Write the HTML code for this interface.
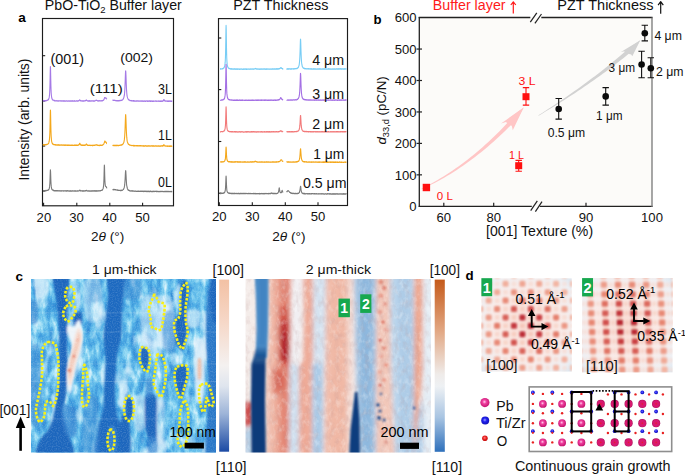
<!DOCTYPE html><html><head><meta charset="utf-8"><style>html,body{margin:0;padding:0;background:#fff;width:685px;height:475px;overflow:hidden}svg{display:block}text{font-family:"Liberation Sans", sans-serif}</style></head><body>
<svg width="685" height="475" viewBox="0 0 685 475">
<defs>
<filter id="b1" x="-20%" y="-20%" width="140%" height="140%"><feGaussianBlur stdDeviation="1.2"/></filter>
<filter id="b2" x="-20%" y="-20%" width="140%" height="140%"><feGaussianBlur stdDeviation="2.2"/></filter>
<filter id="b3" x="-20%" y="-20%" width="140%" height="140%"><feGaussianBlur stdDeviation="3.5"/></filter>
<filter id="bs" x="-50%" y="-50%" width="200%" height="200%"><feGaussianBlur stdDeviation="0.7"/></filter>
</defs>
<text x="18.2" y="22.1" font-size="13.6" text-anchor="start" fill="#000" font-weight="bold" >a</text>
<text x="44.8" y="10.4" font-size="14.2" text-anchor="start" fill="#111" textLength="137.0" lengthAdjust="spacingAndGlyphs" >PbO-TiO<tspan font-size="9.5" dy="3">2</tspan><tspan dy="-3"> Buffer layer</tspan></text>
<rect x="42.5" y="18.5" width="131" height="187.3" fill="none" stroke="#1c1c1c" stroke-width="1.15"/>
<line x1="43.6" y1="206" x2="43.6" y2="202.8" stroke="#1c1c1c" stroke-width="1.1"/>
<line x1="76.8" y1="206" x2="76.8" y2="202.8" stroke="#1c1c1c" stroke-width="1.1"/>
<line x1="109.8" y1="206" x2="109.8" y2="202.8" stroke="#1c1c1c" stroke-width="1.1"/>
<line x1="142.6" y1="206" x2="142.6" y2="202.8" stroke="#1c1c1c" stroke-width="1.1"/>
<line x1="42.6" y1="55.7" x2="45.2" y2="55.7" stroke="#1c1c1c" stroke-width="1.1"/>
<line x1="42.6" y1="101" x2="45.2" y2="101" stroke="#1c1c1c" stroke-width="1.1"/>
<line x1="42.6" y1="146" x2="45.2" y2="146" stroke="#1c1c1c" stroke-width="1.1"/>
<line x1="42.6" y1="191" x2="45.2" y2="191" stroke="#1c1c1c" stroke-width="1.1"/>
<text x="43.9" y="221.7" font-size="13.1" text-anchor="middle" fill="#111" >20</text>
<text x="76.6" y="221.7" font-size="13.1" text-anchor="middle" fill="#111" >30</text>
<text x="109.6" y="221.7" font-size="13.1" text-anchor="middle" fill="#111" >40</text>
<text x="142.6" y="221.7" font-size="13.1" text-anchor="middle" fill="#111" >50</text>
<text x="91.0" y="241.3" font-size="13.6" text-anchor="start" fill="#111" >2<tspan font-style="italic">θ</tspan> (°)</text>
<text x="28.9" y="119.6" font-size="13.9" text-anchor="middle" fill="#111" transform="rotate(-90 28.9 119.6)">Intensity (arb. units)</text>
<path d="M43.01,100.79 L43.14,100.70 L43.27,100.95 L43.40,100.65 L43.53,100.88 L43.66,100.79 L43.80,100.63 L43.93,100.85 L44.06,100.61 L44.19,100.80 L44.32,100.61 L44.46,100.62 L44.59,100.78 L44.72,100.97 L44.85,100.61 L44.98,100.65 L45.12,100.84 L45.25,100.99 L45.38,100.79 L45.51,100.69 L45.64,100.96 L45.78,100.48 L45.91,100.87 L46.04,100.57 L46.17,100.48 L46.30,100.44 L46.44,100.51 L46.57,100.74 L46.70,100.39 L46.83,100.56 L46.96,100.55 L47.09,100.38 L47.23,100.42 L47.36,100.12 L47.49,100.06 L47.62,100.07 L47.75,100.23 L47.89,100.01 L48.02,99.85 L48.15,99.87 L48.28,99.66 L48.41,99.41 L48.55,99.45 L48.68,99.15 L48.81,98.62 L48.94,98.39 L49.07,97.88 L49.21,97.42 L49.34,96.51 L49.47,95.16 L49.60,93.95 L49.73,91.32 L49.87,88.34 L50.00,84.03 L50.13,77.70 L50.26,71.12 L50.39,66.53 L50.53,68.21 L50.66,74.19 L50.79,80.75 L50.92,86.26 L51.05,89.81 L51.18,92.68 L51.32,94.51 L51.45,95.85 L51.58,96.77 L51.71,97.71 L51.84,98.32 L51.98,98.53 L52.11,98.97 L52.24,98.95 L52.37,99.50 L52.50,99.67 L52.64,100.00 L52.77,100.05 L52.90,99.89 L53.03,100.04 L53.16,100.26 L53.30,100.01 L53.43,100.30 L53.56,100.21 L53.69,100.23 L53.82,100.25 L53.96,100.64 L54.09,100.36 L54.22,100.45 L54.35,100.55 L54.48,100.81 L54.62,100.44 L54.75,100.65 L54.88,100.72 L55.01,100.90 L55.14,100.89 L55.27,100.93 L55.41,100.65 L55.54,100.73 L55.67,100.71 L55.80,100.99 L55.93,101.03 L56.07,100.64 L56.20,100.66 L56.33,100.70 L56.46,100.71 L56.59,100.84 L56.73,100.90 L56.86,100.74 L56.99,100.62 L57.12,100.83 L57.25,100.81 L57.39,100.92 L57.52,101.12 L57.65,100.99 L57.78,100.91 L57.91,100.96 L58.05,100.99 L58.18,100.69 L58.31,101.11 L58.44,101.06 L58.57,101.11 L58.70,101.07 L58.84,100.87 L58.97,100.88 L59.10,100.73 L59.23,101.00 L59.36,100.72 L59.50,100.72 L59.63,100.80 L59.76,100.78 L59.89,100.87 L60.02,100.73 L60.16,100.70 L60.29,100.78 L60.42,100.76 L60.55,100.89 L60.68,100.72 L60.82,101.15 L60.95,101.02 L61.08,100.79 L61.21,100.84 L61.34,100.89 L61.48,100.90 L61.61,100.78 L61.74,101.15 L61.87,101.22 L62.00,100.96 L62.14,100.97 L62.27,100.77 L62.40,100.78 L62.53,100.90 L62.66,100.86 L62.79,101.14 L62.93,100.81 L63.06,100.74 L63.19,101.21 L63.32,101.00 L63.45,100.81 L63.59,101.01 L63.72,100.75 L63.85,101.00 L63.98,101.23 L64.11,101.17 L64.25,101.09 L64.38,100.87 L64.51,100.92 L64.64,100.83 L64.77,101.13 L64.91,101.01 L65.04,101.13 L65.17,100.91 L65.30,100.86 L65.43,101.15 L65.57,101.24 L65.70,101.17 L65.83,101.15 L65.96,101.16 L66.09,101.12 L66.23,100.86 L66.36,101.01 L66.49,100.93 L66.62,100.77 L66.75,100.77 L66.88,100.89 L67.02,100.88 L67.15,101.10 L67.28,101.23 L67.41,100.98 L67.54,101.22 L67.68,101.25 L67.81,101.23 L67.94,100.94 L68.07,100.87 L68.20,100.87 L68.34,100.86 L68.47,100.86 L68.60,101.07 L68.73,101.21 L68.86,101.18 L69.00,101.00 L69.13,101.09 L69.26,101.16 L69.39,100.80 L69.52,101.09 L69.66,101.22 L69.79,101.15 L69.92,101.14 L70.05,101.00 L70.18,100.85 L70.31,101.16 L70.45,100.93 L70.58,101.16 L70.71,101.25 L70.84,100.96 L70.97,100.96 L71.11,101.24 L71.24,101.13 L71.37,100.85 L71.50,100.83 L71.63,100.84 L71.77,101.22 L71.90,101.17 L72.03,100.84 L72.16,101.18 L72.29,101.25 L72.43,101.09 L72.56,100.94 L72.69,101.04 L72.82,100.83 L72.95,100.77 L73.09,101.25 L73.22,101.09 L73.35,101.03 L73.48,101.23 L73.61,100.98 L73.75,101.20 L73.88,101.18 L74.01,100.87 L74.14,100.89 L74.27,100.91 L74.40,100.88 L74.54,101.06 L74.67,100.89 L74.80,100.97 L74.93,100.83 L75.06,101.22 L75.20,100.94 L75.33,100.99 L75.46,101.05 L75.59,101.21 L75.72,100.97 L75.86,101.22 L75.99,101.01 L76.12,101.02 L76.25,101.01 L76.38,100.76 L76.52,100.97 L76.65,100.84 L76.78,100.75 L76.91,101.14 L77.04,100.83 L77.18,100.97 L77.31,101.09 L77.44,101.00 L77.57,100.88 L77.70,100.97 L77.84,100.98 L77.97,101.09 L78.10,100.74 L78.23,100.95 L78.36,100.77 L78.49,100.76 L78.63,100.98 L78.76,100.81 L78.89,100.78 L79.02,100.81 L79.15,100.79 L79.29,100.42 L79.42,100.33 L79.55,100.07 L79.68,99.90 L79.81,99.92 L79.95,99.90 L80.08,100.13 L80.21,100.30 L80.34,100.70 L80.47,100.70 L80.61,100.89 L80.74,100.99 L80.87,100.69 L81.00,100.88 L81.13,101.10 L81.27,101.07 L81.40,100.74 L81.53,100.74 L81.66,100.91 L81.79,100.74 L81.92,100.83 L82.06,100.75 L82.19,101.06 L82.32,101.12 L82.45,101.18 L82.58,100.81 L82.72,101.09 L82.85,101.06 L82.98,100.81 L83.11,101.18 L83.24,101.22 L83.38,100.85 L83.51,101.21 L83.64,100.93 L83.77,100.98 L83.90,101.22 L84.04,101.14 L84.17,100.80 L84.30,100.93 L84.43,100.97 L84.56,100.87 L84.70,100.79 L84.83,100.84 L84.96,101.03 L85.09,100.66 L85.22,100.90 L85.36,100.81 L85.49,100.56 L85.62,100.66 L85.75,100.72 L85.88,100.55 L86.01,100.19 L86.15,100.48 L86.28,100.23 L86.41,100.26 L86.54,99.91 L86.67,100.15 L86.81,100.20 L86.94,100.71 L87.07,100.56 L87.20,100.57 L87.33,100.77 L87.47,101.06 L87.60,101.04 L87.73,100.79 L87.86,100.75 L87.99,101.15 L88.13,100.99 L88.26,101.06 L88.39,100.76 L88.52,100.75 L88.65,101.07 L88.79,100.95 L88.92,100.78 L89.05,101.21 L89.18,101.06 L89.31,101.15 L89.44,100.79 L89.58,101.18 L89.71,100.79 L89.84,101.19 L89.97,100.98 L90.10,100.93 L90.24,101.03 L90.37,101.22 L90.50,100.89 L90.63,100.82 L90.76,101.02 L90.90,100.88 L91.03,100.81 L91.16,100.84 L91.29,100.78 L91.42,100.86 L91.56,100.91 L91.69,100.91 L91.82,101.13 L91.95,100.90 L92.08,101.00 L92.22,100.84 L92.35,100.92 L92.48,100.76 L92.61,100.87 L92.74,100.75 L92.88,101.11 L93.01,101.02 L93.14,100.83 L93.27,100.97 L93.40,101.20 L93.53,100.78 L93.67,101.13 L93.80,100.93 L93.93,100.96 L94.06,101.12 L94.19,100.89 L94.33,100.94 L94.46,101.02 L94.59,101.15 L94.72,100.82 L94.85,101.04 L94.99,100.96 L95.12,100.89 L95.25,100.74 L95.38,100.66 L95.51,100.46 L95.65,100.42 L95.78,100.30 L95.91,100.54 L96.04,100.19 L96.17,100.07 L96.31,100.00 L96.44,100.41 L96.57,100.50 L96.70,100.50 L96.83,100.41 L96.97,100.47 L97.10,100.57 L97.23,100.71 L97.36,100.60 L97.49,100.78 L97.62,100.71 L97.76,101.08 L97.89,101.10 L98.02,100.90 L98.15,100.76 L98.28,101.13 L98.42,100.81 L98.55,100.84 L98.68,100.66 L98.81,100.85 L98.94,100.90 L99.08,100.92 L99.21,100.77 L99.34,100.92 L99.47,100.66 L99.60,100.79 L99.74,100.70 L99.87,100.85 L100.00,100.67 L100.13,100.66 L100.26,100.79 L100.40,100.75 L100.53,100.92 L100.66,100.89 L100.79,100.99 L100.92,100.93 L101.05,100.95 L101.19,101.02 L101.32,100.77 L101.45,100.72 L101.58,101.03 L101.71,100.60 L101.85,100.87 L101.98,100.81 L102.11,100.48 L102.24,100.85 L102.37,100.85 L102.51,100.68 L102.64,100.70 L102.77,100.69 L102.90,100.30 L103.03,100.43 L103.17,100.35 L103.30,100.43 L103.43,100.31 L103.56,100.20 L103.69,99.93 L103.83,99.91 L103.96,99.59 L104.09,99.34 L104.22,98.82 L104.35,98.39 L104.49,98.10 L104.62,97.89 L104.75,97.51 L104.88,97.74 L105.01,97.61 L105.14,97.75 L105.28,97.92 L105.41,98.11 L105.54,98.13 L105.67,97.93 L105.80,98.30 L105.94,98.22 L106.07,98.05 L106.20,98.12 L106.33,98.37 L106.46,98.36 L106.60,99.02 L106.73,99.09 L106.86,99.27 M112.64,100.06 L112.77,100.29 L112.90,100.03 L113.03,100.30 L113.16,100.43 L113.29,100.20 L113.43,100.16 L113.56,100.22 L113.69,100.35 L113.82,100.41 L113.95,100.36 L114.08,100.39 L114.22,100.14 L114.35,100.20 L114.48,100.27 L114.61,100.54 L114.74,100.35 L114.88,100.50 L115.01,100.25 L115.14,100.29 L115.27,100.41 L115.40,100.64 L115.53,100.66 L115.67,100.67 L115.80,100.49 L115.93,100.62 L116.06,100.61 L116.19,100.62 L116.32,100.46 L116.46,100.85 L116.59,100.52 L116.72,100.91 L116.85,100.90 L116.98,100.45 L117.12,100.67 L117.25,100.86 L117.38,100.93 L117.51,100.68 L117.64,100.59 L117.77,100.56 L117.91,100.93 L118.04,100.56 L118.17,100.75 L118.30,100.53 L118.43,100.71 L118.57,100.92 L118.70,100.51 L118.83,100.85 L118.96,100.69 L119.09,100.87 L119.22,100.77 L119.36,100.53 L119.49,100.85 L119.62,100.63 L119.75,100.39 L119.88,100.37 L120.01,100.59 L120.15,100.56 L120.28,100.47 L120.41,100.37 L120.54,100.45 L120.67,100.41 L120.81,100.65 L120.94,100.20 L121.07,100.54 L121.20,100.55 L121.33,100.16 L121.46,100.52 L121.60,100.37 L121.73,100.41 L121.86,100.05 L121.99,100.03 L122.12,99.98 L122.26,100.20 L122.39,99.91 L122.52,99.70 L122.65,99.63 L122.78,99.43 L122.91,99.18 L123.05,99.05 L123.18,99.23 L123.31,98.75 L123.44,98.83 L123.57,98.19 L123.70,97.86 L123.84,97.58 L123.97,96.93 L124.10,96.43 L124.23,96.00 L124.36,95.07 L124.50,93.92 L124.63,92.42 L124.76,90.79 L124.89,88.56 L125.02,85.57 L125.15,82.26 L125.29,78.07 L125.42,74.59 L125.55,71.54 L125.68,70.72 L125.81,72.03 L125.94,74.99 L126.08,78.76 L126.21,82.99 L126.34,85.89 L126.47,88.76 L126.60,90.85 L126.74,92.54 L126.87,94.11 L127.00,95.30 L127.13,95.81 L127.26,96.70 L127.39,97.10 L127.53,97.70 L127.66,98.02 L127.79,98.24 L127.92,98.52 L128.05,98.78 L128.19,99.34 L128.32,99.32 L128.45,99.33 L128.58,99.81 L128.71,99.98 L128.84,99.82 L128.98,99.76 L129.11,99.87 L129.24,99.89 L129.37,100.09 L129.50,100.02 L129.63,100.16 L129.77,100.22 L129.90,100.42 L130.03,100.62 L130.16,100.59 L130.29,100.46 L130.43,100.49 L130.56,100.58 L130.69,100.53 L130.82,100.54 L130.95,100.43 L131.08,100.56 L131.22,100.92 L131.35,100.52 L131.48,100.73 L131.61,100.81 L131.74,100.94 L131.88,100.63 L132.01,100.68 L132.14,100.68 L132.27,100.77 L132.40,100.80 L132.53,101.07 L132.67,101.02 L132.80,101.05 L132.93,100.63 L133.06,100.65 L133.19,100.99 L133.32,101.09 L133.46,100.89 L133.59,100.96 L133.72,100.67 L133.85,100.87 L133.98,101.15 L134.12,101.10 L134.25,101.12 L134.38,101.19 L134.51,100.83 L134.64,100.77 L134.77,100.79 L134.91,100.98 L135.04,101.07 L135.17,101.20 L135.30,101.10 L135.43,101.06 L135.56,101.13 L135.70,100.98 L135.83,101.03 L135.96,100.77 L136.09,101.15 L136.22,100.88 L136.36,101.22 L136.49,101.09 L136.62,100.92 L136.75,100.84 L136.88,100.90 L137.01,101.10 L137.15,101.13 L137.28,100.84 L137.41,100.82 L137.54,101.05 L137.67,101.08 L137.81,100.99 L137.94,100.91 L138.07,101.10 L138.20,100.81 L138.33,100.95 L138.46,101.03 L138.60,101.29 L138.73,101.13 L138.86,101.25 L138.99,101.05 L139.12,100.93 L139.25,100.94 L139.39,101.30 L139.52,101.17 L139.65,100.97 L139.78,100.83 L139.91,101.07 L140.05,101.16 L140.18,101.04 L140.31,100.96 L140.44,101.16 L140.57,101.29 L140.70,100.94 L140.84,100.85 L140.97,101.00 L141.10,101.05 L141.23,101.18 L141.36,100.94 L141.50,101.24 L141.63,101.21 L141.76,101.09 L141.89,100.95 L142.02,101.33 L142.15,101.00 L142.29,101.26 L142.42,100.96 L142.55,100.96 L142.68,101.23 L142.81,101.00 L142.94,101.33 L143.08,101.10 L143.21,100.95 L143.34,100.96 L143.47,101.06 L143.60,101.19 L143.74,101.33 L143.87,100.93 L144.00,101.05 L144.13,100.96 L144.26,101.35 L144.39,100.93 L144.53,100.89 L144.66,100.89 L144.79,101.06 L144.92,101.31 L145.05,101.31 L145.18,101.23 L145.32,101.36 L145.45,101.33 L145.58,101.03 L145.71,100.96 L145.84,101.34 L145.98,101.24 L146.11,100.89 L146.24,101.20 L146.37,101.06 L146.50,101.06 L146.63,101.04 L146.77,100.96 L146.90,100.87 L147.03,101.01 L147.16,101.05 L147.29,101.35 L147.43,100.94 L147.56,101.36 L147.69,100.98 L147.82,101.06 L147.95,101.29 L148.08,101.29 L148.22,101.10 L148.35,100.90 L148.48,101.12 L148.61,101.07 L148.74,101.34 L148.87,100.98 L149.01,101.06 L149.14,101.33 L149.27,100.90 L149.40,101.09 L149.53,101.29 L149.67,101.27 L149.80,100.91 L149.93,100.90 L150.06,100.92 L150.19,101.35 L150.32,101.02 L150.46,101.26 L150.59,101.34 L150.72,101.06 L150.85,101.02 L150.98,101.37 L151.12,101.20 L151.25,101.02 L151.38,101.25 L151.51,101.05 L151.64,101.03 L151.77,100.89 L151.91,101.27 L152.04,101.35 L152.17,101.21 L152.30,101.36 L152.43,100.91 L152.56,101.01 L152.70,101.13 L152.83,101.37 L152.96,101.37 L153.09,101.09 L153.22,101.02 L153.36,101.11 L153.49,101.14 L153.62,101.36 L153.75,100.99 L153.88,101.30 L154.01,101.27 L154.15,101.31 L154.28,101.28 L154.41,101.20 L154.54,101.06 L154.67,101.06 L154.80,101.08 L154.94,101.29 L155.07,100.94 L155.20,101.00 L155.33,101.28 L155.46,101.02 L155.60,100.93 L155.73,100.92 L155.86,101.18 L155.99,101.06 L156.12,101.39 L156.25,101.34 L156.39,101.40 L156.52,101.04 L156.65,100.94 L156.78,100.95 L156.91,101.15 L157.05,101.26 L157.18,101.13 L157.31,101.02 L157.44,101.11 L157.57,101.21 L157.70,101.24 L157.84,101.28 L157.97,101.33 L158.10,101.24 L158.23,100.96 L158.36,101.32 L158.49,101.05 L158.63,101.19 L158.76,101.09 L158.89,101.27 L159.02,101.00 L159.15,101.03 L159.29,101.03 L159.42,100.98 L159.55,101.34 L159.68,101.19 L159.81,101.06 L159.94,101.10 L160.08,101.40 L160.21,101.15 L160.34,101.01 L160.47,101.30 L160.60,101.22 L160.74,101.39 L160.87,100.94 L161.00,101.13 L161.13,101.30 L161.26,101.31 L161.39,101.34 L161.53,100.90 L161.66,101.02 L161.79,100.93 L161.92,100.96 L162.05,101.34 L162.18,101.14 L162.32,101.30 L162.45,101.01 L162.58,101.24 L162.71,101.01 L162.84,100.88 L162.98,101.10 L163.11,101.12 L163.24,100.62 L163.37,100.74 L163.50,100.57 L163.63,100.12 L163.77,99.87 L163.90,99.52 L164.03,99.58 L164.16,99.89 L164.29,100.37 L164.42,100.64 L164.56,100.58 L164.69,100.60 L164.82,100.83 L164.95,101.06 L165.08,100.86 L165.22,100.95 L165.35,100.92 L165.48,101.23 L165.61,101.12 L165.74,100.89 L165.87,100.92 L166.01,101.07 L166.14,101.16 L166.27,101.21 L166.40,100.94 L166.53,100.98 L166.67,101.25 L166.80,101.11 L166.93,101.05 L167.06,101.06 L167.19,101.39 L167.32,101.07 L167.46,101.20 L167.59,101.09 L167.72,101.12 L167.85,101.35 L167.98,101.42 L168.11,101.10 L168.25,101.02 L168.38,101.29 L168.51,101.02 L168.64,100.93 L168.77,101.38 L168.91,101.14 L169.04,101.34 L169.17,101.13 L169.30,101.37 L169.43,101.16 L169.56,101.01 L169.70,100.94 L169.83,101.21 L169.96,101.25 L170.09,101.39 L170.22,100.98 L170.36,101.24 L170.49,101.12 L170.62,101.19 L170.75,101.01 L170.88,101.08 L171.01,101.19 L171.15,101.40 L171.28,100.99 L171.41,101.18 L171.54,101.34 L171.67,101.42 L171.80,101.04 L171.94,101.00 L172.07,101.41 L172.20,101.43 " fill="none" stroke="#a57ae6" stroke-width="1.1" stroke-linejoin="round"/>
<path d="M43.01,144.87 L43.14,144.65 L43.27,145.08 L43.40,144.81 L43.53,145.07 L43.66,144.92 L43.80,145.02 L43.93,144.68 L44.06,144.99 L44.19,144.70 L44.32,144.79 L44.46,145.00 L44.59,144.99 L44.72,144.65 L44.85,144.66 L44.98,144.75 L45.12,144.79 L45.25,144.72 L45.38,144.58 L45.51,144.62 L45.64,144.85 L45.78,144.92 L45.91,144.48 L46.04,144.72 L46.17,144.80 L46.30,144.42 L46.44,144.79 L46.57,144.41 L46.70,144.62 L46.83,144.56 L46.96,144.56 L47.09,144.36 L47.23,144.37 L47.36,144.40 L47.49,144.26 L47.62,144.31 L47.75,144.12 L47.89,144.03 L48.02,143.72 L48.15,143.89 L48.28,143.68 L48.41,143.38 L48.55,143.43 L48.68,143.18 L48.81,142.70 L48.94,142.17 L49.07,141.81 L49.21,140.97 L49.34,140.12 L49.47,139.12 L49.60,137.35 L49.73,135.26 L49.87,132.07 L50.00,127.23 L50.13,121.32 L50.26,114.11 L50.39,109.94 L50.53,111.37 L50.66,117.34 L50.79,123.96 L50.92,129.70 L51.05,133.59 L51.18,136.63 L51.32,138.16 L51.45,139.90 L51.58,140.99 L51.71,141.62 L51.84,142.24 L51.98,142.39 L52.11,143.14 L52.24,143.19 L52.37,143.66 L52.50,143.83 L52.64,143.62 L52.77,144.07 L52.90,144.26 L53.03,143.93 L53.16,144.16 L53.30,144.44 L53.43,144.21 L53.56,144.64 L53.69,144.38 L53.82,144.69 L53.96,144.40 L54.09,144.62 L54.22,144.86 L54.35,144.53 L54.48,144.59 L54.62,144.74 L54.75,144.67 L54.88,144.55 L55.01,144.64 L55.14,144.65 L55.27,145.05 L55.41,144.94 L55.54,145.06 L55.67,144.71 L55.80,145.03 L55.93,144.71 L56.07,144.93 L56.20,144.99 L56.33,144.86 L56.46,145.13 L56.59,144.98 L56.73,145.00 L56.86,145.16 L56.99,144.78 L57.12,145.23 L57.25,145.05 L57.39,144.94 L57.52,145.15 L57.65,144.89 L57.78,145.26 L57.91,145.05 L58.05,144.95 L58.18,145.16 L58.31,145.00 L58.44,144.87 L58.57,145.16 L58.70,144.82 L58.84,145.21 L58.97,144.93 L59.10,145.13 L59.23,145.30 L59.36,145.11 L59.50,145.15 L59.63,144.98 L59.76,144.82 L59.89,144.84 L60.02,144.91 L60.16,145.14 L60.29,145.05 L60.42,145.10 L60.55,145.29 L60.68,144.91 L60.82,144.96 L60.95,145.18 L61.08,144.86 L61.21,144.86 L61.34,145.04 L61.48,144.91 L61.61,145.04 L61.74,144.98 L61.87,145.16 L62.00,145.16 L62.14,144.97 L62.27,145.19 L62.40,145.11 L62.53,144.95 L62.66,145.35 L62.79,145.00 L62.93,144.96 L63.06,144.94 L63.19,145.21 L63.32,145.33 L63.45,145.28 L63.59,145.10 L63.72,145.03 L63.85,144.90 L63.98,145.22 L64.11,145.18 L64.25,145.08 L64.38,145.23 L64.51,145.13 L64.64,145.38 L64.77,145.28 L64.91,145.04 L65.04,145.37 L65.17,144.94 L65.30,145.18 L65.43,145.12 L65.57,145.04 L65.70,144.95 L65.83,145.31 L65.96,144.93 L66.09,145.20 L66.23,145.40 L66.36,145.00 L66.49,145.03 L66.62,145.24 L66.75,145.19 L66.88,145.26 L67.02,145.35 L67.15,145.03 L67.28,145.10 L67.41,145.09 L67.54,144.97 L67.68,145.39 L67.81,145.34 L67.94,145.31 L68.07,144.95 L68.20,145.37 L68.34,145.33 L68.47,145.19 L68.60,145.33 L68.73,145.18 L68.86,145.07 L69.00,145.01 L69.13,145.08 L69.26,144.98 L69.39,145.13 L69.52,145.34 L69.66,145.31 L69.79,145.39 L69.92,145.32 L70.05,145.10 L70.18,145.25 L70.31,145.19 L70.45,145.37 L70.58,145.24 L70.71,145.11 L70.84,145.30 L70.97,145.46 L71.11,145.09 L71.24,145.42 L71.37,144.99 L71.50,145.11 L71.63,145.10 L71.77,145.36 L71.90,145.46 L72.03,145.36 L72.16,145.15 L72.29,145.43 L72.43,145.15 L72.56,145.11 L72.69,145.45 L72.82,145.31 L72.95,145.34 L73.09,145.33 L73.22,145.49 L73.35,145.23 L73.48,145.42 L73.61,145.35 L73.75,145.43 L73.88,145.22 L74.01,145.36 L74.14,145.29 L74.27,145.16 L74.40,145.11 L74.54,145.31 L74.67,145.04 L74.80,145.46 L74.93,145.08 L75.06,145.02 L75.20,145.06 L75.33,145.47 L75.46,145.17 L75.59,145.07 L75.72,145.02 L75.86,145.02 L75.99,145.35 L76.12,145.32 L76.25,145.35 L76.38,145.36 L76.52,145.03 L76.65,145.29 L76.78,145.17 L76.91,145.39 L77.04,145.39 L77.18,145.42 L77.31,145.00 L77.44,145.40 L77.57,145.41 L77.70,145.41 L77.84,144.98 L77.97,145.02 L78.10,144.95 L78.23,144.89 L78.36,145.26 L78.49,145.21 L78.63,145.07 L78.76,145.10 L78.89,144.92 L79.02,144.63 L79.15,144.37 L79.29,144.15 L79.42,144.19 L79.55,143.57 L79.68,143.33 L79.81,143.28 L79.95,143.23 L80.08,143.67 L80.21,144.02 L80.34,144.51 L80.47,144.55 L80.61,144.68 L80.74,145.12 L80.87,144.97 L81.00,145.21 L81.13,145.14 L81.27,144.88 L81.40,145.10 L81.53,145.14 L81.66,145.33 L81.79,145.13 L81.92,145.32 L82.06,145.25 L82.19,145.10 L82.32,145.43 L82.45,145.05 L82.58,145.42 L82.72,145.10 L82.85,145.02 L82.98,145.13 L83.11,145.41 L83.24,145.52 L83.38,145.03 L83.51,145.28 L83.64,145.28 L83.77,145.43 L83.90,145.12 L84.04,145.27 L84.17,145.20 L84.30,145.43 L84.43,145.14 L84.56,145.47 L84.70,145.13 L84.83,145.08 L84.96,145.31 L85.09,145.18 L85.22,144.96 L85.36,145.18 L85.49,144.85 L85.62,145.13 L85.75,144.98 L85.88,144.88 L86.01,144.61 L86.15,144.26 L86.28,144.09 L86.41,144.01 L86.54,144.36 L86.67,144.17 L86.81,144.79 L86.94,144.54 L87.07,144.77 L87.20,144.90 L87.33,145.29 L87.47,145.14 L87.60,145.13 L87.73,145.41 L87.86,145.11 L87.99,145.25 L88.13,145.30 L88.26,145.42 L88.39,145.43 L88.52,145.39 L88.65,145.25 L88.79,145.24 L88.92,145.17 L89.05,145.51 L89.18,145.43 L89.31,145.47 L89.44,145.19 L89.58,145.33 L89.71,145.50 L89.84,145.41 L89.97,145.18 L90.10,145.35 L90.24,145.57 L90.37,145.24 L90.50,145.22 L90.63,145.28 L90.76,145.48 L90.90,145.55 L91.03,145.21 L91.16,145.21 L91.29,145.26 L91.42,145.30 L91.56,145.40 L91.69,145.22 L91.82,145.30 L91.95,145.23 L92.08,145.62 L92.22,145.50 L92.35,145.19 L92.48,145.62 L92.61,145.19 L92.74,145.33 L92.88,145.63 L93.01,145.53 L93.14,145.50 L93.27,145.35 L93.40,145.23 L93.53,145.44 L93.67,145.17 L93.80,145.22 L93.93,145.31 L94.06,145.12 L94.19,145.30 L94.33,145.49 L94.46,145.43 L94.59,145.32 L94.72,145.37 L94.85,145.27 L94.99,145.08 L95.12,145.29 L95.25,145.15 L95.38,145.27 L95.51,145.30 L95.65,144.99 L95.78,144.97 L95.91,144.96 L96.04,144.69 L96.17,144.52 L96.31,144.74 L96.44,144.85 L96.57,144.88 L96.70,144.94 L96.83,145.12 L96.97,145.12 L97.10,145.17 L97.23,145.13 L97.36,145.11 L97.49,145.30 L97.62,145.06 L97.76,145.24 L97.89,145.44 L98.02,145.42 L98.15,145.39 L98.28,145.21 L98.42,145.30 L98.55,145.32 L98.68,145.41 L98.81,145.31 L98.94,145.44 L99.08,145.57 L99.21,145.20 L99.34,145.43 L99.47,145.49 L99.60,145.30 L99.74,145.35 L99.87,145.59 L100.00,145.11 L100.13,145.36 L100.26,145.17 L100.40,145.47 L100.53,145.54 L100.66,145.33 L100.79,145.11 L100.92,145.33 L101.05,145.31 L101.19,145.38 L101.32,145.27 L101.45,145.31 L101.58,145.39 L101.71,145.22 L101.85,145.14 L101.98,145.39 L102.11,144.99 L102.24,145.19 L102.37,145.01 L102.51,145.15 L102.64,144.78 L102.77,145.16 L102.90,144.78 L103.03,144.55 L103.17,144.56 L103.30,144.52 L103.43,144.19 L103.56,144.24 L103.69,144.05 L103.83,143.96 L103.96,143.52 L104.09,143.15 L104.22,142.75 L104.35,142.58 L104.49,142.24 L104.62,141.62 L104.75,141.15 L104.88,141.29 L105.01,141.11 L105.14,141.20 L105.28,141.43 L105.41,142.02 L105.54,142.26 L105.67,142.31 L105.80,142.28 L105.94,142.33 L106.07,142.18 L106.20,142.65 L106.33,142.57 L106.46,143.04 L106.60,143.48 L106.73,143.82 L106.86,143.94 M112.64,145.40 L112.77,145.52 L112.90,145.31 L113.03,145.67 L113.16,145.43 L113.29,145.68 L113.43,145.39 L113.56,145.45 L113.69,145.39 L113.82,145.47 L113.95,145.35 L114.08,145.26 L114.22,145.62 L114.35,145.40 L114.48,145.38 L114.61,145.41 L114.74,145.50 L114.88,145.47 L115.01,145.58 L115.14,145.59 L115.27,145.44 L115.40,145.72 L115.53,145.68 L115.67,145.28 L115.80,145.67 L115.93,145.70 L116.06,145.64 L116.19,145.32 L116.32,145.66 L116.46,145.56 L116.59,145.25 L116.72,145.24 L116.85,145.71 L116.98,145.56 L117.12,145.35 L117.25,145.27 L117.38,145.29 L117.51,145.33 L117.64,145.60 L117.77,145.38 L117.91,145.27 L118.04,145.64 L118.17,145.58 L118.30,145.26 L118.43,145.62 L118.57,145.47 L118.70,145.55 L118.83,145.48 L118.96,145.58 L119.09,145.52 L119.22,145.53 L119.36,145.20 L119.49,145.44 L119.62,145.34 L119.75,145.43 L119.88,145.27 L120.01,145.47 L120.15,145.29 L120.28,145.12 L120.41,145.09 L120.54,145.02 L120.67,145.17 L120.81,144.92 L120.94,145.10 L121.07,144.91 L121.20,145.04 L121.33,145.01 L121.46,144.99 L121.60,145.10 L121.73,144.62 L121.86,144.98 L121.99,144.74 L122.12,144.71 L122.26,144.69 L122.39,144.69 L122.52,144.36 L122.65,144.27 L122.78,144.42 L122.91,143.83 L123.05,143.95 L123.18,143.77 L123.31,143.25 L123.44,143.29 L123.57,143.03 L123.70,142.81 L123.84,142.10 L123.97,141.93 L124.10,141.09 L124.23,140.34 L124.36,139.64 L124.50,138.07 L124.63,136.99 L124.76,135.14 L124.89,132.72 L125.02,130.14 L125.15,126.44 L125.29,122.58 L125.42,118.72 L125.55,115.89 L125.68,114.62 L125.81,116.12 L125.94,119.30 L126.08,123.32 L126.21,127.31 L126.34,130.40 L126.47,133.41 L126.60,135.39 L126.74,137.17 L126.87,138.43 L127.00,139.64 L127.13,140.75 L127.26,141.31 L127.39,141.96 L127.53,142.21 L127.66,142.61 L127.79,142.94 L127.92,143.37 L128.05,143.64 L128.19,143.93 L128.32,143.74 L128.45,144.24 L128.58,144.46 L128.71,144.42 L128.84,144.28 L128.98,144.50 L129.11,144.44 L129.24,144.61 L129.37,145.05 L129.50,144.96 L129.63,145.04 L129.77,145.16 L129.90,145.27 L130.03,145.16 L130.16,145.21 L130.29,145.25 L130.43,145.32 L130.56,145.30 L130.69,145.37 L130.82,145.16 L130.95,145.42 L131.08,145.34 L131.22,145.51 L131.35,145.20 L131.48,145.26 L131.61,145.21 L131.74,145.59 L131.88,145.68 L132.01,145.57 L132.14,145.44 L132.27,145.68 L132.40,145.67 L132.53,145.57 L132.67,145.43 L132.80,145.46 L132.93,145.54 L133.06,145.49 L133.19,145.56 L133.32,145.67 L133.46,145.83 L133.59,145.40 L133.72,145.66 L133.85,145.41 L133.98,145.45 L134.12,145.81 L134.25,145.70 L134.38,145.88 L134.51,145.65 L134.64,145.44 L134.77,145.63 L134.91,145.74 L135.04,145.91 L135.17,145.94 L135.30,145.69 L135.43,145.67 L135.56,145.52 L135.70,145.79 L135.83,145.58 L135.96,145.56 L136.09,145.49 L136.22,145.49 L136.36,145.84 L136.49,145.56 L136.62,145.99 L136.75,145.55 L136.88,145.94 L137.01,145.58 L137.15,145.53 L137.28,145.88 L137.41,145.65 L137.54,145.89 L137.67,145.62 L137.81,145.56 L137.94,145.92 L138.07,145.90 L138.20,145.97 L138.33,145.91 L138.46,145.59 L138.60,145.87 L138.73,145.91 L138.86,145.79 L138.99,146.03 L139.12,145.69 L139.25,146.05 L139.39,145.93 L139.52,145.58 L139.65,145.58 L139.78,145.90 L139.91,145.99 L140.05,145.62 L140.18,145.74 L140.31,145.95 L140.44,145.67 L140.57,146.02 L140.70,145.84 L140.84,145.63 L140.97,145.78 L141.10,145.89 L141.23,145.82 L141.36,145.94 L141.50,145.68 L141.63,146.01 L141.76,145.79 L141.89,145.94 L142.02,145.93 L142.15,145.83 L142.29,145.81 L142.42,146.01 L142.55,146.10 L142.68,146.02 L142.81,145.91 L142.94,145.78 L143.08,145.66 L143.21,146.12 L143.34,145.99 L143.47,146.05 L143.60,145.80 L143.74,145.94 L143.87,146.13 L144.00,146.06 L144.13,145.95 L144.26,145.80 L144.39,145.86 L144.53,146.10 L144.66,145.84 L144.79,146.00 L144.92,145.96 L145.05,146.11 L145.18,146.06 L145.32,145.80 L145.45,145.66 L145.58,145.80 L145.71,145.88 L145.84,145.96 L145.98,146.08 L146.11,146.12 L146.24,145.69 L146.37,146.09 L146.50,146.08 L146.63,146.11 L146.77,145.97 L146.90,145.82 L147.03,146.11 L147.16,146.09 L147.29,146.03 L147.43,146.14 L147.56,145.86 L147.69,145.73 L147.82,145.97 L147.95,146.09 L148.08,145.80 L148.22,146.07 L148.35,146.16 L148.48,145.82 L148.61,146.00 L148.74,146.04 L148.87,145.94 L149.01,145.81 L149.14,145.83 L149.27,146.08 L149.40,146.11 L149.53,145.94 L149.67,145.76 L149.80,146.12 L149.93,146.10 L150.06,145.83 L150.19,146.01 L150.32,146.17 L150.46,146.16 L150.59,145.98 L150.72,145.96 L150.85,146.02 L150.98,145.82 L151.12,145.83 L151.25,145.82 L151.38,146.08 L151.51,145.91 L151.64,146.02 L151.77,145.94 L151.91,146.00 L152.04,145.81 L152.17,145.76 L152.30,146.24 L152.43,145.93 L152.56,145.80 L152.70,146.06 L152.83,146.14 L152.96,145.83 L153.09,146.05 L153.22,145.92 L153.36,146.01 L153.49,145.76 L153.62,145.77 L153.75,146.25 L153.88,146.19 L154.01,146.00 L154.15,146.04 L154.28,145.89 L154.41,146.15 L154.54,145.98 L154.67,146.24 L154.80,146.15 L154.94,146.18 L155.07,146.25 L155.20,145.90 L155.33,145.79 L155.46,145.87 L155.60,145.87 L155.73,145.82 L155.86,145.80 L155.99,146.06 L156.12,146.22 L156.25,146.01 L156.39,146.26 L156.52,146.24 L156.65,145.82 L156.78,146.09 L156.91,145.99 L157.05,145.85 L157.18,146.27 L157.31,145.92 L157.44,146.07 L157.57,146.11 L157.70,146.27 L157.84,146.13 L157.97,145.99 L158.10,146.02 L158.23,145.88 L158.36,146.28 L158.49,146.30 L158.63,145.91 L158.76,145.82 L158.89,145.93 L159.02,145.98 L159.15,146.26 L159.29,146.26 L159.42,146.22 L159.55,145.83 L159.68,146.20 L159.81,146.16 L159.94,146.13 L160.08,146.30 L160.21,145.84 L160.34,145.88 L160.47,146.19 L160.60,146.28 L160.74,146.15 L160.87,145.96 L161.00,146.10 L161.13,146.18 L161.26,145.86 L161.39,145.96 L161.53,145.93 L161.66,145.86 L161.79,146.03 L161.92,145.87 L162.05,145.90 L162.18,145.84 L162.32,146.10 L162.45,145.76 L162.58,146.09 L162.71,145.81 L162.84,145.70 L162.98,146.10 L163.11,145.69 L163.24,145.97 L163.37,145.81 L163.50,145.64 L163.63,145.01 L163.77,144.85 L163.90,144.44 L164.03,144.89 L164.16,145.12 L164.29,145.32 L164.42,145.48 L164.56,145.59 L164.69,145.95 L164.82,145.85 L164.95,145.98 L165.08,145.78 L165.22,145.85 L165.35,145.79 L165.48,146.14 L165.61,146.07 L165.74,145.88 L165.87,146.26 L166.01,145.96 L166.14,146.04 L166.27,145.92 L166.40,145.98 L166.53,146.27 L166.67,146.02 L166.80,145.95 L166.93,146.11 L167.06,146.03 L167.19,146.32 L167.32,145.93 L167.46,146.37 L167.59,145.91 L167.72,146.33 L167.85,146.22 L167.98,145.99 L168.11,146.13 L168.25,146.03 L168.38,146.02 L168.51,146.00 L168.64,146.08 L168.77,146.39 L168.91,146.40 L169.04,146.37 L169.17,145.95 L169.30,146.05 L169.43,146.36 L169.56,145.94 L169.70,146.27 L169.83,146.06 L169.96,146.40 L170.09,145.92 L170.22,146.32 L170.36,146.09 L170.49,145.99 L170.62,145.92 L170.75,146.34 L170.88,146.19 L171.01,146.02 L171.15,146.15 L171.28,146.39 L171.41,146.04 L171.54,146.22 L171.67,146.00 L171.80,146.02 L171.94,146.32 L172.07,146.29 L172.20,146.04 " fill="none" stroke="#f4a81c" stroke-width="1.1" stroke-linejoin="round"/>
<path d="M43.01,190.51 L43.14,190.51 L43.27,190.77 L43.40,190.71 L43.53,190.60 L43.66,190.57 L43.80,190.77 L43.93,190.81 L44.06,190.86 L44.19,190.74 L44.32,190.55 L44.46,190.48 L44.59,190.81 L44.72,190.64 L44.85,190.79 L44.98,190.45 L45.12,190.82 L45.25,190.58 L45.38,190.83 L45.51,190.83 L45.64,190.64 L45.78,190.39 L45.91,190.83 L46.04,190.60 L46.17,190.79 L46.30,190.47 L46.44,190.42 L46.57,190.72 L46.70,190.47 L46.83,190.35 L46.96,190.43 L47.09,190.52 L47.23,190.20 L47.36,190.43 L47.49,190.35 L47.62,190.35 L47.75,190.10 L47.89,190.35 L48.02,190.34 L48.15,190.29 L48.28,189.93 L48.41,190.02 L48.55,189.73 L48.68,189.76 L48.81,189.23 L48.94,189.40 L49.07,189.15 L49.21,188.53 L49.34,188.03 L49.47,187.35 L49.60,186.41 L49.73,184.82 L49.87,183.38 L50.00,180.28 L50.13,176.59 L50.26,172.45 L50.39,169.86 L50.53,170.98 L50.66,174.20 L50.79,178.29 L50.92,181.85 L51.05,183.93 L51.18,185.47 L51.32,186.91 L51.45,187.72 L51.58,188.29 L51.71,188.83 L51.84,188.88 L51.98,189.53 L52.11,189.67 L52.24,189.50 L52.37,189.68 L52.50,189.98 L52.64,190.08 L52.77,190.06 L52.90,190.05 L53.03,190.25 L53.16,190.17 L53.30,190.44 L53.43,190.61 L53.56,190.29 L53.69,190.53 L53.82,190.65 L53.96,190.38 L54.09,190.74 L54.22,190.81 L54.35,190.56 L54.48,190.59 L54.62,190.81 L54.75,190.67 L54.88,190.62 L55.01,190.90 L55.14,190.83 L55.27,190.62 L55.41,190.58 L55.54,190.64 L55.67,190.69 L55.80,190.98 L55.93,190.89 L56.07,190.95 L56.20,190.91 L56.33,190.93 L56.46,190.54 L56.59,190.78 L56.73,191.00 L56.86,191.00 L56.99,190.66 L57.12,190.75 L57.25,190.86 L57.39,190.73 L57.52,190.82 L57.65,190.59 L57.78,190.77 L57.91,190.81 L58.05,190.57 L58.18,190.64 L58.31,191.05 L58.44,190.96 L58.57,191.04 L58.70,190.89 L58.84,190.99 L58.97,191.03 L59.10,191.03 L59.23,190.60 L59.36,190.91 L59.50,190.72 L59.63,190.93 L59.76,190.73 L59.89,190.87 L60.02,191.06 L60.16,190.91 L60.29,190.73 L60.42,190.87 L60.55,190.82 L60.68,191.08 L60.82,190.75 L60.95,190.76 L61.08,190.94 L61.21,190.68 L61.34,190.91 L61.48,191.10 L61.61,190.88 L61.74,190.76 L61.87,190.86 L62.00,190.89 L62.14,190.70 L62.27,190.69 L62.40,190.69 L62.53,190.78 L62.66,190.83 L62.79,190.78 L62.93,190.75 L63.06,190.68 L63.19,190.91 L63.32,191.06 L63.45,190.94 L63.59,190.92 L63.72,190.97 L63.85,190.74 L63.98,191.00 L64.11,190.87 L64.25,190.92 L64.38,190.95 L64.51,190.88 L64.64,190.80 L64.77,190.77 L64.91,190.76 L65.04,190.91 L65.17,190.84 L65.30,190.95 L65.43,190.66 L65.57,190.83 L65.70,191.09 L65.83,190.78 L65.96,190.94 L66.09,190.91 L66.23,190.80 L66.36,191.15 L66.49,190.81 L66.62,191.05 L66.75,190.74 L66.88,190.70 L67.02,191.10 L67.15,190.89 L67.28,190.70 L67.41,190.86 L67.54,190.89 L67.68,191.04 L67.81,190.73 L67.94,190.78 L68.07,191.15 L68.20,191.04 L68.34,190.75 L68.47,190.84 L68.60,190.85 L68.73,191.01 L68.86,190.99 L69.00,191.10 L69.13,191.09 L69.26,190.94 L69.39,191.05 L69.52,191.05 L69.66,191.06 L69.79,190.92 L69.92,191.08 L70.05,191.04 L70.18,191.14 L70.31,190.75 L70.45,191.12 L70.58,190.69 L70.71,191.07 L70.84,190.98 L70.97,190.94 L71.11,191.17 L71.24,190.98 L71.37,190.90 L71.50,191.09 L71.63,191.13 L71.77,191.00 L71.90,190.88 L72.03,190.92 L72.16,190.93 L72.29,191.06 L72.43,190.84 L72.56,190.89 L72.69,190.98 L72.82,190.89 L72.95,190.86 L73.09,191.09 L73.22,191.13 L73.35,190.95 L73.48,190.92 L73.61,190.80 L73.75,190.86 L73.88,190.78 L74.01,190.99 L74.14,191.00 L74.27,190.75 L74.40,191.17 L74.54,190.87 L74.67,191.13 L74.80,191.13 L74.93,191.19 L75.06,190.81 L75.20,190.92 L75.33,191.16 L75.46,190.71 L75.59,190.73 L75.72,190.99 L75.86,190.96 L75.99,191.17 L76.12,191.09 L76.25,190.98 L76.38,191.21 L76.52,190.96 L76.65,190.96 L76.78,191.05 L76.91,190.90 L77.04,190.88 L77.18,191.00 L77.31,190.87 L77.44,191.17 L77.57,191.03 L77.70,190.95 L77.84,190.73 L77.97,190.86 L78.10,190.87 L78.23,190.94 L78.36,190.93 L78.49,191.07 L78.63,191.09 L78.76,190.83 L78.89,190.77 L79.02,190.82 L79.15,190.94 L79.29,190.52 L79.42,190.50 L79.55,190.51 L79.68,190.06 L79.81,190.10 L79.95,190.49 L80.08,190.54 L80.21,190.52 L80.34,190.43 L80.47,190.91 L80.61,190.87 L80.74,190.98 L80.87,191.09 L81.00,191.07 L81.13,190.85 L81.27,190.74 L81.40,190.82 L81.53,190.94 L81.66,190.94 L81.79,190.79 L81.92,190.79 L82.06,191.02 L82.19,191.01 L82.32,190.89 L82.45,191.21 L82.58,191.04 L82.72,190.74 L82.85,190.93 L82.98,191.12 L83.11,190.88 L83.24,191.07 L83.38,190.73 L83.51,190.88 L83.64,191.14 L83.77,191.02 L83.90,191.06 L84.04,190.82 L84.17,190.97 L84.30,190.99 L84.43,190.85 L84.56,191.03 L84.70,190.97 L84.83,191.20 L84.96,190.98 L85.09,190.88 L85.22,190.72 L85.36,190.72 L85.49,191.00 L85.62,190.64 L85.75,190.59 L85.88,190.56 L86.01,190.64 L86.15,190.69 L86.28,190.50 L86.41,190.56 L86.54,190.24 L86.67,190.31 L86.81,190.79 L86.94,190.65 L87.07,190.91 L87.20,190.77 L87.33,190.71 L87.47,190.79 L87.60,190.72 L87.73,191.14 L87.86,190.99 L87.99,190.88 L88.13,190.94 L88.26,190.92 L88.39,190.76 L88.52,191.18 L88.65,191.03 L88.79,191.22 L88.92,190.96 L89.05,191.05 L89.18,190.87 L89.31,190.77 L89.44,191.21 L89.58,191.18 L89.71,190.91 L89.84,191.20 L89.97,191.16 L90.10,190.91 L90.24,191.06 L90.37,191.23 L90.50,191.00 L90.63,191.23 L90.76,190.88 L90.90,190.95 L91.03,191.12 L91.16,190.87 L91.29,190.91 L91.42,191.19 L91.56,191.00 L91.69,191.15 L91.82,190.88 L91.95,190.84 L92.08,190.93 L92.22,190.85 L92.35,191.24 L92.48,190.90 L92.61,191.04 L92.74,190.81 L92.88,191.02 L93.01,190.95 L93.14,190.95 L93.27,190.78 L93.40,190.81 L93.53,191.16 L93.67,190.92 L93.80,190.87 L93.93,190.84 L94.06,190.89 L94.19,190.86 L94.33,190.76 L94.46,191.07 L94.59,190.91 L94.72,190.82 L94.85,191.09 L94.99,190.78 L95.12,190.87 L95.25,191.15 L95.38,190.80 L95.51,190.95 L95.65,191.15 L95.78,191.13 L95.91,190.80 L96.04,190.90 L96.17,191.08 L96.31,190.90 L96.44,191.19 L96.57,190.81 L96.70,191.18 L96.83,190.96 L96.97,190.81 L97.10,190.92 L97.23,190.76 L97.36,191.04 L97.49,190.81 L97.62,191.13 L97.76,190.97 L97.89,190.85 L98.02,190.79 L98.15,190.96 L98.28,190.76 L98.42,191.08 L98.55,190.70 L98.68,190.89 L98.81,190.90 L98.94,190.75 L99.08,190.99 L99.21,190.79 L99.34,190.92 L99.47,190.86 L99.60,190.72 L99.74,190.75 L99.87,190.58 L100.00,190.61 L100.13,190.93 L100.26,190.65 L100.40,190.80 L100.53,190.50 L100.66,190.71 L100.79,190.58 L100.92,190.62 L101.05,190.49 L101.19,190.34 L101.32,190.42 L101.45,190.34 L101.58,190.24 L101.71,190.47 L101.85,190.19 L101.98,190.18 L102.11,190.34 L102.24,190.18 L102.37,190.11 L102.51,189.95 L102.64,189.42 L102.77,189.27 L102.90,188.88 L103.03,188.87 L103.17,188.43 L103.30,187.70 L103.43,186.95 L103.56,186.00 L103.69,184.48 L103.83,182.01 L103.96,179.01 L104.09,174.12 L104.22,168.80 L104.35,164.96 L104.49,166.23 L104.62,171.54 L104.75,176.51 L104.88,180.28 L105.01,182.47 L105.14,184.12 L105.28,185.23 L105.41,185.89 L105.54,186.31 L105.67,186.52 L105.80,186.39 L105.94,186.52 L106.07,186.70 L106.20,186.57 L106.33,187.11 L106.46,187.29 L106.60,187.74 L106.73,187.90 L106.86,188.35 M112.64,189.92 L112.77,189.73 L112.90,189.53 L113.03,189.92 L113.16,189.86 L113.29,189.60 L113.43,189.45 L113.56,189.84 L113.69,189.70 L113.82,189.40 L113.95,189.49 L114.08,189.42 L114.22,189.75 L114.35,189.46 L114.48,189.81 L114.61,189.73 L114.74,189.40 L114.88,189.72 L115.01,189.58 L115.14,189.77 L115.27,189.83 L115.40,189.58 L115.53,189.51 L115.67,189.96 L115.80,189.72 L115.93,190.00 L116.06,189.91 L116.19,189.97 L116.32,190.04 L116.46,189.97 L116.59,189.92 L116.72,189.75 L116.85,190.10 L116.98,190.00 L117.12,190.07 L117.25,190.31 L117.38,189.93 L117.51,190.28 L117.64,189.95 L117.77,190.30 L117.91,190.38 L118.04,190.13 L118.17,190.30 L118.30,190.53 L118.43,190.39 L118.57,190.36 L118.70,190.23 L118.83,190.15 L118.96,190.32 L119.09,190.36 L119.22,190.27 L119.36,190.33 L119.49,190.26 L119.62,190.55 L119.75,190.54 L119.88,190.33 L120.01,190.34 L120.15,190.48 L120.28,190.45 L120.41,190.69 L120.54,190.40 L120.67,190.37 L120.81,190.66 L120.94,190.28 L121.07,190.48 L121.20,190.36 L121.33,190.58 L121.46,190.43 L121.60,190.52 L121.73,190.20 L121.86,190.42 L121.99,190.35 L122.12,190.25 L122.26,190.36 L122.39,190.34 L122.52,189.93 L122.65,189.95 L122.78,189.91 L122.91,189.75 L123.05,189.57 L123.18,189.57 L123.31,189.39 L123.44,189.48 L123.57,189.17 L123.70,188.78 L123.84,188.62 L123.97,188.37 L124.10,187.92 L124.23,187.34 L124.36,186.70 L124.50,185.92 L124.63,185.48 L124.76,184.17 L124.89,182.33 L125.02,180.77 L125.15,178.63 L125.29,175.83 L125.42,173.04 L125.55,171.28 L125.68,170.60 L125.81,171.40 L125.94,173.69 L126.08,176.04 L126.21,179.05 L126.34,181.13 L126.47,182.94 L126.60,184.55 L126.74,185.56 L126.87,186.27 L127.00,186.99 L127.13,187.52 L127.26,187.94 L127.39,188.70 L127.53,189.05 L127.66,189.05 L127.79,189.22 L127.92,189.64 L128.05,189.91 L128.19,190.09 L128.32,189.84 L128.45,190.25 L128.58,190.37 L128.71,190.41 L128.84,190.28 L128.98,190.27 L129.11,190.65 L129.24,190.45 L129.37,190.53 L129.50,190.66 L129.63,190.61 L129.77,190.88 L129.90,190.62 L130.03,190.55 L130.16,190.84 L130.29,190.90 L130.43,191.02 L130.56,190.98 L130.69,191.10 L130.82,191.14 L130.95,190.94 L131.08,190.95 L131.22,190.80 L131.35,190.89 L131.48,191.04 L131.61,190.80 L131.74,191.12 L131.88,190.87 L132.01,191.02 L132.14,191.30 L132.27,190.87 L132.40,190.85 L132.53,191.06 L132.67,190.94 L132.80,191.22 L132.93,190.87 L133.06,191.29 L133.19,191.31 L133.32,191.28 L133.46,191.11 L133.59,191.04 L133.72,191.24 L133.85,191.17 L133.98,191.13 L134.12,191.09 L134.25,191.15 L134.38,191.27 L134.51,191.35 L134.64,191.40 L134.77,191.03 L134.91,191.10 L135.04,191.18 L135.17,191.24 L135.30,191.14 L135.43,191.07 L135.56,191.02 L135.70,191.14 L135.83,191.21 L135.96,191.47 L136.09,191.44 L136.22,191.43 L136.36,191.48 L136.49,191.48 L136.62,191.31 L136.75,191.41 L136.88,191.04 L137.01,191.35 L137.15,191.32 L137.28,191.17 L137.41,191.31 L137.54,191.50 L137.67,191.27 L137.81,191.35 L137.94,191.18 L138.07,191.21 L138.20,191.48 L138.33,191.05 L138.46,191.14 L138.60,191.38 L138.73,191.27 L138.86,191.09 L138.99,191.38 L139.12,191.24 L139.25,191.35 L139.39,191.27 L139.52,191.32 L139.65,191.34 L139.78,191.26 L139.91,191.12 L140.05,191.16 L140.18,191.51 L140.31,191.35 L140.44,191.13 L140.57,191.51 L140.70,191.20 L140.84,191.13 L140.97,191.35 L141.10,191.21 L141.23,191.33 L141.36,191.36 L141.50,191.20 L141.63,191.38 L141.76,191.15 L141.89,191.35 L142.02,191.39 L142.15,191.14 L142.29,191.30 L142.42,191.14 L142.55,191.32 L142.68,191.53 L142.81,191.38 L142.94,191.46 L143.08,191.49 L143.21,191.17 L143.34,191.61 L143.47,191.47 L143.60,191.16 L143.74,191.53 L143.87,191.31 L144.00,191.20 L144.13,191.60 L144.26,191.40 L144.39,191.51 L144.53,191.19 L144.66,191.51 L144.79,191.16 L144.92,191.25 L145.05,191.32 L145.18,191.14 L145.32,191.43 L145.45,191.24 L145.58,191.28 L145.71,191.49 L145.84,191.35 L145.98,191.58 L146.11,191.45 L146.24,191.58 L146.37,191.42 L146.50,191.60 L146.63,191.58 L146.77,191.23 L146.90,191.52 L147.03,191.32 L147.16,191.53 L147.29,191.49 L147.43,191.57 L147.56,191.22 L147.69,191.34 L147.82,191.52 L147.95,191.63 L148.08,191.52 L148.22,191.18 L148.35,191.46 L148.48,191.21 L148.61,191.44 L148.74,191.57 L148.87,191.22 L149.01,191.63 L149.14,191.51 L149.27,191.30 L149.40,191.27 L149.53,191.39 L149.67,191.59 L149.80,191.46 L149.93,191.23 L150.06,191.19 L150.19,191.23 L150.32,191.58 L150.46,191.27 L150.59,191.46 L150.72,191.33 L150.85,191.53 L150.98,191.37 L151.12,191.26 L151.25,191.62 L151.38,191.46 L151.51,191.53 L151.64,191.59 L151.77,191.66 L151.91,191.20 L152.04,191.36 L152.17,191.27 L152.30,191.45 L152.43,191.63 L152.56,191.60 L152.70,191.22 L152.83,191.29 L152.96,191.61 L153.09,191.54 L153.22,191.40 L153.36,191.44 L153.49,191.28 L153.62,191.63 L153.75,191.40 L153.88,191.64 L154.01,191.51 L154.15,191.25 L154.28,191.38 L154.41,191.32 L154.54,191.66 L154.67,191.51 L154.80,191.24 L154.94,191.30 L155.07,191.40 L155.20,191.45 L155.33,191.51 L155.46,191.41 L155.60,191.40 L155.73,191.22 L155.86,191.51 L155.99,191.39 L156.12,191.23 L156.25,191.46 L156.39,191.72 L156.52,191.25 L156.65,191.30 L156.78,191.57 L156.91,191.37 L157.05,191.37 L157.18,191.48 L157.31,191.36 L157.44,191.52 L157.57,191.50 L157.70,191.71 L157.84,191.73 L157.97,191.26 L158.10,191.52 L158.23,191.63 L158.36,191.68 L158.49,191.63 L158.63,191.56 L158.76,191.56 L158.89,191.43 L159.02,191.39 L159.15,191.64 L159.29,191.68 L159.42,191.72 L159.55,191.59 L159.68,191.40 L159.81,191.63 L159.94,191.62 L160.08,191.51 L160.21,191.57 L160.34,191.43 L160.47,191.53 L160.60,191.46 L160.74,191.29 L160.87,191.43 L161.00,191.42 L161.13,191.76 L161.26,191.50 L161.39,191.45 L161.53,191.39 L161.66,191.38 L161.79,191.44 L161.92,191.33 L162.05,191.27 L162.18,191.70 L162.32,191.50 L162.45,191.49 L162.58,191.56 L162.71,191.42 L162.84,191.36 L162.98,191.31 L163.11,191.43 L163.24,191.43 L163.37,191.64 L163.50,191.55 L163.63,191.75 L163.77,191.45 L163.90,191.74 L164.03,191.57 L164.16,191.32 L164.29,191.37 L164.42,191.57 L164.56,191.78 L164.69,191.46 L164.82,191.67 L164.95,191.50 L165.08,191.72 L165.22,191.32 L165.35,191.53 L165.48,191.74 L165.61,191.43 L165.74,191.42 L165.87,191.31 L166.01,191.38 L166.14,191.43 L166.27,191.65 L166.40,191.41 L166.53,191.50 L166.67,191.40 L166.80,191.60 L166.93,191.73 L167.06,191.63 L167.19,191.40 L167.32,191.67 L167.46,191.79 L167.59,191.61 L167.72,191.35 L167.85,191.71 L167.98,191.75 L168.11,191.48 L168.25,191.38 L168.38,191.41 L168.51,191.58 L168.64,191.75 L168.77,191.63 L168.91,191.78 L169.04,191.42 L169.17,191.48 L169.30,191.69 L169.43,191.64 L169.56,191.52 L169.70,191.66 L169.83,191.49 L169.96,191.35 L170.09,191.53 L170.22,191.35 L170.36,191.64 L170.49,191.49 L170.62,191.57 L170.75,191.63 L170.88,191.46 L171.01,191.56 L171.15,191.34 L171.28,191.79 L171.41,191.61 L171.54,191.83 L171.67,191.36 L171.80,191.64 L171.94,191.70 L172.07,191.50 L172.20,191.38 " fill="none" stroke="#7a7a7a" stroke-width="1.1" stroke-linejoin="round"/>
<text x="50.6" y="63.8" font-size="13.8" text-anchor="start" fill="#111" textLength="33.4" lengthAdjust="spacingAndGlyphs" >(001)</text>
<text x="120.3" y="61.5" font-size="13.6" text-anchor="start" fill="#111" textLength="32.7" lengthAdjust="spacingAndGlyphs" >(002)</text>
<text x="89.7" y="92.8" font-size="13.6" text-anchor="start" fill="#111" textLength="33.1" lengthAdjust="spacingAndGlyphs" >(111)</text>
<text x="158.0" y="93.9" font-size="14.6" text-anchor="start" fill="#111" textLength="13.8" lengthAdjust="spacingAndGlyphs" >3L</text>
<text x="158.0" y="139.9" font-size="14.6" text-anchor="start" fill="#111" textLength="13.8" lengthAdjust="spacingAndGlyphs" >1L</text>
<text x="158.0" y="187.2" font-size="14.6" text-anchor="start" fill="#111" textLength="13.8" lengthAdjust="spacingAndGlyphs" >0L</text>
<text x="233.3" y="10.3" font-size="14.1" text-anchor="start" fill="#111" textLength="95.0" lengthAdjust="spacingAndGlyphs" >PZT Thickness</text>
<rect x="218.5" y="18.6" width="129" height="186.9" fill="none" stroke="#1c1c1c" stroke-width="1.15"/>
<line x1="219.3" y1="205.4" x2="219.3" y2="202.2" stroke="#1c1c1c" stroke-width="1.1"/>
<line x1="252.3" y1="205.4" x2="252.3" y2="202.2" stroke="#1c1c1c" stroke-width="1.1"/>
<line x1="285.3" y1="205.4" x2="285.3" y2="202.2" stroke="#1c1c1c" stroke-width="1.1"/>
<line x1="318.0" y1="205.4" x2="318.0" y2="202.2" stroke="#1c1c1c" stroke-width="1.1"/>
<line x1="218.7" y1="38" x2="221.3" y2="38" stroke="#1c1c1c" stroke-width="1.1"/>
<line x1="218.7" y1="89.6" x2="221.3" y2="89.6" stroke="#1c1c1c" stroke-width="1.1"/>
<line x1="218.7" y1="141.5" x2="221.3" y2="141.5" stroke="#1c1c1c" stroke-width="1.1"/>
<line x1="218.7" y1="193.2" x2="221.3" y2="193.2" stroke="#1c1c1c" stroke-width="1.1"/>
<text x="219.2" y="221.2" font-size="13.1" text-anchor="middle" fill="#111" >20</text>
<text x="252.3" y="221.2" font-size="13.1" text-anchor="middle" fill="#111" >30</text>
<text x="285.3" y="221.2" font-size="13.1" text-anchor="middle" fill="#111" >40</text>
<text x="318.0" y="221.2" font-size="13.1" text-anchor="middle" fill="#111" >50</text>
<text x="272.3" y="240.7" font-size="13.6" text-anchor="start" fill="#111" >2<tspan font-style="italic">θ</tspan> (°)</text>
<path d="M220.18,68.83 L220.32,68.82 L220.45,69.12 L220.58,68.77 L220.71,69.12 L220.84,68.91 L220.97,68.96 L221.10,68.97 L221.23,68.94 L221.36,68.97 L221.50,68.93 L221.63,68.77 L221.76,68.96 L221.89,68.69 L222.02,68.89 L222.15,68.89 L222.28,68.87 L222.41,68.60 L222.54,68.79 L222.68,68.86 L222.81,68.55 L222.94,68.41 L223.07,68.47 L223.20,68.61 L223.33,68.13 L223.46,67.98 L223.59,68.11 L223.72,68.08 L223.86,68.00 L223.99,67.63 L224.12,67.75 L224.25,67.13 L224.38,67.10 L224.51,66.40 L224.64,65.92 L224.77,65.39 L224.90,64.59 L225.04,63.79 L225.17,62.42 L225.30,60.28 L225.43,57.83 L225.56,53.39 L225.69,47.17 L225.82,38.78 L225.95,29.89 L226.08,25.40 L226.22,29.23 L226.35,38.26 L226.48,47.14 L226.61,53.09 L226.74,57.69 L226.87,60.32 L227.00,62.38 L227.13,63.65 L227.27,64.91 L227.40,65.51 L227.53,66.04 L227.66,66.79 L227.79,66.75 L227.92,67.36 L228.05,67.27 L228.18,67.76 L228.31,67.80 L228.45,68.17 L228.58,67.89 L228.71,68.24 L228.84,68.26 L228.97,68.59 L229.10,68.67 L229.23,68.57 L229.36,68.42 L229.49,68.48 L229.63,68.53 L229.76,68.65 L229.89,68.58 L230.02,68.60 L230.15,68.90 L230.28,68.87 L230.41,68.72 L230.54,69.09 L230.67,68.72 L230.81,68.91 L230.94,68.72 L231.07,69.09 L231.20,69.11 L231.33,68.82 L231.46,69.07 L231.59,69.12 L231.72,68.86 L231.85,68.89 L231.99,68.98 L232.12,69.19 L232.25,68.83 L232.38,69.10 L232.51,69.06 L232.64,69.00 L232.77,69.06 L232.90,69.22 L233.03,68.89 L233.17,69.23 L233.30,68.98 L233.43,69.19 L233.56,69.24 L233.69,68.90 L233.82,69.24 L233.95,69.31 L234.08,68.97 L234.22,68.83 L234.35,68.88 L234.48,69.31 L234.61,68.84 L234.74,69.29 L234.87,68.91 L235.00,69.21 L235.13,68.89 L235.26,68.93 L235.40,69.19 L235.53,68.89 L235.66,69.02 L235.79,69.31 L235.92,69.21 L236.05,69.29 L236.18,69.34 L236.31,68.87 L236.44,68.97 L236.58,69.25 L236.71,69.20 L236.84,68.88 L236.97,69.11 L237.10,68.98 L237.23,69.08 L237.36,68.92 L237.49,68.88 L237.62,69.36 L237.76,69.03 L237.89,69.31 L238.02,68.93 L238.15,69.11 L238.28,68.94 L238.41,69.09 L238.54,68.96 L238.67,69.22 L238.80,68.95 L238.94,69.24 L239.07,69.13 L239.20,68.93 L239.33,69.05 L239.46,69.13 L239.59,69.34 L239.72,69.05 L239.85,68.99 L239.98,69.36 L240.12,69.32 L240.25,69.25 L240.38,69.02 L240.51,68.97 L240.64,69.01 L240.77,68.92 L240.90,68.90 L241.03,69.14 L241.17,69.09 L241.30,69.16 L241.43,69.06 L241.56,68.89 L241.69,69.23 L241.82,69.21 L241.95,69.16 L242.08,69.16 L242.21,69.23 L242.35,69.38 L242.48,69.32 L242.61,69.24 L242.74,69.08 L242.87,69.04 L243.00,69.09 L243.13,69.37 L243.26,69.08 L243.39,69.08 L243.53,69.09 L243.66,68.96 L243.79,69.38 L243.92,68.89 L244.05,69.19 L244.18,69.35 L244.31,69.01 L244.44,69.19 L244.57,69.07 L244.71,69.01 L244.84,68.99 L244.97,68.94 L245.10,69.31 L245.23,69.28 L245.36,69.34 L245.49,68.91 L245.62,69.23 L245.75,69.05 L245.89,69.21 L246.02,69.16 L246.15,69.04 L246.28,69.37 L246.41,68.89 L246.54,69.26 L246.67,69.31 L246.80,69.14 L246.93,69.18 L247.07,69.38 L247.20,69.00 L247.33,69.20 L247.46,69.26 L247.59,69.07 L247.72,69.24 L247.85,69.08 L247.98,69.15 L248.12,69.19 L248.25,69.22 L248.38,69.04 L248.51,69.20 L248.64,69.15 L248.77,68.99 L248.90,69.19 L249.03,69.01 L249.16,69.34 L249.30,69.12 L249.43,69.24 L249.56,69.14 L249.69,69.12 L249.82,68.99 L249.95,68.95 L250.08,69.34 L250.21,69.14 L250.34,69.14 L250.48,69.14 L250.61,69.28 L250.74,68.99 L250.87,68.96 L251.00,69.28 L251.13,69.10 L251.26,69.19 L251.39,69.28 L251.52,69.32 L251.66,69.30 L251.79,68.89 L251.92,69.06 L252.05,69.28 L252.18,69.27 L252.31,68.92 L252.44,68.94 L252.57,68.98 L252.70,68.90 L252.84,69.03 L252.97,69.25 L253.10,69.10 L253.23,69.06 L253.36,68.87 L253.49,69.02 L253.62,69.31 L253.75,69.15 L253.88,69.02 L254.02,69.02 L254.15,69.16 L254.28,69.11 L254.41,68.78 L254.54,69.00 L254.67,68.80 L254.80,68.81 L254.93,68.61 L255.06,68.61 L255.20,68.56 L255.33,68.57 L255.46,68.42 L255.59,68.57 L255.72,68.82 L255.85,68.62 L255.98,68.74 L256.11,69.05 L256.25,68.86 L256.38,68.91 L256.51,68.89 L256.64,69.20 L256.77,68.84 L256.90,69.13 L257.03,69.25 L257.16,68.92 L257.29,69.04 L257.43,69.23 L257.56,69.15 L257.69,69.03 L257.82,68.87 L257.95,69.07 L258.08,69.03 L258.21,69.21 L258.34,69.00 L258.47,69.06 L258.61,69.18 L258.74,69.26 L258.87,69.03 L259.00,69.05 L259.13,69.15 L259.26,69.32 L259.39,68.96 L259.52,69.35 L259.65,69.22 L259.79,69.05 L259.92,69.20 L260.05,69.03 L260.18,68.90 L260.31,69.24 L260.44,69.05 L260.57,69.13 L260.70,69.11 L260.83,69.32 L260.97,69.24 L261.10,68.88 L261.23,69.16 L261.36,69.10 L261.49,69.10 L261.62,69.28 L261.75,69.07 L261.88,69.10 L262.01,69.31 L262.15,69.08 L262.28,69.11 L262.41,69.12 L262.54,69.28 L262.67,69.20 L262.80,69.23 L262.93,69.06 L263.06,68.88 L263.20,69.20 L263.33,69.14 L263.46,69.25 L263.59,69.25 L263.72,68.92 L263.85,68.97 L263.98,68.90 L264.11,69.27 L264.24,68.91 L264.38,68.91 L264.51,69.24 L264.64,69.14 L264.77,68.89 L264.90,69.20 L265.03,69.22 L265.16,69.10 L265.29,68.89 L265.42,69.21 L265.56,69.07 L265.69,69.15 L265.82,69.36 L265.95,69.27 L266.08,69.29 L266.21,68.93 L266.34,69.03 L266.47,69.12 L266.60,68.86 L266.74,69.35 L266.87,68.99 L267.00,68.99 L267.13,69.01 L267.26,68.98 L267.39,69.29 L267.52,69.13 L267.65,69.11 L267.78,69.06 L267.92,68.88 L268.05,69.01 L268.18,69.29 L268.31,69.25 L268.44,69.28 L268.57,68.98 L268.70,68.95 L268.83,68.88 L268.96,69.12 L269.10,69.04 L269.23,69.08 L269.36,69.09 L269.49,69.14 L269.62,69.03 L269.75,69.25 L269.88,68.95 L270.01,69.31 L270.15,69.13 L270.28,68.87 L270.41,69.00 L270.54,69.11 L270.67,69.05 L270.80,69.13 L270.93,69.01 L271.06,68.98 L271.19,69.24 L271.33,68.99 L271.46,69.20 L271.59,69.24 L271.72,69.14 L271.85,69.07 L271.98,69.31 L272.11,69.06 L272.24,69.28 L272.37,68.87 L272.51,69.05 L272.64,69.16 L272.77,68.86 L272.90,69.27 L273.03,68.87 L273.16,69.13 L273.29,68.92 L273.42,69.29 L273.55,69.11 L273.69,69.23 L273.82,69.08 L273.95,69.16 L274.08,69.16 L274.21,68.97 L274.34,68.93 L274.47,69.24 L274.60,68.89 L274.73,69.28 L274.87,68.92 L275.00,68.87 L275.13,68.86 L275.26,69.21 L275.39,69.29 L275.52,69.02 L275.65,69.14 L275.78,68.93 L275.91,69.26 L276.05,69.14 L276.18,68.88 L276.31,68.82 L276.44,69.14 L276.57,68.81 L276.70,69.20 L276.83,68.93 L276.96,68.89 L277.10,69.06 L277.23,68.93 L277.36,69.04 L277.49,68.83 L277.62,69.20 L277.75,68.90 L277.88,69.15 L278.01,68.80 L278.14,69.11 L278.28,69.19 L278.41,68.88 L278.54,68.69 L278.67,68.84 L278.80,68.95 L278.93,68.72 L279.06,68.85 L279.19,68.59 L279.32,68.73 L279.46,68.82 L279.59,68.61 L279.72,68.66 L279.85,68.30 L279.98,68.55 L280.11,68.08 L280.24,68.34 L280.37,68.22 L280.50,68.04 L280.64,67.70 L280.77,67.49 L280.90,67.50 L281.03,67.76 L281.16,67.75 L281.29,68.11 L281.42,67.85 L281.55,68.19 L281.68,68.51 L281.82,68.48 L281.95,68.55 L282.08,68.40 L282.21,68.48 L282.34,68.60 L282.47,68.96 L282.60,68.97 L282.73,68.69 L282.86,69.06 L283.00,68.64 M286.60,69.06 L286.73,69.25 L286.87,68.94 L287.00,69.24 L287.13,69.09 L287.26,68.79 L287.39,68.93 L287.52,68.99 L287.65,68.89 L287.78,69.13 L287.91,68.85 L288.04,69.16 L288.18,68.91 L288.31,68.79 L288.44,69.04 L288.57,68.81 L288.70,69.03 L288.83,69.15 L288.96,69.05 L289.09,68.98 L289.22,68.77 L289.35,69.01 L289.49,68.80 L289.62,69.07 L289.75,68.81 L289.88,69.03 L290.01,68.92 L290.14,68.93 L290.27,69.07 L290.40,68.82 L290.53,68.82 L290.66,69.20 L290.80,68.89 L290.93,69.15 L291.06,69.16 L291.19,68.96 L291.32,68.79 L291.45,68.76 L291.58,69.15 L291.71,68.77 L291.84,68.95 L291.97,68.97 L292.11,68.75 L292.24,68.92 L292.37,68.77 L292.50,68.95 L292.63,68.93 L292.76,68.86 L292.89,68.77 L293.02,68.86 L293.15,68.76 L293.28,68.71 L293.42,68.76 L293.55,69.07 L293.68,68.88 L293.81,69.07 L293.94,68.62 L294.07,69.07 L294.20,68.84 L294.33,68.98 L294.46,68.86 L294.59,68.91 L294.73,68.66 L294.86,68.91 L294.99,68.60 L295.12,68.64 L295.25,68.51 L295.38,68.67 L295.51,68.72 L295.64,68.58 L295.77,68.86 L295.90,68.44 L296.03,68.66 L296.17,68.46 L296.30,68.61 L296.43,68.67 L296.56,68.60 L296.69,68.24 L296.82,68.28 L296.95,68.41 L297.08,68.55 L297.21,68.02 L297.34,68.24 L297.48,68.20 L297.61,68.18 L297.74,67.85 L297.87,67.97 L298.00,67.67 L298.13,67.75 L298.26,67.13 L298.39,67.39 L298.52,66.89 L298.65,66.61 L298.79,66.11 L298.92,65.77 L299.05,65.51 L299.18,64.84 L299.31,63.78 L299.44,62.85 L299.57,61.42 L299.70,59.71 L299.83,57.42 L299.96,54.47 L300.10,50.97 L300.23,46.52 L300.36,42.06 L300.49,39.16 L300.62,39.41 L300.75,42.65 L300.88,47.16 L301.01,51.49 L301.14,55.12 L301.27,57.80 L301.41,60.21 L301.54,61.99 L301.67,63.24 L301.80,63.88 L301.93,64.96 L302.06,65.39 L302.19,65.79 L302.32,66.60 L302.45,66.78 L302.58,67.09 L302.72,67.01 L302.85,67.56 L302.98,67.78 L303.11,67.90 L303.24,67.95 L303.37,68.10 L303.50,68.18 L303.63,68.16 L303.76,68.15 L303.89,68.41 L304.02,68.45 L304.16,68.55 L304.29,68.31 L304.42,68.68 L304.55,68.50 L304.68,68.75 L304.81,68.36 L304.94,68.82 L305.07,68.76 L305.20,68.51 L305.33,68.83 L305.47,68.55 L305.60,68.55 L305.73,68.70 L305.86,68.60 L305.99,68.74 L306.12,68.97 L306.25,68.87 L306.38,68.89 L306.51,68.75 L306.64,68.95 L306.78,68.97 L306.91,68.92 L307.04,69.06 L307.17,69.01 L307.30,68.81 L307.43,68.66 L307.56,68.95 L307.69,69.04 L307.82,68.80 L307.95,68.94 L308.09,69.06 L308.22,69.05 L308.35,68.66 L308.48,68.90 L308.61,68.67 L308.74,68.72 L308.87,69.08 L309.00,68.89 L309.13,68.98 L309.26,68.91 L309.40,68.85 L309.53,68.80 L309.66,68.87 L309.79,69.12 L309.92,69.01 L310.05,68.85 L310.18,68.75 L310.31,68.84 L310.44,69.06 L310.57,68.93 L310.71,69.04 L310.84,69.12 L310.97,68.78 L311.10,69.06 L311.23,68.74 L311.36,69.13 L311.49,68.82 L311.62,68.86 L311.75,69.21 L311.88,68.91 L312.02,68.84 L312.15,69.18 L312.28,69.04 L312.41,69.18 L312.54,68.93 L312.67,68.99 L312.80,69.22 L312.93,68.99 L313.06,69.24 L313.19,68.84 L313.32,69.16 L313.46,68.83 L313.59,69.01 L313.72,68.75 L313.85,68.83 L313.98,69.22 L314.11,68.98 L314.24,69.15 L314.37,68.88 L314.50,68.93 L314.63,68.80 L314.77,69.03 L314.90,69.18 L315.03,69.01 L315.16,68.94 L315.29,69.22 L315.42,69.20 L315.55,69.09 L315.68,68.79 L315.81,69.07 L315.94,68.98 L316.08,69.24 L316.21,68.94 L316.34,69.09 L316.47,69.07 L316.60,68.95 L316.73,69.02 L316.86,69.10 L316.99,69.21 L317.12,69.01 L317.25,68.94 L317.39,69.25 L317.52,68.79 L317.65,69.18 L317.78,69.10 L317.91,69.04 L318.04,68.99 L318.17,69.14 L318.30,69.21 L318.43,69.13 L318.56,69.14 L318.70,68.78 L318.83,68.93 L318.96,68.83 L319.09,69.24 L319.22,69.21 L319.35,68.84 L319.48,69.06 L319.61,69.05 L319.74,68.79 L319.87,68.96 L320.01,69.14 L320.14,69.09 L320.27,68.91 L320.40,69.15 L320.53,68.91 L320.66,69.04 L320.79,68.98 L320.92,69.26 L321.05,69.09 L321.18,69.17 L321.31,69.10 L321.45,68.96 L321.58,69.25 L321.71,69.12 L321.84,69.11 L321.97,68.91 L322.10,68.85 L322.23,69.05 L322.36,69.18 L322.49,69.16 L322.62,68.94 L322.76,68.84 L322.89,69.03 L323.02,69.21 L323.15,68.85 L323.28,69.14 L323.41,68.85 L323.54,68.92 L323.67,68.79 L323.80,68.92 L323.93,68.96 L324.07,69.25 L324.20,69.25 L324.33,68.86 L324.46,68.92 L324.59,69.24 L324.72,68.87 L324.85,68.93 L324.98,68.99 L325.11,68.82 L325.24,68.90 L325.38,68.96 L325.51,68.96 L325.64,69.25 L325.77,68.90 L325.90,68.87 L326.03,69.22 L326.16,68.99 L326.29,69.19 L326.42,69.09 L326.55,69.16 L326.69,68.92 L326.82,68.84 L326.95,69.14 L327.08,69.00 L327.21,69.05 L327.34,69.10 L327.47,69.14 L327.60,68.90 L327.73,68.95 L327.86,69.22 L328.00,69.03 L328.13,68.91 L328.26,69.08 L328.39,68.90 L328.52,69.15 L328.65,68.79 L328.78,69.18 L328.91,69.05 L329.04,68.94 L329.17,69.23 L329.31,68.90 L329.44,68.89 L329.57,68.80 L329.70,69.04 L329.83,69.14 L329.96,69.10 L330.09,68.97 L330.22,69.17 L330.35,68.82 L330.48,68.92 L330.61,69.09 L330.75,69.25 L330.88,69.08 L331.01,69.11 L331.14,69.15 L331.27,68.96 L331.40,69.23 L331.53,69.13 L331.66,68.93 L331.79,68.96 L331.92,69.17 L332.06,68.94 L332.19,68.86 L332.32,69.20 L332.45,69.03 L332.58,69.02 L332.71,69.10 L332.84,69.21 L332.97,68.83 L333.10,68.93 L333.23,68.79 L333.37,68.97 L333.50,69.01 L333.63,69.19 L333.76,69.09 L333.89,69.05 L334.02,68.96 L334.15,69.05 L334.28,68.90 L334.41,69.18 L334.54,69.15 L334.68,69.18 L334.81,68.84 L334.94,69.10 L335.07,69.14 L335.20,69.01 L335.33,69.21 L335.46,69.21 L335.59,69.13 L335.72,69.17 L335.85,69.08 L335.99,69.20 L336.12,68.82 L336.25,69.11 L336.38,69.11 L336.51,69.06 L336.64,68.89 L336.77,68.79 L336.90,69.06 L337.03,69.17 L337.16,68.89 L337.30,68.86 L337.43,68.87 L337.56,68.80 L337.69,69.09 L337.82,69.24 L337.95,69.16 L338.08,68.94 L338.21,69.11 L338.34,68.79 L338.47,69.17 L338.60,68.92 L338.74,68.76 L338.87,69.07 L339.00,68.82 L339.13,68.89 L339.26,68.78 L339.39,68.98 L339.52,69.03 L339.65,69.16 L339.78,68.77 L339.91,69.17 L340.05,68.81 L340.18,68.87 L340.31,69.07 L340.44,68.92 L340.57,68.92 L340.70,69.04 L340.83,68.86 L340.96,69.15 L341.09,68.86 L341.22,69.17 L341.36,69.16 L341.49,69.02 L341.62,68.77 L341.75,69.14 L341.88,68.77 L342.01,69.00 L342.14,68.96 L342.27,68.78 L342.40,69.07 L342.53,69.11 L342.67,69.04 L342.80,68.95 L342.93,69.01 L343.06,69.04 L343.19,68.86 L343.32,69.18 L343.45,69.25 L343.58,69.15 L343.71,69.23 L343.84,68.91 L343.98,69.24 L344.11,68.78 L344.24,68.99 L344.37,68.81 L344.50,68.97 L344.63,69.09 L344.76,69.10 L344.89,68.97 L345.02,68.92 L345.15,68.84 L345.29,68.95 L345.42,68.89 L345.55,68.84 L345.68,69.11 L345.81,69.00 L345.94,68.96 L346.07,68.84 L346.20,69.10 L346.33,68.84 L346.46,68.88 " fill="none" stroke="#78cdf5" stroke-width="1.1" stroke-linejoin="round"/>
<path d="M220.18,100.17 L220.32,100.23 L220.45,100.36 L220.58,100.24 L220.71,100.33 L220.84,100.30 L220.97,100.19 L221.10,100.18 L221.23,99.84 L221.36,99.90 L221.50,99.79 L221.63,100.20 L221.76,100.11 L221.89,100.04 L222.02,99.84 L222.15,99.86 L222.28,99.74 L222.41,99.95 L222.54,100.10 L222.68,99.72 L222.81,99.55 L222.94,99.57 L223.07,99.61 L223.20,99.83 L223.33,99.72 L223.46,99.47 L223.59,99.21 L223.72,99.12 L223.86,99.02 L223.99,99.20 L224.12,98.88 L224.25,98.95 L224.38,98.67 L224.51,98.31 L224.64,97.77 L224.77,97.46 L224.90,96.49 L225.04,95.64 L225.17,94.72 L225.30,93.07 L225.43,90.59 L225.56,87.19 L225.69,82.03 L225.82,75.54 L225.95,67.87 L226.08,64.21 L226.22,67.70 L226.35,74.94 L226.48,82.10 L226.61,87.05 L226.74,90.76 L226.87,93.15 L227.00,94.43 L227.13,95.54 L227.27,96.49 L227.40,97.32 L227.53,97.70 L227.66,97.90 L227.79,98.61 L227.92,98.83 L228.05,98.87 L228.18,98.82 L228.31,99.38 L228.45,99.32 L228.58,99.18 L228.71,99.39 L228.84,99.62 L228.97,99.81 L229.10,99.67 L229.23,99.79 L229.36,99.62 L229.49,99.68 L229.63,100.04 L229.76,99.81 L229.89,99.70 L230.02,99.97 L230.15,99.76 L230.28,99.81 L230.41,99.96 L230.54,100.04 L230.67,100.08 L230.81,100.13 L230.94,100.01 L231.07,99.84 L231.20,100.18 L231.33,99.85 L231.46,100.07 L231.59,100.04 L231.72,100.19 L231.85,100.22 L231.99,99.99 L232.12,100.20 L232.25,100.23 L232.38,100.12 L232.51,99.96 L232.64,100.35 L232.77,100.20 L232.90,99.94 L233.03,100.03 L233.17,100.41 L233.30,100.03 L233.43,100.12 L233.56,100.32 L233.69,100.34 L233.82,100.25 L233.95,100.31 L234.08,99.96 L234.22,99.99 L234.35,100.43 L234.48,100.35 L234.61,99.97 L234.74,99.97 L234.87,100.07 L235.00,100.42 L235.13,100.06 L235.26,100.29 L235.40,100.42 L235.53,100.28 L235.66,100.42 L235.79,100.09 L235.92,100.04 L236.05,99.97 L236.18,100.35 L236.31,100.02 L236.44,100.46 L236.58,100.33 L236.71,100.06 L236.84,100.38 L236.97,100.05 L237.10,100.23 L237.23,100.03 L237.36,100.37 L237.49,100.42 L237.62,100.44 L237.76,99.98 L237.89,100.40 L238.02,100.26 L238.15,100.39 L238.28,100.23 L238.41,100.29 L238.54,100.28 L238.67,100.38 L238.80,100.02 L238.94,100.01 L239.07,100.26 L239.20,100.13 L239.33,100.18 L239.46,99.99 L239.59,100.36 L239.72,100.00 L239.85,100.40 L239.98,100.39 L240.12,100.22 L240.25,100.05 L240.38,100.31 L240.51,100.09 L240.64,100.20 L240.77,100.04 L240.90,100.48 L241.03,100.26 L241.17,100.16 L241.30,100.04 L241.43,100.35 L241.56,100.41 L241.69,100.41 L241.82,100.04 L241.95,100.17 L242.08,100.14 L242.21,100.37 L242.35,100.06 L242.48,100.29 L242.61,100.48 L242.74,100.37 L242.87,99.99 L243.00,100.03 L243.13,100.05 L243.26,100.34 L243.39,100.29 L243.53,100.25 L243.66,100.22 L243.79,100.19 L243.92,100.30 L244.05,100.32 L244.18,100.45 L244.31,100.36 L244.44,100.39 L244.57,100.45 L244.71,100.41 L244.84,100.35 L244.97,100.01 L245.10,100.33 L245.23,100.42 L245.36,100.21 L245.49,100.43 L245.62,100.08 L245.75,100.46 L245.89,100.21 L246.02,100.34 L246.15,100.12 L246.28,100.14 L246.41,100.16 L246.54,100.15 L246.67,100.04 L246.80,100.21 L246.93,100.48 L247.07,100.32 L247.20,100.46 L247.33,100.37 L247.46,100.41 L247.59,100.49 L247.72,100.37 L247.85,100.13 L247.98,100.11 L248.12,100.20 L248.25,100.00 L248.38,100.10 L248.51,100.43 L248.64,100.45 L248.77,100.15 L248.90,100.37 L249.03,100.38 L249.16,100.43 L249.30,100.39 L249.43,100.25 L249.56,100.04 L249.69,100.40 L249.82,100.14 L249.95,100.30 L250.08,100.17 L250.21,100.26 L250.34,100.47 L250.48,100.07 L250.61,100.25 L250.74,100.31 L250.87,100.26 L251.00,100.46 L251.13,100.19 L251.26,100.44 L251.39,100.33 L251.52,100.47 L251.66,100.03 L251.79,100.09 L251.92,100.13 L252.05,100.44 L252.18,99.99 L252.31,100.12 L252.44,100.34 L252.57,100.48 L252.70,100.07 L252.84,100.20 L252.97,100.33 L253.10,100.33 L253.23,100.36 L253.36,100.36 L253.49,100.11 L253.62,100.11 L253.75,100.00 L253.88,100.33 L254.02,100.09 L254.15,100.11 L254.28,100.46 L254.41,100.30 L254.54,100.28 L254.67,100.31 L254.80,100.28 L254.93,100.33 L255.06,100.13 L255.20,100.01 L255.33,100.01 L255.46,99.99 L255.59,100.16 L255.72,100.05 L255.85,100.04 L255.98,100.23 L256.11,100.46 L256.25,100.32 L256.38,100.12 L256.51,100.36 L256.64,100.07 L256.77,100.03 L256.90,100.13 L257.03,100.18 L257.16,100.32 L257.29,100.20 L257.43,100.34 L257.56,100.02 L257.69,100.44 L257.82,100.15 L257.95,100.39 L258.08,99.99 L258.21,100.39 L258.34,100.09 L258.47,100.40 L258.61,100.38 L258.74,100.31 L258.87,100.11 L259.00,99.98 L259.13,100.07 L259.26,100.43 L259.39,100.05 L259.52,100.30 L259.65,100.27 L259.79,100.30 L259.92,100.06 L260.05,100.04 L260.18,100.02 L260.31,100.46 L260.44,100.16 L260.57,100.30 L260.70,100.26 L260.83,100.08 L260.97,100.00 L261.10,99.98 L261.23,100.40 L261.36,100.04 L261.49,100.45 L261.62,100.15 L261.75,100.33 L261.88,100.04 L262.01,100.36 L262.15,100.09 L262.28,100.15 L262.41,100.23 L262.54,100.02 L262.67,100.09 L262.80,100.37 L262.93,100.11 L263.06,100.16 L263.20,100.35 L263.33,100.08 L263.46,100.06 L263.59,100.08 L263.72,100.16 L263.85,100.15 L263.98,100.29 L264.11,100.20 L264.24,100.40 L264.38,99.99 L264.51,100.30 L264.64,100.38 L264.77,100.08 L264.90,99.98 L265.03,100.18 L265.16,100.02 L265.29,100.19 L265.42,100.32 L265.56,100.01 L265.69,100.02 L265.82,100.20 L265.95,100.05 L266.08,100.07 L266.21,100.18 L266.34,100.02 L266.47,99.99 L266.60,100.14 L266.74,100.19 L266.87,100.43 L267.00,100.23 L267.13,99.99 L267.26,100.07 L267.39,100.33 L267.52,100.24 L267.65,100.39 L267.78,100.43 L267.92,100.38 L268.05,100.01 L268.18,100.42 L268.31,100.21 L268.44,100.07 L268.57,100.04 L268.70,100.38 L268.83,100.06 L268.96,99.99 L269.10,100.08 L269.23,100.41 L269.36,100.18 L269.49,100.31 L269.62,99.98 L269.75,100.17 L269.88,100.10 L270.01,100.05 L270.15,100.28 L270.28,100.12 L270.41,100.00 L270.54,100.43 L270.67,100.18 L270.80,100.03 L270.93,99.95 L271.06,100.27 L271.19,100.20 L271.33,99.95 L271.46,100.17 L271.59,100.31 L271.72,100.20 L271.85,100.05 L271.98,100.18 L272.11,100.24 L272.24,100.26 L272.37,100.00 L272.51,100.33 L272.64,100.40 L272.77,100.30 L272.90,100.36 L273.03,100.11 L273.16,100.38 L273.29,100.01 L273.42,100.04 L273.55,100.22 L273.69,100.37 L273.82,99.96 L273.95,100.02 L274.08,99.93 L274.21,100.13 L274.34,99.98 L274.47,100.00 L274.60,100.28 L274.73,100.20 L274.87,100.37 L275.00,100.10 L275.13,100.24 L275.26,99.90 L275.39,100.37 L275.52,100.01 L275.65,100.12 L275.78,100.14 L275.91,100.35 L276.05,100.12 L276.18,100.37 L276.31,100.18 L276.44,99.97 L276.57,100.27 L276.70,99.95 L276.83,100.34 L276.96,100.07 L277.10,99.94 L277.23,100.30 L277.36,99.97 L277.49,100.01 L277.62,99.96 L277.75,100.11 L277.88,99.78 L278.01,99.94 L278.14,99.81 L278.28,100.13 L278.41,99.69 L278.54,99.97 L278.67,99.76 L278.80,99.82 L278.93,99.84 L279.06,99.86 L279.19,99.52 L279.32,99.50 L279.46,99.36 L279.59,99.69 L279.72,99.16 L279.85,99.02 L279.98,99.04 L280.11,98.87 L280.24,98.79 L280.37,98.12 L280.50,97.95 L280.64,97.69 L280.77,97.76 L280.90,97.66 L281.03,97.73 L281.16,98.16 L281.29,98.29 L281.42,98.65 L281.55,98.94 L281.68,98.81 L281.82,99.33 L281.95,99.22 L282.08,99.17 L282.21,99.71 L282.34,99.39 L282.47,99.42 L282.60,99.61 L282.73,99.66 L282.86,100.05 L283.00,100.03 M286.60,100.06 L286.73,100.12 L286.87,100.28 L287.00,100.26 L287.13,100.18 L287.26,100.11 L287.39,99.91 L287.52,99.98 L287.65,100.18 L287.78,100.15 L287.91,100.26 L288.04,100.30 L288.18,100.34 L288.31,99.95 L288.44,99.89 L288.57,100.30 L288.70,100.14 L288.83,99.94 L288.96,100.20 L289.09,99.98 L289.22,99.97 L289.35,100.03 L289.49,100.11 L289.62,100.19 L289.75,99.88 L289.88,100.21 L290.01,100.15 L290.14,100.08 L290.27,100.18 L290.40,100.24 L290.53,99.84 L290.66,100.07 L290.80,100.17 L290.93,100.18 L291.06,100.15 L291.19,99.92 L291.32,100.30 L291.45,100.21 L291.58,99.93 L291.71,100.03 L291.84,100.29 L291.97,99.91 L292.11,100.01 L292.24,100.28 L292.37,100.25 L292.50,99.91 L292.63,100.16 L292.76,99.96 L292.89,100.11 L293.02,100.16 L293.15,99.83 L293.28,99.88 L293.42,99.87 L293.55,99.88 L293.68,99.76 L293.81,99.81 L293.94,99.93 L294.07,99.93 L294.20,99.75 L294.33,100.00 L294.46,100.17 L294.59,99.98 L294.73,99.85 L294.86,100.02 L294.99,99.87 L295.12,99.73 L295.25,99.87 L295.38,99.62 L295.51,99.93 L295.64,99.66 L295.77,99.74 L295.90,100.02 L296.03,99.90 L296.17,99.91 L296.30,99.78 L296.43,99.75 L296.56,99.76 L296.69,99.85 L296.82,99.43 L296.95,99.67 L297.08,99.39 L297.21,99.31 L297.34,99.54 L297.48,99.36 L297.61,99.41 L297.74,99.33 L297.87,99.09 L298.00,98.78 L298.13,98.56 L298.26,98.67 L298.39,98.58 L298.52,98.14 L298.65,97.79 L298.79,97.45 L298.92,97.17 L299.05,96.98 L299.18,96.06 L299.31,95.46 L299.44,94.56 L299.57,93.59 L299.70,92.17 L299.83,89.64 L299.96,87.00 L300.10,83.99 L300.23,80.02 L300.36,75.71 L300.49,73.35 L300.62,73.66 L300.75,76.33 L300.88,80.36 L301.01,84.32 L301.14,87.52 L301.27,90.00 L301.41,91.98 L301.54,93.52 L301.67,94.62 L301.80,95.77 L301.93,96.50 L302.06,96.83 L302.19,97.54 L302.32,97.86 L302.45,97.96 L302.58,98.28 L302.72,98.34 L302.85,98.88 L302.98,98.85 L303.11,98.72 L303.24,98.88 L303.37,99.25 L303.50,99.18 L303.63,99.42 L303.76,99.24 L303.89,99.58 L304.02,99.64 L304.16,99.33 L304.29,99.62 L304.42,99.46 L304.55,99.75 L304.68,99.83 L304.81,99.85 L304.94,99.60 L305.07,99.56 L305.20,99.86 L305.33,99.83 L305.47,99.64 L305.60,99.68 L305.73,99.89 L305.86,99.67 L305.99,99.95 L306.12,99.76 L306.25,99.78 L306.38,99.88 L306.51,99.94 L306.64,100.05 L306.78,99.71 L306.91,100.07 L307.04,99.82 L307.17,99.86 L307.30,100.05 L307.43,100.08 L307.56,100.05 L307.69,100.20 L307.82,99.85 L307.95,99.91 L308.09,100.09 L308.22,99.90 L308.35,99.85 L308.48,99.89 L308.61,100.16 L308.74,100.20 L308.87,100.14 L309.00,100.27 L309.13,100.19 L309.26,99.95 L309.40,99.96 L309.53,100.16 L309.66,99.83 L309.79,100.11 L309.92,99.85 L310.05,99.84 L310.18,100.07 L310.31,99.89 L310.44,100.28 L310.57,100.26 L310.71,100.05 L310.84,99.92 L310.97,99.89 L311.10,100.08 L311.23,100.09 L311.36,100.01 L311.49,100.19 L311.62,100.10 L311.75,100.22 L311.88,99.89 L312.02,99.87 L312.15,100.03 L312.28,100.08 L312.41,99.97 L312.54,100.18 L312.67,99.96 L312.80,100.00 L312.93,100.08 L313.06,100.20 L313.19,100.23 L313.32,100.03 L313.46,100.07 L313.59,100.31 L313.72,100.32 L313.85,100.16 L313.98,99.91 L314.11,100.08 L314.24,100.17 L314.37,99.99 L314.50,99.87 L314.63,100.35 L314.77,100.31 L314.90,99.92 L315.03,100.09 L315.16,100.17 L315.29,100.01 L315.42,99.89 L315.55,100.23 L315.68,100.25 L315.81,100.08 L315.94,99.90 L316.08,100.06 L316.21,99.91 L316.34,100.34 L316.47,99.89 L316.60,100.01 L316.73,100.25 L316.86,99.93 L316.99,99.92 L317.12,99.90 L317.25,99.95 L317.39,100.13 L317.52,100.28 L317.65,99.95 L317.78,99.95 L317.91,100.25 L318.04,100.08 L318.17,100.03 L318.30,99.93 L318.43,99.99 L318.56,100.35 L318.70,99.93 L318.83,100.00 L318.96,100.24 L319.09,100.31 L319.22,100.32 L319.35,100.10 L319.48,100.35 L319.61,100.17 L319.74,100.01 L319.87,100.10 L320.01,100.23 L320.14,100.24 L320.27,99.93 L320.40,99.97 L320.53,100.35 L320.66,99.92 L320.79,100.28 L320.92,100.04 L321.05,99.99 L321.18,100.00 L321.31,100.10 L321.45,100.36 L321.58,99.94 L321.71,100.30 L321.84,100.03 L321.97,99.96 L322.10,100.24 L322.23,100.04 L322.36,99.96 L322.49,100.08 L322.62,100.28 L322.76,100.30 L322.89,100.16 L323.02,99.87 L323.15,100.25 L323.28,100.17 L323.41,100.32 L323.54,100.34 L323.67,100.03 L323.80,100.29 L323.93,100.28 L324.07,100.00 L324.20,100.05 L324.33,100.06 L324.46,100.05 L324.59,100.06 L324.72,99.92 L324.85,99.98 L324.98,100.32 L325.11,100.07 L325.24,100.19 L325.38,100.31 L325.51,100.25 L325.64,99.99 L325.77,100.33 L325.90,100.27 L326.03,100.36 L326.16,100.23 L326.29,100.25 L326.42,100.27 L326.55,99.99 L326.69,100.20 L326.82,100.06 L326.95,100.29 L327.08,99.93 L327.21,100.14 L327.34,100.04 L327.47,100.28 L327.60,100.04 L327.73,100.29 L327.86,100.29 L328.00,100.31 L328.13,99.94 L328.26,100.34 L328.39,100.24 L328.52,100.20 L328.65,100.19 L328.78,99.89 L328.91,100.30 L329.04,100.14 L329.17,100.09 L329.31,100.04 L329.44,100.26 L329.57,100.26 L329.70,100.30 L329.83,99.97 L329.96,100.04 L330.09,99.99 L330.22,99.92 L330.35,100.03 L330.48,99.88 L330.61,100.26 L330.75,99.98 L330.88,99.90 L331.01,99.90 L331.14,100.23 L331.27,99.96 L331.40,100.09 L331.53,100.06 L331.66,100.26 L331.79,100.34 L331.92,100.02 L332.06,100.18 L332.19,100.31 L332.32,100.10 L332.45,100.31 L332.58,100.23 L332.71,100.02 L332.84,100.30 L332.97,100.15 L333.10,99.92 L333.23,100.16 L333.37,100.28 L333.50,100.12 L333.63,100.10 L333.76,100.07 L333.89,100.30 L334.02,100.19 L334.15,99.96 L334.28,100.04 L334.41,100.04 L334.54,100.34 L334.68,100.21 L334.81,99.92 L334.94,100.32 L335.07,99.88 L335.20,100.16 L335.33,100.08 L335.46,100.22 L335.59,100.07 L335.72,99.91 L335.85,100.12 L335.99,100.27 L336.12,100.25 L336.25,100.04 L336.38,99.97 L336.51,100.23 L336.64,100.26 L336.77,99.97 L336.90,100.30 L337.03,100.35 L337.16,100.07 L337.30,100.05 L337.43,100.21 L337.56,100.32 L337.69,99.96 L337.82,100.01 L337.95,100.02 L338.08,100.22 L338.21,99.95 L338.34,100.13 L338.47,100.11 L338.60,100.19 L338.74,99.93 L338.87,100.33 L339.00,100.36 L339.13,100.14 L339.26,100.25 L339.39,99.95 L339.52,100.31 L339.65,100.13 L339.78,100.23 L339.91,100.29 L340.05,100.03 L340.18,100.32 L340.31,99.96 L340.44,99.87 L340.57,100.10 L340.70,100.30 L340.83,100.30 L340.96,100.33 L341.09,100.11 L341.22,100.32 L341.36,100.13 L341.49,99.92 L341.62,100.17 L341.75,100.25 L341.88,100.06 L342.01,100.15 L342.14,99.98 L342.27,99.99 L342.40,100.06 L342.53,100.11 L342.67,100.08 L342.80,99.90 L342.93,99.85 L343.06,100.02 L343.19,100.21 L343.32,100.22 L343.45,99.97 L343.58,99.98 L343.71,100.11 L343.84,99.94 L343.98,100.15 L344.11,100.30 L344.24,99.95 L344.37,100.14 L344.50,100.21 L344.63,100.22 L344.76,100.20 L344.89,100.20 L345.02,99.98 L345.15,100.27 L345.29,100.31 L345.42,99.87 L345.55,100.32 L345.68,100.07 L345.81,99.89 L345.94,99.88 L346.07,100.24 L346.20,100.18 L346.33,99.92 L346.46,100.08 " fill="none" stroke="#a470e4" stroke-width="1.1" stroke-linejoin="round"/>
<path d="M220.18,131.86 L220.32,132.03 L220.45,131.70 L220.58,131.91 L220.71,131.64 L220.84,131.61 L220.97,131.58 L221.10,131.70 L221.23,131.79 L221.36,131.63 L221.50,131.55 L221.63,131.56 L221.76,131.49 L221.89,131.53 L222.02,131.57 L222.15,131.65 L222.28,131.47 L222.41,131.60 L222.54,131.56 L222.68,131.81 L222.81,131.54 L222.94,131.73 L223.07,131.46 L223.20,131.29 L223.33,131.44 L223.46,131.17 L223.59,131.12 L223.72,131.01 L223.86,131.24 L223.99,131.28 L224.12,130.89 L224.25,130.73 L224.38,130.60 L224.51,130.35 L224.64,130.27 L224.77,129.78 L224.90,129.23 L225.04,129.01 L225.17,128.07 L225.30,126.68 L225.43,125.49 L225.56,123.07 L225.69,119.41 L225.82,114.77 L225.95,109.71 L226.08,106.85 L226.22,109.25 L226.35,114.35 L226.48,119.32 L226.61,122.90 L226.74,125.34 L226.87,127.08 L227.00,127.81 L227.13,128.73 L227.27,129.55 L227.40,129.96 L227.53,130.20 L227.66,130.50 L227.79,130.54 L227.92,131.01 L228.05,130.95 L228.18,130.99 L228.31,130.98 L228.45,131.02 L228.58,131.48 L228.71,131.49 L228.84,131.15 L228.97,131.35 L229.10,131.46 L229.23,131.50 L229.36,131.47 L229.49,131.76 L229.63,131.51 L229.76,131.62 L229.89,131.84 L230.02,131.71 L230.15,131.65 L230.28,131.59 L230.41,131.63 L230.54,131.75 L230.67,131.85 L230.81,131.60 L230.94,131.66 L231.07,131.68 L231.20,131.67 L231.33,131.96 L231.46,131.78 L231.59,131.65 L231.72,131.68 L231.85,131.93 L231.99,131.61 L232.12,131.88 L232.25,131.55 L232.38,131.64 L232.51,131.58 L232.64,131.95 L232.77,131.63 L232.90,131.67 L233.03,131.59 L233.17,131.69 L233.30,131.93 L233.43,131.93 L233.56,132.02 L233.69,132.04 L233.82,131.85 L233.95,132.04 L234.08,131.62 L234.22,132.04 L234.35,131.80 L234.48,131.68 L234.61,131.96 L234.74,132.01 L234.87,131.78 L235.00,131.63 L235.13,132.03 L235.26,131.97 L235.40,131.89 L235.53,132.08 L235.66,131.61 L235.79,131.62 L235.92,131.66 L236.05,131.61 L236.18,131.95 L236.31,131.91 L236.44,131.66 L236.58,131.68 L236.71,131.69 L236.84,131.91 L236.97,131.94 L237.10,132.09 L237.23,131.78 L237.36,132.09 L237.49,131.82 L237.62,131.80 L237.76,131.73 L237.89,131.72 L238.02,132.09 L238.15,132.10 L238.28,131.96 L238.41,131.70 L238.54,131.70 L238.67,131.69 L238.80,131.79 L238.94,131.98 L239.07,131.64 L239.20,131.88 L239.33,131.95 L239.46,131.63 L239.59,131.83 L239.72,132.01 L239.85,131.90 L239.98,131.84 L240.12,132.05 L240.25,131.91 L240.38,131.78 L240.51,131.81 L240.64,132.09 L240.77,132.04 L240.90,132.07 L241.03,131.89 L241.17,131.69 L241.30,131.70 L241.43,131.81 L241.56,131.96 L241.69,131.62 L241.82,132.02 L241.95,132.01 L242.08,131.87 L242.21,131.62 L242.35,132.01 L242.48,131.82 L242.61,131.95 L242.74,131.90 L242.87,131.98 L243.00,131.82 L243.13,132.10 L243.26,132.09 L243.39,132.08 L243.53,131.92 L243.66,131.77 L243.79,131.81 L243.92,131.75 L244.05,132.07 L244.18,132.01 L244.31,132.01 L244.44,132.03 L244.57,132.11 L244.71,131.96 L244.84,131.78 L244.97,132.00 L245.10,131.75 L245.23,131.92 L245.36,131.70 L245.49,132.05 L245.62,131.86 L245.75,131.76 L245.89,132.08 L246.02,131.66 L246.15,132.08 L246.28,132.00 L246.41,131.69 L246.54,132.00 L246.67,131.90 L246.80,132.07 L246.93,131.91 L247.07,131.83 L247.20,132.08 L247.33,131.66 L247.46,132.01 L247.59,131.67 L247.72,131.76 L247.85,131.67 L247.98,132.05 L248.12,131.84 L248.25,131.98 L248.38,131.75 L248.51,131.98 L248.64,131.94 L248.77,131.67 L248.90,131.86 L249.03,131.98 L249.16,131.72 L249.30,131.94 L249.43,131.76 L249.56,131.80 L249.69,132.08 L249.82,132.09 L249.95,132.12 L250.08,131.83 L250.21,131.90 L250.34,132.02 L250.48,132.00 L250.61,131.84 L250.74,132.05 L250.87,131.82 L251.00,132.09 L251.13,131.85 L251.26,131.68 L251.39,131.99 L251.52,131.69 L251.66,131.96 L251.79,131.64 L251.92,132.11 L252.05,131.89 L252.18,131.99 L252.31,131.68 L252.44,131.93 L252.57,131.80 L252.70,131.74 L252.84,132.02 L252.97,131.63 L253.10,131.85 L253.23,131.66 L253.36,132.04 L253.49,132.06 L253.62,131.63 L253.75,131.85 L253.88,131.85 L254.02,131.97 L254.15,131.98 L254.28,131.79 L254.41,132.08 L254.54,131.71 L254.67,131.68 L254.80,132.02 L254.93,131.67 L255.06,131.71 L255.20,131.86 L255.33,131.78 L255.46,131.70 L255.59,132.08 L255.72,131.85 L255.85,132.01 L255.98,131.74 L256.11,132.07 L256.25,131.72 L256.38,132.07 L256.51,131.92 L256.64,132.10 L256.77,132.00 L256.90,131.93 L257.03,131.88 L257.16,132.04 L257.29,131.83 L257.43,131.66 L257.56,132.07 L257.69,132.02 L257.82,131.95 L257.95,131.98 L258.08,131.73 L258.21,131.84 L258.34,132.02 L258.47,132.09 L258.61,132.07 L258.74,131.69 L258.87,131.95 L259.00,131.89 L259.13,131.81 L259.26,131.69 L259.39,131.68 L259.52,131.85 L259.65,131.86 L259.79,131.74 L259.92,131.79 L260.05,131.89 L260.18,131.99 L260.31,131.90 L260.44,131.69 L260.57,132.05 L260.70,131.79 L260.83,132.09 L260.97,132.10 L261.10,131.68 L261.23,131.90 L261.36,132.09 L261.49,131.80 L261.62,131.88 L261.75,131.77 L261.88,131.62 L262.01,131.71 L262.15,131.67 L262.28,131.75 L262.41,131.92 L262.54,131.89 L262.67,132.08 L262.80,131.95 L262.93,131.79 L263.06,132.08 L263.20,131.92 L263.33,131.88 L263.46,132.04 L263.59,131.94 L263.72,131.79 L263.85,131.91 L263.98,131.76 L264.11,132.09 L264.24,131.73 L264.38,132.09 L264.51,131.64 L264.64,131.61 L264.77,131.88 L264.90,131.71 L265.03,131.86 L265.16,131.66 L265.29,132.02 L265.42,131.94 L265.56,131.95 L265.69,132.07 L265.82,132.10 L265.95,131.94 L266.08,131.96 L266.21,131.60 L266.34,131.63 L266.47,131.82 L266.60,132.09 L266.74,131.76 L266.87,131.89 L267.00,131.61 L267.13,131.81 L267.26,132.05 L267.39,131.90 L267.52,132.01 L267.65,131.61 L267.78,131.70 L267.92,131.69 L268.05,132.02 L268.18,131.65 L268.31,132.07 L268.44,131.73 L268.57,132.04 L268.70,131.86 L268.83,131.76 L268.96,132.08 L269.10,131.80 L269.23,131.95 L269.36,131.63 L269.49,132.01 L269.62,132.09 L269.75,131.65 L269.88,131.97 L270.01,131.73 L270.15,131.67 L270.28,131.78 L270.41,131.93 L270.54,132.07 L270.67,132.09 L270.80,132.09 L270.93,131.91 L271.06,131.92 L271.19,131.68 L271.33,131.96 L271.46,131.87 L271.59,131.77 L271.72,132.04 L271.85,131.72 L271.98,131.66 L272.11,131.67 L272.24,131.67 L272.37,131.89 L272.51,131.99 L272.64,131.67 L272.77,131.84 L272.90,131.88 L273.03,131.87 L273.16,131.79 L273.29,131.86 L273.42,131.59 L273.55,131.62 L273.69,131.80 L273.82,131.70 L273.95,131.96 L274.08,131.70 L274.21,132.00 L274.34,131.70 L274.47,131.63 L274.60,131.82 L274.73,131.77 L274.87,131.75 L275.00,131.96 L275.13,131.69 L275.26,131.91 L275.39,131.99 L275.52,131.80 L275.65,131.82 L275.78,132.03 L275.91,131.87 L276.05,131.66 L276.18,131.60 L276.31,131.61 L276.44,131.73 L276.57,131.60 L276.70,131.88 L276.83,131.77 L276.96,131.71 L277.10,131.81 L277.23,132.01 L277.36,131.66 L277.49,131.62 L277.62,131.69 L277.75,131.69 L277.88,131.98 L278.01,131.87 L278.14,131.72 L278.28,131.58 L278.41,131.51 L278.54,131.54 L278.67,131.89 L278.80,131.78 L278.93,131.52 L279.06,131.73 L279.19,131.43 L279.32,131.62 L279.46,131.50 L279.59,131.35 L279.72,131.62 L279.85,131.55 L279.98,131.38 L280.11,131.13 L280.24,131.29 L280.37,131.07 L280.50,131.08 L280.64,130.71 L280.77,131.05 L280.90,130.59 L281.03,130.74 L281.16,130.90 L281.29,130.90 L281.42,130.95 L281.55,131.34 L281.68,131.58 L281.82,131.33 L281.95,131.35 L282.08,131.61 L282.21,131.42 L282.34,131.55 L282.47,131.72 L282.60,131.62 L282.73,131.50 L282.86,131.47 L283.00,131.73 M286.60,132.05 L286.73,132.01 L286.87,131.60 L287.00,131.80 L287.13,131.80 L287.26,131.65 L287.39,131.89 L287.52,131.80 L287.65,131.95 L287.78,131.70 L287.91,132.02 L288.04,131.96 L288.18,131.79 L288.31,131.62 L288.44,131.79 L288.57,131.61 L288.70,131.89 L288.83,131.90 L288.96,131.84 L289.09,132.03 L289.22,131.57 L289.35,131.90 L289.49,131.94 L289.62,131.60 L289.75,131.70 L289.88,131.57 L290.01,131.83 L290.14,131.90 L290.27,131.71 L290.40,131.88 L290.53,131.72 L290.66,131.89 L290.80,131.67 L290.93,132.02 L291.06,131.75 L291.19,131.53 L291.32,131.57 L291.45,131.89 L291.58,131.96 L291.71,131.84 L291.84,131.60 L291.97,131.95 L292.11,131.87 L292.24,131.57 L292.37,131.70 L292.50,131.84 L292.63,131.51 L292.76,131.52 L292.89,131.68 L293.02,131.93 L293.15,131.99 L293.28,131.65 L293.42,131.94 L293.55,131.88 L293.68,131.91 L293.81,131.77 L293.94,131.96 L294.07,131.79 L294.20,131.93 L294.33,131.74 L294.46,131.55 L294.59,131.70 L294.73,131.68 L294.86,131.60 L294.99,131.61 L295.12,131.67 L295.25,131.70 L295.38,131.51 L295.51,131.53 L295.64,131.63 L295.77,131.62 L295.90,131.56 L296.03,131.67 L296.17,131.42 L296.30,131.57 L296.43,131.43 L296.56,131.66 L296.69,131.60 L296.82,131.62 L296.95,131.46 L297.08,131.30 L297.21,131.60 L297.34,131.36 L297.48,131.25 L297.61,131.16 L297.74,131.16 L297.87,131.26 L298.00,131.24 L298.13,131.00 L298.26,131.03 L298.39,130.66 L298.52,130.65 L298.65,130.45 L298.79,130.24 L298.92,130.04 L299.05,129.96 L299.18,129.61 L299.31,128.91 L299.44,128.37 L299.57,127.92 L299.70,126.91 L299.83,125.67 L299.96,124.02 L300.10,121.97 L300.23,119.34 L300.36,116.87 L300.49,115.53 L300.62,115.49 L300.75,117.64 L300.88,119.84 L301.01,122.30 L301.14,124.46 L301.27,125.95 L301.41,126.85 L301.54,127.82 L301.67,128.40 L301.80,129.27 L301.93,129.66 L302.06,129.87 L302.19,130.08 L302.32,130.25 L302.45,130.54 L302.58,130.80 L302.72,131.02 L302.85,131.10 L302.98,131.20 L303.11,131.06 L303.24,131.12 L303.37,131.12 L303.50,131.51 L303.63,131.16 L303.76,131.18 L303.89,131.28 L304.02,131.63 L304.16,131.63 L304.29,131.39 L304.42,131.67 L304.55,131.71 L304.68,131.50 L304.81,131.40 L304.94,131.71 L305.07,131.52 L305.20,131.41 L305.33,131.81 L305.47,131.59 L305.60,131.58 L305.73,131.69 L305.86,131.53 L305.99,131.42 L306.12,131.61 L306.25,131.61 L306.38,131.44 L306.51,131.62 L306.64,131.82 L306.78,131.62 L306.91,131.79 L307.04,131.77 L307.17,131.56 L307.30,131.48 L307.43,131.81 L307.56,131.78 L307.69,131.63 L307.82,131.58 L307.95,131.91 L308.09,131.94 L308.22,131.61 L308.35,131.79 L308.48,131.79 L308.61,131.66 L308.74,131.52 L308.87,131.67 L309.00,131.83 L309.13,131.81 L309.26,131.77 L309.40,131.57 L309.53,131.62 L309.66,131.67 L309.79,131.73 L309.92,131.70 L310.05,131.97 L310.18,131.58 L310.31,132.02 L310.44,131.65 L310.57,131.95 L310.71,131.65 L310.84,131.82 L310.97,131.72 L311.10,131.55 L311.23,131.93 L311.36,131.94 L311.49,131.67 L311.62,131.92 L311.75,131.78 L311.88,132.03 L312.02,131.56 L312.15,131.73 L312.28,131.65 L312.41,131.85 L312.54,131.93 L312.67,131.96 L312.80,131.82 L312.93,131.74 L313.06,131.94 L313.19,131.60 L313.32,131.67 L313.46,131.92 L313.59,131.77 L313.72,132.04 L313.85,131.59 L313.98,131.78 L314.11,131.65 L314.24,131.55 L314.37,131.59 L314.50,131.59 L314.63,131.73 L314.77,131.77 L314.90,131.80 L315.03,131.69 L315.16,131.90 L315.29,131.81 L315.42,132.04 L315.55,131.64 L315.68,131.81 L315.81,131.80 L315.94,131.74 L316.08,131.98 L316.21,131.66 L316.34,131.99 L316.47,131.73 L316.60,131.72 L316.73,131.86 L316.86,131.84 L316.99,131.70 L317.12,131.60 L317.25,132.03 L317.39,131.74 L317.52,131.61 L317.65,131.88 L317.78,131.82 L317.91,131.72 L318.04,131.72 L318.17,131.98 L318.30,131.72 L318.43,131.76 L318.56,132.03 L318.70,131.74 L318.83,131.76 L318.96,131.64 L319.09,131.89 L319.22,131.89 L319.35,131.78 L319.48,131.76 L319.61,131.67 L319.74,131.95 L319.87,131.79 L320.01,131.97 L320.14,131.74 L320.27,131.92 L320.40,131.57 L320.53,131.67 L320.66,132.04 L320.79,131.90 L320.92,131.89 L321.05,131.81 L321.18,131.79 L321.31,131.66 L321.45,131.64 L321.58,131.88 L321.71,131.90 L321.84,131.69 L321.97,131.88 L322.10,131.63 L322.23,131.86 L322.36,131.64 L322.49,131.81 L322.62,131.71 L322.76,131.83 L322.89,131.62 L323.02,131.80 L323.15,131.87 L323.28,131.63 L323.41,131.71 L323.54,131.90 L323.67,131.83 L323.80,131.87 L323.93,131.95 L324.07,131.84 L324.20,131.67 L324.33,131.78 L324.46,131.97 L324.59,131.84 L324.72,131.93 L324.85,131.74 L324.98,131.78 L325.11,132.04 L325.24,131.97 L325.38,131.88 L325.51,131.61 L325.64,131.86 L325.77,131.57 L325.90,132.02 L326.03,132.04 L326.16,131.92 L326.29,131.69 L326.42,131.98 L326.55,131.65 L326.69,131.97 L326.82,131.82 L326.95,131.57 L327.08,132.00 L327.21,131.78 L327.34,131.97 L327.47,131.90 L327.60,131.82 L327.73,131.99 L327.86,131.66 L328.00,132.01 L328.13,131.73 L328.26,131.57 L328.39,131.73 L328.52,131.59 L328.65,131.59 L328.78,131.87 L328.91,131.62 L329.04,131.64 L329.17,131.70 L329.31,131.70 L329.44,132.02 L329.57,132.01 L329.70,131.99 L329.83,132.05 L329.96,131.78 L330.09,131.95 L330.22,131.70 L330.35,132.02 L330.48,131.96 L330.61,131.92 L330.75,131.67 L330.88,131.60 L331.01,132.02 L331.14,131.83 L331.27,131.86 L331.40,131.99 L331.53,131.63 L331.66,131.91 L331.79,131.79 L331.92,131.95 L332.06,131.78 L332.19,131.65 L332.32,132.03 L332.45,131.70 L332.58,131.93 L332.71,131.97 L332.84,131.68 L332.97,131.90 L333.10,131.75 L333.23,131.67 L333.37,131.66 L333.50,132.03 L333.63,131.74 L333.76,131.81 L333.89,131.81 L334.02,131.57 L334.15,131.93 L334.28,131.93 L334.41,131.99 L334.54,131.73 L334.68,131.66 L334.81,131.73 L334.94,131.92 L335.07,131.88 L335.20,131.76 L335.33,131.82 L335.46,131.63 L335.59,132.01 L335.72,131.79 L335.85,131.81 L335.99,131.95 L336.12,131.65 L336.25,131.91 L336.38,131.73 L336.51,131.96 L336.64,131.60 L336.77,131.69 L336.90,131.87 L337.03,131.79 L337.16,131.74 L337.30,131.84 L337.43,131.66 L337.56,131.77 L337.69,131.55 L337.82,131.95 L337.95,131.68 L338.08,131.97 L338.21,131.83 L338.34,131.85 L338.47,131.87 L338.60,131.61 L338.74,131.94 L338.87,131.70 L339.00,131.98 L339.13,131.95 L339.26,131.89 L339.39,131.96 L339.52,131.77 L339.65,131.89 L339.78,132.03 L339.91,131.65 L340.05,131.60 L340.18,131.76 L340.31,131.81 L340.44,131.63 L340.57,131.66 L340.70,131.98 L340.83,131.74 L340.96,131.63 L341.09,131.64 L341.22,131.84 L341.36,131.65 L341.49,131.79 L341.62,131.82 L341.75,131.77 L341.88,131.80 L342.01,131.97 L342.14,131.56 L342.27,132.01 L342.40,131.65 L342.53,131.57 L342.67,131.93 L342.80,131.83 L342.93,131.82 L343.06,131.66 L343.19,131.94 L343.32,131.70 L343.45,131.91 L343.58,131.66 L343.71,131.84 L343.84,131.87 L343.98,131.73 L344.11,131.79 L344.24,131.58 L344.37,131.87 L344.50,131.89 L344.63,131.63 L344.76,131.82 L344.89,131.91 L345.02,131.60 L345.15,131.97 L345.29,131.98 L345.42,131.57 L345.55,131.67 L345.68,131.59 L345.81,131.67 L345.94,131.59 L346.07,131.79 L346.20,131.67 L346.33,131.70 L346.46,131.78 " fill="none" stroke="#f27a7a" stroke-width="1.1" stroke-linejoin="round"/>
<path d="M220.18,161.87 L220.32,162.07 L220.45,162.04 L220.58,161.73 L220.71,161.78 L220.84,161.67 L220.97,161.83 L221.10,161.71 L221.23,162.00 L221.36,162.04 L221.50,162.14 L221.63,161.74 L221.76,161.65 L221.89,162.00 L222.02,161.82 L222.15,162.07 L222.28,161.79 L222.41,161.74 L222.54,161.61 L222.68,162.03 L222.81,161.80 L222.94,161.74 L223.07,161.72 L223.20,161.86 L223.33,161.87 L223.46,161.66 L223.59,161.48 L223.72,161.55 L223.86,161.75 L223.99,161.45 L224.12,161.51 L224.25,161.38 L224.38,161.23 L224.51,161.16 L224.64,160.84 L224.77,160.80 L224.90,160.69 L225.04,159.95 L225.17,159.62 L225.30,159.21 L225.43,158.30 L225.56,156.40 L225.69,154.62 L225.82,151.76 L225.95,148.74 L226.08,146.99 L226.22,148.26 L226.35,151.44 L226.48,154.55 L226.61,156.68 L226.74,157.86 L226.87,159.06 L227.00,159.74 L227.13,160.23 L227.27,160.26 L227.40,160.74 L227.53,160.88 L227.66,161.17 L227.79,161.17 L227.92,161.16 L228.05,161.52 L228.18,161.39 L228.31,161.70 L228.45,161.51 L228.58,161.67 L228.71,161.83 L228.84,161.52 L228.97,161.85 L229.10,161.54 L229.23,162.00 L229.36,161.56 L229.49,161.93 L229.63,161.76 L229.76,161.68 L229.89,161.80 L230.02,161.87 L230.15,161.83 L230.28,161.69 L230.41,161.90 L230.54,161.80 L230.67,162.14 L230.81,161.85 L230.94,161.88 L231.07,161.79 L231.20,162.16 L231.33,161.84 L231.46,162.01 L231.59,162.11 L231.72,161.89 L231.85,162.07 L231.99,161.84 L232.12,161.76 L232.25,161.73 L232.38,161.93 L232.51,162.15 L232.64,161.81 L232.77,161.94 L232.90,162.10 L233.03,161.86 L233.17,161.80 L233.30,161.98 L233.43,161.94 L233.56,162.20 L233.69,162.18 L233.82,161.85 L233.95,162.01 L234.08,161.94 L234.22,161.75 L234.35,161.96 L234.48,162.19 L234.61,161.89 L234.74,162.03 L234.87,162.10 L235.00,161.77 L235.13,162.20 L235.26,161.80 L235.40,161.90 L235.53,162.10 L235.66,161.76 L235.79,161.93 L235.92,161.81 L236.05,161.99 L236.18,161.76 L236.31,161.83 L236.44,161.86 L236.58,161.79 L236.71,161.80 L236.84,161.85 L236.97,162.01 L237.10,161.82 L237.23,162.17 L237.36,161.96 L237.49,161.88 L237.62,161.88 L237.76,162.18 L237.89,161.78 L238.02,162.13 L238.15,161.81 L238.28,162.23 L238.41,161.96 L238.54,162.06 L238.67,162.19 L238.80,161.81 L238.94,161.79 L239.07,162.11 L239.20,162.06 L239.33,162.12 L239.46,161.90 L239.59,162.01 L239.72,161.86 L239.85,161.98 L239.98,161.91 L240.12,162.06 L240.25,161.92 L240.38,161.90 L240.51,162.09 L240.64,161.81 L240.77,162.17 L240.90,162.02 L241.03,161.88 L241.17,161.83 L241.30,162.02 L241.43,162.02 L241.56,162.13 L241.69,161.96 L241.82,161.98 L241.95,162.22 L242.08,161.91 L242.21,162.26 L242.35,162.22 L242.48,162.27 L242.61,162.24 L242.74,161.90 L242.87,162.18 L243.00,162.08 L243.13,161.88 L243.26,162.27 L243.39,162.10 L243.53,162.18 L243.66,162.05 L243.79,161.81 L243.92,162.21 L244.05,161.86 L244.18,161.90 L244.31,162.08 L244.44,161.87 L244.57,162.01 L244.71,162.13 L244.84,161.82 L244.97,162.11 L245.10,161.83 L245.23,162.01 L245.36,162.10 L245.49,162.12 L245.62,161.80 L245.75,161.87 L245.89,162.26 L246.02,161.97 L246.15,161.99 L246.28,161.97 L246.41,162.13 L246.54,162.15 L246.67,162.10 L246.80,161.98 L246.93,162.06 L247.07,162.04 L247.20,161.87 L247.33,162.25 L247.46,162.26 L247.59,162.17 L247.72,162.28 L247.85,162.01 L247.98,162.20 L248.12,161.90 L248.25,162.15 L248.38,162.14 L248.51,162.25 L248.64,162.20 L248.77,162.22 L248.90,161.91 L249.03,162.17 L249.16,162.02 L249.30,161.93 L249.43,161.96 L249.56,162.18 L249.69,162.20 L249.82,162.20 L249.95,162.11 L250.08,161.86 L250.21,161.85 L250.34,162.06 L250.48,161.88 L250.61,161.94 L250.74,161.83 L250.87,161.85 L251.00,162.13 L251.13,161.88 L251.26,162.19 L251.39,161.93 L251.52,162.19 L251.66,161.92 L251.79,161.90 L251.92,161.96 L252.05,161.77 L252.18,161.98 L252.31,161.95 L252.44,161.76 L252.57,162.18 L252.70,161.93 L252.84,161.74 L252.97,162.21 L253.10,161.84 L253.23,161.85 L253.36,161.72 L253.49,161.75 L253.62,162.04 L253.75,161.96 L253.88,161.90 L254.02,161.75 L254.15,161.74 L254.28,162.04 L254.41,161.69 L254.54,161.94 L254.67,161.81 L254.80,161.34 L254.93,161.60 L255.06,161.09 L255.20,161.37 L255.33,161.41 L255.46,161.40 L255.59,161.42 L255.72,161.65 L255.85,161.42 L255.98,161.70 L256.11,161.63 L256.25,161.75 L256.38,161.68 L256.51,161.98 L256.64,161.93 L256.77,162.06 L256.90,162.00 L257.03,162.00 L257.16,162.17 L257.29,162.13 L257.43,162.02 L257.56,161.90 L257.69,162.21 L257.82,161.94 L257.95,161.81 L258.08,161.93 L258.21,162.12 L258.34,162.23 L258.47,162.09 L258.61,162.10 L258.74,162.24 L258.87,162.16 L259.00,162.00 L259.13,162.01 L259.26,162.16 L259.39,161.94 L259.52,161.84 L259.65,162.09 L259.79,162.19 L259.92,161.91 L260.05,162.13 L260.18,162.24 L260.31,161.85 L260.44,161.86 L260.57,162.04 L260.70,161.96 L260.83,162.27 L260.97,162.29 L261.10,162.02 L261.23,162.19 L261.36,162.11 L261.49,161.88 L261.62,162.28 L261.75,161.88 L261.88,161.84 L262.01,162.02 L262.15,161.81 L262.28,162.04 L262.41,162.00 L262.54,162.28 L262.67,162.01 L262.80,162.22 L262.93,162.19 L263.06,162.09 L263.20,161.92 L263.33,161.95 L263.46,162.05 L263.59,162.00 L263.72,162.12 L263.85,162.05 L263.98,161.96 L264.11,162.11 L264.24,162.30 L264.38,161.90 L264.51,161.97 L264.64,161.81 L264.77,161.85 L264.90,161.83 L265.03,162.01 L265.16,162.22 L265.29,162.15 L265.42,162.29 L265.56,162.22 L265.69,162.10 L265.82,162.09 L265.95,161.81 L266.08,162.00 L266.21,161.94 L266.34,162.11 L266.47,161.84 L266.60,162.08 L266.74,161.99 L266.87,162.05 L267.00,162.01 L267.13,161.86 L267.26,162.17 L267.39,162.20 L267.52,162.10 L267.65,161.86 L267.78,162.10 L267.92,162.24 L268.05,162.30 L268.18,162.18 L268.31,161.83 L268.44,162.24 L268.57,162.14 L268.70,161.94 L268.83,162.26 L268.96,162.22 L269.10,162.25 L269.23,161.93 L269.36,162.09 L269.49,161.99 L269.62,161.95 L269.75,162.18 L269.88,162.11 L270.01,161.97 L270.15,162.07 L270.28,162.27 L270.41,162.08 L270.54,162.26 L270.67,162.08 L270.80,162.30 L270.93,161.81 L271.06,162.03 L271.19,162.08 L271.33,162.16 L271.46,162.28 L271.59,162.11 L271.72,162.04 L271.85,162.11 L271.98,162.06 L272.11,162.15 L272.24,162.27 L272.37,161.80 L272.51,161.95 L272.64,162.23 L272.77,161.82 L272.90,162.19 L273.03,161.81 L273.16,162.11 L273.29,162.19 L273.42,161.91 L273.55,161.98 L273.69,161.90 L273.82,162.14 L273.95,162.05 L274.08,162.08 L274.21,161.94 L274.34,162.07 L274.47,162.25 L274.60,162.16 L274.73,162.25 L274.87,161.89 L275.00,162.03 L275.13,161.96 L275.26,161.93 L275.39,162.16 L275.52,161.84 L275.65,162.03 L275.78,162.14 L275.91,162.21 L276.05,161.75 L276.18,161.87 L276.31,161.98 L276.44,162.20 L276.57,161.80 L276.70,162.14 L276.83,161.91 L276.96,161.98 L277.10,162.16 L277.23,161.72 L277.36,161.84 L277.49,161.74 L277.62,161.72 L277.75,161.79 L277.88,161.98 L278.01,161.90 L278.14,161.66 L278.28,161.98 L278.41,161.81 L278.54,161.60 L278.67,161.91 L278.80,161.88 L278.93,161.54 L279.06,161.86 L279.19,161.75 L279.32,161.40 L279.46,161.23 L279.59,161.58 L279.72,161.48 L279.85,161.01 L279.98,161.22 L280.11,161.09 L280.24,160.86 L280.37,160.77 L280.50,160.65 L280.64,160.10 L280.77,160.14 L280.90,160.00 L281.03,159.56 L281.16,159.68 L281.29,159.70 L281.42,159.89 L281.55,159.92 L281.68,159.97 L281.82,160.18 L281.95,160.53 L282.08,160.52 L282.21,161.06 L282.34,161.22 L282.47,161.03 L282.60,161.36 L282.73,161.45 L282.86,161.25 L283.00,161.65 M286.60,162.14 L286.73,161.91 L286.87,161.81 L287.00,161.90 L287.13,162.15 L287.26,162.00 L287.39,162.18 L287.52,161.85 L287.65,161.83 L287.78,161.95 L287.91,162.22 L288.04,161.86 L288.18,161.82 L288.31,162.16 L288.44,161.83 L288.57,162.12 L288.70,161.83 L288.83,161.91 L288.96,162.12 L289.09,162.22 L289.22,161.99 L289.35,162.01 L289.49,161.81 L289.62,161.96 L289.75,161.91 L289.88,162.19 L290.01,162.15 L290.14,162.18 L290.27,162.06 L290.40,162.14 L290.53,161.86 L290.66,161.98 L290.80,161.94 L290.93,161.93 L291.06,162.16 L291.19,161.90 L291.32,161.95 L291.45,161.93 L291.58,162.22 L291.71,162.11 L291.84,162.03 L291.97,161.98 L292.11,162.25 L292.24,162.25 L292.37,162.01 L292.50,162.06 L292.63,162.21 L292.76,161.91 L292.89,161.90 L293.02,161.83 L293.15,162.02 L293.28,162.15 L293.42,161.85 L293.55,161.98 L293.68,162.26 L293.81,162.00 L293.94,161.95 L294.07,162.17 L294.20,162.19 L294.33,161.93 L294.46,161.80 L294.59,162.05 L294.73,162.10 L294.86,162.19 L294.99,162.05 L295.12,161.87 L295.25,161.97 L295.38,161.84 L295.51,161.92 L295.64,161.92 L295.77,162.13 L295.90,162.12 L296.03,162.12 L296.17,161.88 L296.30,162.11 L296.43,161.69 L296.56,162.06 L296.69,161.90 L296.82,162.00 L296.95,161.75 L297.08,162.02 L297.21,161.51 L297.34,161.89 L297.48,161.84 L297.61,161.58 L297.74,161.76 L297.87,161.41 L298.00,161.62 L298.13,161.41 L298.26,161.31 L298.39,161.11 L298.52,161.31 L298.65,161.15 L298.79,160.68 L298.92,160.94 L299.05,160.33 L299.18,160.13 L299.31,159.79 L299.44,159.41 L299.57,158.97 L299.70,158.22 L299.83,157.04 L299.96,155.56 L300.10,153.73 L300.23,151.71 L300.36,149.99 L300.49,148.79 L300.62,148.84 L300.75,150.49 L300.88,152.19 L301.01,154.13 L301.14,155.82 L301.27,156.99 L301.41,158.35 L301.54,158.93 L301.67,159.47 L301.80,159.86 L301.93,160.12 L302.06,160.42 L302.19,160.73 L302.32,160.89 L302.45,161.30 L302.58,161.22 L302.72,161.14 L302.85,161.15 L302.98,161.28 L303.11,161.44 L303.24,161.71 L303.37,161.82 L303.50,161.53 L303.63,161.84 L303.76,161.70 L303.89,161.78 L304.02,161.81 L304.16,161.58 L304.29,161.62 L304.42,161.94 L304.55,161.97 L304.68,161.83 L304.81,162.11 L304.94,162.08 L305.07,161.83 L305.20,161.72 L305.33,161.98 L305.47,162.04 L305.60,161.83 L305.73,161.75 L305.86,161.98 L305.99,161.76 L306.12,162.12 L306.25,162.07 L306.38,161.90 L306.51,161.99 L306.64,161.89 L306.78,161.87 L306.91,161.87 L307.04,162.19 L307.17,162.02 L307.30,162.15 L307.43,161.97 L307.56,162.20 L307.69,162.10 L307.82,162.13 L307.95,162.01 L308.09,162.09 L308.22,161.91 L308.35,162.30 L308.48,162.16 L308.61,162.09 L308.74,162.14 L308.87,161.88 L309.00,162.00 L309.13,161.95 L309.26,162.25 L309.40,161.84 L309.53,162.06 L309.66,162.27 L309.79,162.23 L309.92,162.20 L310.05,161.99 L310.18,161.96 L310.31,162.20 L310.44,162.00 L310.57,162.21 L310.71,162.02 L310.84,162.23 L310.97,162.14 L311.10,162.26 L311.23,162.35 L311.36,162.04 L311.49,162.35 L311.62,161.86 L311.75,162.30 L311.88,161.87 L312.02,162.13 L312.15,162.06 L312.28,162.25 L312.41,162.02 L312.54,161.97 L312.67,162.26 L312.80,162.14 L312.93,162.24 L313.06,162.11 L313.19,161.89 L313.32,162.25 L313.46,161.98 L313.59,162.11 L313.72,161.87 L313.85,162.00 L313.98,162.21 L314.11,162.26 L314.24,162.19 L314.37,162.10 L314.50,162.24 L314.63,162.21 L314.77,161.98 L314.90,162.14 L315.03,162.18 L315.16,162.24 L315.29,161.98 L315.42,162.03 L315.55,162.05 L315.68,161.93 L315.81,162.06 L315.94,162.25 L316.08,162.17 L316.21,161.97 L316.34,162.25 L316.47,161.94 L316.60,162.26 L316.73,161.96 L316.86,161.93 L316.99,162.01 L317.12,162.14 L317.25,162.02 L317.39,162.33 L317.52,162.36 L317.65,162.03 L317.78,162.26 L317.91,162.24 L318.04,162.17 L318.17,162.02 L318.30,162.36 L318.43,162.37 L318.56,161.90 L318.70,162.06 L318.83,162.05 L318.96,161.99 L319.09,162.11 L319.22,162.34 L319.35,161.91 L319.48,162.31 L319.61,162.05 L319.74,161.90 L319.87,162.34 L320.01,162.03 L320.14,162.00 L320.27,161.95 L320.40,162.08 L320.53,161.96 L320.66,161.99 L320.79,162.02 L320.92,162.19 L321.05,162.12 L321.18,162.05 L321.31,162.16 L321.45,162.29 L321.58,162.26 L321.71,162.07 L321.84,162.36 L321.97,162.30 L322.10,162.18 L322.23,162.14 L322.36,162.07 L322.49,161.97 L322.62,162.34 L322.76,162.21 L322.89,161.95 L323.02,162.37 L323.15,162.35 L323.28,161.92 L323.41,162.25 L323.54,162.02 L323.67,162.17 L323.80,162.32 L323.93,162.08 L324.07,162.15 L324.20,162.24 L324.33,162.00 L324.46,162.22 L324.59,162.12 L324.72,162.40 L324.85,162.00 L324.98,162.26 L325.11,161.93 L325.24,162.05 L325.38,161.97 L325.51,161.98 L325.64,162.17 L325.77,162.00 L325.90,162.31 L326.03,161.96 L326.16,162.22 L326.29,162.34 L326.42,161.97 L326.55,162.02 L326.69,162.29 L326.82,162.15 L326.95,162.38 L327.08,162.08 L327.21,162.11 L327.34,162.39 L327.47,162.08 L327.60,162.40 L327.73,162.36 L327.86,162.01 L328.00,162.19 L328.13,162.38 L328.26,161.97 L328.39,162.34 L328.52,162.30 L328.65,162.29 L328.78,162.22 L328.91,161.97 L329.04,162.40 L329.17,161.97 L329.31,162.31 L329.44,162.28 L329.57,162.08 L329.70,162.26 L329.83,162.12 L329.96,162.29 L330.09,161.94 L330.22,162.38 L330.35,162.11 L330.48,162.32 L330.61,162.15 L330.75,162.33 L330.88,162.07 L331.01,162.19 L331.14,161.93 L331.27,162.16 L331.40,161.96 L331.53,162.35 L331.66,162.26 L331.79,162.13 L331.92,162.41 L332.06,162.40 L332.19,162.40 L332.32,161.96 L332.45,162.27 L332.58,162.29 L332.71,162.23 L332.84,161.93 L332.97,162.39 L333.10,162.14 L333.23,162.22 L333.37,162.33 L333.50,162.06 L333.63,161.94 L333.76,162.39 L333.89,162.06 L334.02,161.95 L334.15,161.99 L334.28,162.42 L334.41,162.30 L334.54,162.03 L334.68,162.00 L334.81,162.38 L334.94,162.26 L335.07,162.22 L335.20,161.99 L335.33,162.13 L335.46,162.40 L335.59,161.93 L335.72,162.14 L335.85,161.96 L335.99,162.43 L336.12,161.98 L336.25,162.41 L336.38,162.35 L336.51,162.30 L336.64,161.95 L336.77,162.28 L336.90,162.18 L337.03,162.18 L337.16,162.00 L337.30,162.19 L337.43,162.33 L337.56,162.00 L337.69,162.37 L337.82,162.14 L337.95,162.07 L338.08,162.05 L338.21,162.16 L338.34,162.26 L338.47,162.22 L338.60,162.38 L338.74,162.19 L338.87,162.19 L339.00,162.43 L339.13,162.04 L339.26,161.94 L339.39,162.10 L339.52,162.09 L339.65,162.00 L339.78,162.14 L339.91,161.95 L340.05,162.40 L340.18,162.18 L340.31,162.38 L340.44,162.29 L340.57,162.30 L340.70,162.32 L340.83,162.09 L340.96,162.30 L341.09,162.04 L341.22,162.22 L341.36,162.24 L341.49,162.33 L341.62,162.02 L341.75,162.11 L341.88,162.35 L342.01,162.34 L342.14,162.43 L342.27,162.00 L342.40,162.05 L342.53,161.99 L342.67,162.30 L342.80,162.31 L342.93,162.27 L343.06,162.33 L343.19,162.20 L343.32,162.22 L343.45,162.40 L343.58,162.27 L343.71,162.27 L343.84,162.24 L343.98,162.19 L344.11,162.32 L344.24,162.23 L344.37,162.01 L344.50,162.16 L344.63,162.15 L344.76,162.16 L344.89,162.23 L345.02,162.13 L345.15,162.14 L345.29,162.16 L345.42,162.13 L345.55,162.43 L345.68,161.99 L345.81,161.95 L345.94,162.31 L346.07,162.14 L346.20,162.17 L346.33,162.24 L346.46,162.13 " fill="none" stroke="#f4a81c" stroke-width="1.1" stroke-linejoin="round"/>
<path d="M220.18,193.29 L220.32,193.17 L220.45,193.60 L220.58,193.63 L220.71,193.30 L220.84,193.39 L220.97,193.31 L221.10,193.17 L221.23,193.58 L221.36,193.55 L221.50,193.25 L221.63,193.25 L221.76,193.46 L221.89,193.50 L222.02,193.33 L222.15,193.28 L222.28,193.19 L222.41,193.46 L222.54,193.48 L222.68,193.46 L222.81,193.07 L222.94,193.29 L223.07,193.46 L223.20,193.30 L223.33,193.14 L223.46,192.95 L223.59,192.87 L223.72,193.16 L223.86,192.77 L223.99,193.08 L224.12,192.93 L224.25,192.74 L224.38,192.83 L224.51,192.71 L224.64,192.37 L224.77,191.88 L224.90,191.83 L225.04,191.34 L225.17,190.70 L225.30,190.27 L225.43,189.05 L225.56,187.11 L225.69,184.75 L225.82,181.48 L225.95,177.97 L226.08,176.03 L226.22,177.76 L226.35,181.54 L226.48,184.59 L226.61,187.32 L226.74,188.80 L226.87,190.24 L227.00,191.03 L227.13,191.28 L227.27,191.83 L227.40,191.89 L227.53,192.27 L227.66,192.56 L227.79,192.71 L227.92,192.68 L228.05,192.62 L228.18,192.75 L228.31,193.03 L228.45,192.89 L228.58,193.01 L228.71,193.21 L228.84,193.38 L228.97,193.22 L229.10,193.12 L229.23,193.31 L229.36,193.17 L229.49,193.45 L229.63,193.15 L229.76,193.22 L229.89,193.32 L230.02,193.57 L230.15,193.21 L230.28,193.23 L230.41,193.21 L230.54,193.26 L230.67,193.33 L230.81,193.37 L230.94,193.55 L231.07,193.38 L231.20,193.42 L231.33,193.39 L231.46,193.58 L231.59,193.65 L231.72,193.42 L231.85,193.67 L231.99,193.34 L232.12,193.71 L232.25,193.49 L232.38,193.57 L232.51,193.42 L232.64,193.37 L232.77,193.30 L232.90,193.68 L233.03,193.42 L233.17,193.59 L233.30,193.48 L233.43,193.51 L233.56,193.35 L233.69,193.34 L233.82,193.42 L233.95,193.60 L234.08,193.53 L234.22,193.26 L234.35,193.62 L234.48,193.48 L234.61,193.30 L234.74,193.40 L234.87,193.37 L235.00,193.68 L235.13,193.55 L235.26,193.44 L235.40,193.40 L235.53,193.42 L235.66,193.42 L235.79,193.45 L235.92,193.68 L236.05,193.68 L236.18,193.63 L236.31,193.73 L236.44,193.61 L236.58,193.34 L236.71,193.31 L236.84,193.37 L236.97,193.42 L237.10,193.55 L237.23,193.70 L237.36,193.58 L237.49,193.51 L237.62,193.41 L237.76,193.79 L237.89,193.67 L238.02,193.47 L238.15,193.32 L238.28,193.79 L238.41,193.43 L238.54,193.72 L238.67,193.36 L238.80,193.63 L238.94,193.48 L239.07,193.75 L239.20,193.45 L239.33,193.36 L239.46,193.41 L239.59,193.71 L239.72,193.80 L239.85,193.63 L239.98,193.65 L240.12,193.45 L240.25,193.45 L240.38,193.35 L240.51,193.80 L240.64,193.33 L240.77,193.62 L240.90,193.49 L241.03,193.41 L241.17,193.53 L241.30,193.78 L241.43,193.44 L241.56,193.40 L241.69,193.63 L241.82,193.65 L241.95,193.57 L242.08,193.41 L242.21,193.76 L242.35,193.38 L242.48,193.41 L242.61,193.44 L242.74,193.58 L242.87,193.56 L243.00,193.60 L243.13,193.69 L243.26,193.77 L243.39,193.56 L243.53,193.35 L243.66,193.74 L243.79,193.34 L243.92,193.49 L244.05,193.40 L244.18,193.63 L244.31,193.72 L244.44,193.40 L244.57,193.48 L244.71,193.76 L244.84,193.68 L244.97,193.39 L245.10,193.68 L245.23,193.73 L245.36,193.54 L245.49,193.41 L245.62,193.67 L245.75,193.50 L245.89,193.40 L246.02,193.42 L246.15,193.54 L246.28,193.40 L246.41,193.53 L246.54,193.62 L246.67,193.62 L246.80,193.54 L246.93,193.74 L247.07,193.39 L247.20,193.51 L247.33,193.81 L247.46,193.78 L247.59,193.80 L247.72,193.73 L247.85,193.61 L247.98,193.74 L248.12,193.63 L248.25,193.41 L248.38,193.48 L248.51,193.40 L248.64,193.79 L248.77,193.51 L248.90,193.55 L249.03,193.62 L249.16,193.40 L249.30,193.70 L249.43,193.75 L249.56,193.75 L249.69,193.79 L249.82,193.51 L249.95,193.43 L250.08,193.74 L250.21,193.70 L250.34,193.54 L250.48,193.53 L250.61,193.43 L250.74,193.77 L250.87,193.59 L251.00,193.76 L251.13,193.53 L251.26,193.52 L251.39,193.62 L251.52,193.73 L251.66,193.80 L251.79,193.54 L251.92,193.71 L252.05,193.56 L252.18,193.79 L252.31,193.74 L252.44,193.64 L252.57,193.54 L252.70,193.50 L252.84,193.81 L252.97,193.77 L253.10,193.52 L253.23,193.41 L253.36,193.46 L253.49,193.85 L253.62,193.39 L253.75,193.77 L253.88,193.63 L254.02,193.65 L254.15,193.64 L254.28,193.57 L254.41,193.65 L254.54,193.42 L254.67,193.83 L254.80,193.42 L254.93,193.44 L255.06,193.71 L255.20,193.69 L255.33,193.78 L255.46,193.72 L255.59,193.84 L255.72,193.40 L255.85,193.38 L255.98,193.49 L256.11,193.77 L256.25,193.45 L256.38,193.64 L256.51,193.76 L256.64,193.46 L256.77,193.64 L256.90,193.83 L257.03,193.75 L257.16,193.58 L257.29,193.62 L257.43,193.52 L257.56,193.86 L257.69,193.77 L257.82,193.72 L257.95,193.53 L258.08,193.75 L258.21,193.63 L258.34,193.78 L258.47,193.56 L258.61,193.82 L258.74,193.73 L258.87,193.61 L259.00,193.67 L259.13,193.79 L259.26,193.65 L259.39,193.87 L259.52,193.39 L259.65,193.83 L259.79,193.74 L259.92,193.63 L260.05,193.81 L260.18,193.46 L260.31,193.56 L260.44,193.74 L260.57,193.80 L260.70,193.57 L260.83,193.89 L260.97,193.71 L261.10,193.41 L261.23,193.45 L261.36,193.43 L261.49,193.68 L261.62,193.55 L261.75,193.52 L261.88,193.61 L262.01,193.43 L262.15,193.85 L262.28,193.81 L262.41,193.67 L262.54,193.61 L262.67,193.55 L262.80,193.69 L262.93,193.57 L263.06,193.88 L263.20,193.87 L263.33,193.76 L263.46,193.81 L263.59,193.43 L263.72,193.46 L263.85,193.57 L263.98,193.46 L264.11,193.61 L264.24,193.89 L264.38,193.81 L264.51,193.87 L264.64,193.50 L264.77,193.50 L264.90,193.41 L265.03,193.53 L265.16,193.42 L265.29,193.66 L265.42,193.54 L265.56,193.73 L265.69,193.67 L265.82,193.69 L265.95,193.54 L266.08,193.76 L266.21,193.74 L266.34,193.75 L266.47,193.63 L266.60,193.62 L266.74,193.53 L266.87,193.41 L267.00,193.62 L267.13,193.70 L267.26,193.48 L267.39,193.82 L267.52,193.83 L267.65,193.81 L267.78,193.79 L267.92,193.63 L268.05,193.47 L268.18,193.52 L268.31,193.75 L268.44,193.87 L268.57,193.43 L268.70,193.38 L268.83,193.55 L268.96,193.54 L269.10,193.66 L269.23,193.42 L269.36,193.78 L269.49,193.52 L269.62,193.80 L269.75,193.50 L269.88,193.48 L270.01,193.41 L270.15,193.79 L270.28,193.58 L270.41,193.68 L270.54,193.28 L270.67,193.49 L270.80,193.55 L270.93,193.63 L271.06,193.54 L271.19,193.06 L271.33,193.11 L271.46,193.35 L271.59,193.07 L271.72,193.27 L271.85,192.95 L271.98,192.91 L272.11,193.44 L272.24,193.17 L272.37,193.38 L272.51,193.33 L272.64,193.48 L272.77,193.69 L272.90,193.72 L273.03,193.70 L273.16,193.40 L273.29,193.70 L273.42,193.31 L273.55,193.51 L273.69,193.78 L273.82,193.44 L273.95,193.50 L274.08,193.61 L274.21,193.43 L274.34,193.67 L274.47,193.64 L274.60,193.36 L274.73,193.77 L274.87,193.34 L275.00,193.65 L275.13,193.48 L275.26,193.37 L275.39,193.33 L275.52,193.78 L275.65,193.68 L275.78,193.50 L275.91,193.66 L276.05,193.74 L276.18,193.70 L276.31,193.49 L276.44,193.35 L276.57,193.45 L276.70,193.66 L276.83,193.51 L276.96,193.46 L277.10,193.51 L277.23,193.26 L277.36,193.29 L277.49,193.38 L277.62,192.98 L277.75,193.23 L277.88,192.71 L278.01,192.84 L278.14,192.69 L278.28,192.25 L278.41,192.33 L278.54,191.68 L278.67,191.00 L278.80,190.37 L278.93,189.55 L279.06,188.56 L279.19,187.82 L279.32,188.05 L279.46,189.13 L279.59,189.76 L279.72,190.64 L279.85,191.53 L279.98,192.01 L280.11,192.34 L280.24,192.22 L280.37,192.29 L280.50,192.77 L280.64,192.77 L280.77,192.68 L280.90,192.52 L281.03,192.70 L281.16,192.54 L281.29,192.61 L281.42,192.64 L281.55,192.02 L281.68,191.62 L281.82,191.49 L281.95,190.70 L282.08,190.34 L282.21,190.36 L282.34,190.92 L282.47,191.08 L282.60,191.57 L282.73,192.05 L282.86,192.19 L283.00,192.52 M286.60,192.13 L286.73,191.81 L286.87,191.90 L287.00,191.45 L287.13,191.26 L287.26,191.37 L287.39,191.13 L287.52,191.23 L287.65,190.70 L287.78,190.93 L287.91,190.83 L288.04,190.65 L288.18,190.54 L288.31,190.83 L288.44,190.98 L288.57,190.95 L288.70,191.08 L288.83,191.34 L288.96,191.45 L289.09,191.51 L289.22,191.55 L289.35,191.84 L289.49,192.02 L289.62,192.33 L289.75,192.50 L289.88,192.40 L290.01,192.39 L290.14,192.43 L290.27,192.72 L290.40,192.85 L290.53,192.68 L290.66,192.97 L290.80,193.18 L290.93,192.93 L291.06,193.26 L291.19,193.05 L291.32,193.20 L291.45,193.34 L291.58,193.05 L291.71,193.15 L291.84,193.50 L291.97,193.07 L292.11,193.21 L292.24,193.32 L292.37,193.47 L292.50,193.44 L292.63,193.60 L292.76,193.49 L292.89,193.17 L293.02,193.22 L293.15,193.22 L293.28,193.43 L293.42,193.24 L293.55,193.50 L293.68,193.56 L293.81,193.35 L293.94,193.69 L294.07,193.47 L294.20,193.75 L294.33,193.46 L294.46,193.59 L294.59,193.56 L294.73,193.42 L294.86,193.69 L294.99,193.30 L295.12,193.43 L295.25,193.47 L295.38,193.75 L295.51,193.56 L295.64,193.33 L295.77,193.46 L295.90,193.61 L296.03,193.71 L296.17,193.36 L296.30,193.69 L296.43,193.49 L296.56,193.55 L296.69,193.50 L296.82,193.50 L296.95,193.77 L297.08,193.72 L297.21,193.71 L297.34,193.60 L297.48,193.57 L297.61,193.27 L297.74,193.20 L297.87,193.57 L298.00,193.46 L298.13,193.41 L298.26,193.21 L298.39,193.14 L298.52,193.41 L298.65,193.15 L298.79,192.81 L298.92,192.87 L299.05,192.75 L299.18,192.45 L299.31,192.71 L299.44,192.42 L299.57,192.05 L299.70,191.21 L299.83,190.85 L299.96,189.95 L300.10,189.32 L300.23,188.25 L300.36,187.16 L300.49,186.48 L300.62,186.21 L300.75,186.92 L300.88,188.07 L301.01,189.54 L301.14,190.45 L301.27,191.02 L301.41,191.42 L301.54,192.15 L301.67,192.10 L301.80,192.45 L301.93,192.48 L302.06,193.13 L302.19,192.97 L302.32,193.25 L302.45,193.34 L302.58,193.30 L302.72,193.56 L302.85,193.51 L302.98,193.63 L303.11,193.68 L303.24,193.27 L303.37,193.63 L303.50,193.40 L303.63,193.47 L303.76,193.50 L303.89,193.84 L304.02,193.39 L304.16,193.59 L304.29,193.45 L304.42,193.90 L304.55,193.66 L304.68,193.77 L304.81,193.69 L304.94,193.82 L305.07,193.61 L305.20,193.66 L305.33,193.83 L305.47,193.81 L305.60,193.91 L305.73,193.63 L305.86,193.90 L305.99,193.85 L306.12,193.77 L306.25,193.70 L306.38,193.78 L306.51,193.54 L306.64,193.55 L306.78,193.66 L306.91,193.57 L307.04,193.54 L307.17,193.87 L307.30,193.88 L307.43,193.83 L307.56,193.63 L307.69,193.89 L307.82,193.94 L307.95,193.84 L308.09,193.65 L308.22,193.82 L308.35,193.74 L308.48,193.67 L308.61,193.62 L308.74,193.98 L308.87,193.86 L309.00,194.01 L309.13,193.64 L309.26,193.68 L309.40,193.81 L309.53,193.58 L309.66,193.71 L309.79,193.83 L309.92,193.80 L310.05,194.02 L310.18,193.85 L310.31,193.88 L310.44,193.86 L310.57,193.96 L310.71,193.75 L310.84,193.57 L310.97,194.06 L311.10,193.97 L311.23,193.64 L311.36,193.63 L311.49,193.69 L311.62,193.90 L311.75,193.64 L311.88,193.59 L312.02,193.83 L312.15,193.58 L312.28,193.71 L312.41,193.77 L312.54,193.69 L312.67,193.59 L312.80,193.72 L312.93,193.71 L313.06,193.75 L313.19,193.80 L313.32,193.77 L313.46,193.75 L313.59,193.60 L313.72,194.01 L313.85,193.96 L313.98,193.84 L314.11,193.60 L314.24,193.71 L314.37,194.05 L314.50,193.83 L314.63,193.70 L314.77,194.01 L314.90,194.05 L315.03,193.66 L315.16,193.85 L315.29,193.88 L315.42,193.66 L315.55,193.76 L315.68,193.91 L315.81,193.94 L315.94,193.92 L316.08,193.92 L316.21,193.80 L316.34,193.64 L316.47,193.62 L316.60,194.03 L316.73,194.04 L316.86,194.06 L316.99,193.65 L317.12,194.00 L317.25,193.70 L317.39,193.79 L317.52,193.72 L317.65,194.05 L317.78,194.03 L317.91,194.03 L318.04,193.81 L318.17,194.09 L318.30,193.75 L318.43,193.91 L318.56,193.96 L318.70,193.74 L318.83,193.81 L318.96,193.67 L319.09,194.02 L319.22,193.72 L319.35,193.69 L319.48,193.77 L319.61,193.95 L319.74,193.95 L319.87,193.89 L320.01,194.06 L320.14,194.01 L320.27,193.74 L320.40,193.90 L320.53,193.72 L320.66,193.75 L320.79,193.71 L320.92,193.67 L321.05,193.81 L321.18,194.08 L321.31,193.96 L321.45,193.68 L321.58,193.75 L321.71,193.93 L321.84,193.90 L321.97,193.65 L322.10,193.69 L322.23,193.92 L322.36,193.94 L322.49,193.68 L322.62,194.03 L322.76,193.76 L322.89,193.94 L323.02,193.91 L323.15,193.82 L323.28,194.12 L323.41,193.84 L323.54,193.86 L323.67,193.92 L323.80,194.07 L323.93,194.14 L324.07,194.03 L324.20,193.92 L324.33,194.01 L324.46,193.97 L324.59,194.13 L324.72,194.14 L324.85,194.03 L324.98,193.76 L325.11,193.94 L325.24,193.87 L325.38,193.77 L325.51,194.05 L325.64,193.77 L325.77,194.01 L325.90,193.90 L326.03,193.87 L326.16,194.01 L326.29,194.02 L326.42,194.16 L326.55,194.16 L326.69,194.06 L326.82,193.79 L326.95,194.00 L327.08,193.91 L327.21,194.13 L327.34,193.89 L327.47,193.84 L327.60,193.68 L327.73,193.90 L327.86,193.93 L328.00,193.82 L328.13,193.72 L328.26,193.91 L328.39,193.70 L328.52,193.76 L328.65,193.89 L328.78,193.85 L328.91,193.92 L329.04,193.94 L329.17,193.87 L329.31,193.74 L329.44,193.68 L329.57,193.95 L329.70,194.16 L329.83,193.82 L329.96,193.85 L330.09,193.84 L330.22,194.05 L330.35,193.92 L330.48,194.08 L330.61,193.68 L330.75,193.75 L330.88,193.78 L331.01,193.87 L331.14,193.88 L331.27,193.87 L331.40,194.17 L331.53,193.90 L331.66,193.97 L331.79,194.17 L331.92,194.01 L332.06,193.98 L332.19,194.10 L332.32,193.85 L332.45,193.71 L332.58,194.17 L332.71,193.96 L332.84,193.98 L332.97,193.72 L333.10,194.06 L333.23,193.88 L333.37,194.01 L333.50,193.83 L333.63,194.15 L333.76,193.88 L333.89,193.83 L334.02,194.14 L334.15,193.81 L334.28,193.83 L334.41,193.94 L334.54,194.19 L334.68,193.75 L334.81,193.80 L334.94,194.10 L335.07,193.74 L335.20,193.91 L335.33,194.09 L335.46,194.06 L335.59,194.10 L335.72,193.76 L335.85,194.15 L335.99,193.88 L336.12,194.11 L336.25,193.94 L336.38,194.15 L336.51,193.94 L336.64,193.83 L336.77,193.78 L336.90,193.95 L337.03,193.73 L337.16,193.79 L337.30,194.15 L337.43,194.00 L337.56,194.14 L337.69,193.78 L337.82,193.95 L337.95,193.94 L338.08,193.76 L338.21,193.84 L338.34,194.17 L338.47,194.07 L338.60,193.97 L338.74,194.02 L338.87,194.14 L339.00,194.19 L339.13,194.01 L339.26,193.74 L339.39,194.15 L339.52,193.80 L339.65,193.84 L339.78,193.79 L339.91,193.97 L340.05,194.01 L340.18,193.95 L340.31,193.96 L340.44,193.79 L340.57,194.08 L340.70,193.99 L340.83,193.88 L340.96,194.14 L341.09,194.19 L341.22,194.19 L341.36,194.22 L341.49,193.76 L341.62,193.92 L341.75,193.95 L341.88,193.86 L342.01,194.10 L342.14,194.18 L342.27,193.80 L342.40,193.98 L342.53,194.21 L342.67,194.17 L342.80,193.96 L342.93,193.78 L343.06,193.96 L343.19,193.99 L343.32,194.13 L343.45,193.83 L343.58,193.87 L343.71,194.23 L343.84,193.74 L343.98,194.04 L344.11,193.78 L344.24,194.11 L344.37,193.95 L344.50,194.20 L344.63,193.85 L344.76,194.18 L344.89,193.85 L345.02,193.76 L345.15,193.78 L345.29,193.78 L345.42,193.94 L345.55,194.23 L345.68,193.92 L345.81,194.10 L345.94,193.76 L346.07,194.00 L346.20,194.01 L346.33,193.79 L346.46,194.04 " fill="none" stroke="#7a7a7a" stroke-width="1.1" stroke-linejoin="round"/>
<text x="312.2" y="64.8" font-size="14" text-anchor="start" fill="#111" textLength="32.0" lengthAdjust="spacingAndGlyphs" >4 μm</text>
<text x="312.2" y="99.0" font-size="14" text-anchor="start" fill="#111" textLength="32.0" lengthAdjust="spacingAndGlyphs" >3 μm</text>
<text x="312.2" y="128.7" font-size="14" text-anchor="start" fill="#111" textLength="32.0" lengthAdjust="spacingAndGlyphs" >2 μm</text>
<text x="313.2" y="158.8" font-size="14" text-anchor="start" fill="#111" textLength="31.0" lengthAdjust="spacingAndGlyphs" >1 μm</text>
<text x="303.0" y="188.0" font-size="14" text-anchor="start" fill="#111" textLength="43.5" lengthAdjust="spacingAndGlyphs" >0.5 μm</text>
<text x="373.4" y="23.5" font-size="13.2" text-anchor="start" fill="#000" font-weight="bold" >b</text>
<text x="432.8" y="10.4" font-size="13.8" text-anchor="start" fill="#ff1a1a" textLength="72.8" lengthAdjust="spacingAndGlyphs" >Buffer layer</text>
<path d="M513.3,13.5 V2.2 M510.8,5 L513.3,1.8 L515.8,5" stroke="#ff1a1a" stroke-width="1.2" fill="none" stroke-linejoin="round"/>
<text x="557.3" y="10.1" font-size="13.8" text-anchor="start" fill="#111" textLength="96.2" lengthAdjust="spacingAndGlyphs" >PZT Thickness</text>
<path d="M660.7,13.7 V2.2 M658.1,5.1 L660.7,1.7 L663.3,5.1" stroke="#111" stroke-width="1.2" fill="none" stroke-linejoin="round"/>
<rect x="419.3" y="17.5" width="232.7" height="188.8" fill="#fcfbf9"/>
<path d="M421.63,189.27 L424.89,187.76 L428.13,186.21 L431.36,184.60 L434.59,182.94 L437.79,181.23 L440.99,179.47 L444.18,177.66 L447.35,175.80 L450.51,173.88 L453.66,171.92 L456.80,169.90 L459.92,167.84 L463.03,165.72 L466.13,163.55 L469.22,161.33 L472.30,159.06 L475.36,156.74 L478.41,154.37 L481.45,151.95 L484.47,149.47 L487.49,146.95 L490.49,144.37 L493.48,141.75 L496.45,139.07 L499.41,136.34 L502.36,133.56 L505.30,130.73 L508.22,127.85 L511.14,124.92 L514.03,121.93 L510.97,119.07 L508.18,122.10 L505.39,125.08 L502.58,128.02 L499.76,130.91 L496.92,133.74 L494.07,136.53 L491.20,139.27 L488.33,141.96 L485.43,144.60 L482.53,147.19 L479.60,149.74 L476.67,152.23 L473.72,154.67 L470.76,157.07 L467.78,159.42 L464.79,161.71 L461.78,163.96 L458.76,166.16 L455.72,168.31 L452.67,170.41 L449.61,172.47 L446.53,174.47 L443.44,176.42 L440.33,178.33 L437.21,180.19 L434.07,181.99 L430.92,183.75 L427.75,185.46 L424.57,187.12 L421.37,188.73 Z" fill="#ffc6c6"/>
<path d="M523.7,107.4 L501,123.6 L510.5,120.5 L512.8,130.3 Z" fill="#ffc6c6"/>
<path d="M523.7,107.4 L505,121.5 L513,126.5 Z" fill="#ffc6c6"/>
<path d="M538.63,115.71 L542.08,113.66 L545.51,111.61 L548.91,109.55 L552.29,107.48 L555.64,105.41 L558.96,103.34 L562.25,101.26 L565.52,99.18 L568.77,97.09 L571.99,95.00 L575.18,92.90 L578.34,90.79 L581.48,88.69 L584.60,86.57 L587.68,84.46 L590.74,82.33 L593.78,80.21 L596.79,78.07 L599.77,75.94 L602.73,73.80 L605.66,71.65 L608.56,69.50 L611.44,67.34 L614.29,65.18 L617.12,63.01 L619.92,60.84 L622.69,58.66 L625.44,56.48 L628.16,54.29 L630.86,52.10 L628.14,48.90 L625.54,51.17 L622.92,53.44 L620.27,55.70 L617.59,57.96 L614.88,60.21 L612.15,62.46 L609.39,64.71 L606.60,66.95 L603.78,69.19 L600.94,71.43 L598.07,73.66 L595.17,75.89 L592.25,78.11 L589.30,80.33 L586.32,82.54 L583.31,84.76 L580.28,86.96 L577.22,89.17 L574.13,91.37 L571.01,93.56 L567.87,95.75 L564.70,97.94 L561.51,100.12 L558.28,102.30 L555.03,104.47 L551.75,106.65 L548.45,108.81 L545.12,110.97 L541.76,113.13 L538.37,115.29 Z" fill="#d2d2d2"/>
<path d="M640.3,40.2 L620.9,52 L628.5,50.5 L632.3,56.2 Z" fill="#d2d2d2"/>
<path d="M640.3,40.2 L624,51.5 L630.5,54.5 Z" fill="#d2d2d2"/>
<line x1="419.3" y1="16.9" x2="419.3" y2="206.9" stroke="#222" stroke-width="1.3"/>
<line x1="418.7" y1="206.3" x2="531.8" y2="206.3" stroke="#222" stroke-width="1.3"/>
<line x1="539.8" y1="206.3" x2="652.6" y2="206.3" stroke="#222" stroke-width="1.3"/>
<line x1="418.7" y1="17.5" x2="530.3" y2="17.5" stroke="#222" stroke-width="1.3"/>
<line x1="541.3" y1="17.5" x2="652.6" y2="17.5" stroke="#222" stroke-width="1.3"/>
<line x1="652" y1="17.5" x2="652" y2="206.9" stroke="#777" stroke-width="1.3"/>
<line x1="530.7" y1="210.7" x2="537.3" y2="200.8" stroke="#222" stroke-width="1.2"/>
<line x1="535.4" y1="211.6" x2="542" y2="201.6" stroke="#222" stroke-width="1.2"/>
<line x1="530.3" y1="22.2" x2="536.8" y2="12.8" stroke="#222" stroke-width="1.2"/>
<line x1="534.9" y1="23.4" x2="541.5" y2="14" stroke="#222" stroke-width="1.2"/>
<text x="416.6" y="211.0" font-size="13.1" text-anchor="end" fill="#111" >0</text>
<line x1="416.6" y1="174.85" x2="422.0" y2="174.85" stroke="#222" stroke-width="1.2"/>
<text x="416.6" y="179.6" font-size="13.1" text-anchor="end" fill="#111" >100</text>
<line x1="416.6" y1="143.40" x2="422.0" y2="143.40" stroke="#222" stroke-width="1.2"/>
<text x="416.6" y="148.1" font-size="13.1" text-anchor="end" fill="#111" >200</text>
<line x1="416.6" y1="111.95" x2="422.0" y2="111.95" stroke="#222" stroke-width="1.2"/>
<text x="416.6" y="116.7" font-size="13.1" text-anchor="end" fill="#111" >300</text>
<line x1="416.6" y1="80.50" x2="422.0" y2="80.50" stroke="#222" stroke-width="1.2"/>
<text x="416.6" y="85.2" font-size="13.1" text-anchor="end" fill="#111" >400</text>
<line x1="416.6" y1="49.05" x2="422.0" y2="49.05" stroke="#222" stroke-width="1.2"/>
<text x="416.6" y="53.8" font-size="13.1" text-anchor="end" fill="#111" >500</text>
<text x="416.6" y="22.3" font-size="13.1" text-anchor="end" fill="#111" >600</text>
<line x1="443.8" y1="206.3" x2="443.8" y2="202.8" stroke="#222" stroke-width="1.2"/>
<text x="443.8" y="221.7" font-size="13.1" text-anchor="middle" fill="#111" >60</text>
<line x1="493.7" y1="206.3" x2="493.7" y2="202.8" stroke="#222" stroke-width="1.2"/>
<text x="493.7" y="221.7" font-size="13.1" text-anchor="middle" fill="#111" >80</text>
<line x1="586.0" y1="206.3" x2="586.0" y2="202.8" stroke="#222" stroke-width="1.2"/>
<text x="586.0" y="221.7" font-size="13.1" text-anchor="middle" fill="#111" >90</text>
<text x="652.0" y="221.7" font-size="13.1" text-anchor="middle" fill="#111" >100</text>
<text x="486.1" y="236.0" font-size="13.8" text-anchor="start" fill="#111" textLength="107.0" lengthAdjust="spacingAndGlyphs" >[001] Texture (%)</text>
<text font-size="13.3" fill="#111" transform="translate(386.4 144.6) rotate(-90)"><tspan font-style="italic">d</tspan><tspan font-size="9.3" dy="2.8">33,d</tspan><tspan dy="-2.8"> (pC/N)</tspan></text>
<path d="M518.7,160.4 V171.2 M515.5,160.4 H521.9000000000001 M515.5,171.2 H521.9000000000001" stroke="#ff1010" stroke-width="1.1" fill="none"/>
<path d="M526.0,87.6 V105.1 M522.8,87.6 H529.2 M522.8,105.1 H529.2" stroke="#ff1010" stroke-width="1.1" fill="none"/>
<rect x="422.70" y="183.80" width="7.4" height="7.4" fill="#ff1010"/>
<rect x="515.20" y="162.20" width="7.0" height="7.0" fill="#ff1010"/>
<rect x="522.50" y="93.20" width="7.0" height="7.0" fill="#ff1010"/>
<path d="M558.7,98.5 V119.1 M555.5,98.5 H561.9000000000001 M555.5,119.1 H561.9000000000001" stroke="#111" stroke-width="1.1" fill="none"/>
<circle cx="558.7" cy="109.0" r="3.3" fill="#0a0a0a"/>
<path d="M605.7,87.6 V105.1 M602.5,87.6 H608.9000000000001 M602.5,105.1 H608.9000000000001" stroke="#111" stroke-width="1.1" fill="none"/>
<circle cx="605.7" cy="96.4" r="3.3" fill="#0a0a0a"/>
<path d="M641.6,51.3 V77.8 M638.4,51.3 H644.8000000000001 M638.4,77.8 H644.8000000000001" stroke="#111" stroke-width="1.1" fill="none"/>
<circle cx="641.6" cy="64.5" r="3.3" fill="#0a0a0a"/>
<path d="M650.8,57.8 V77.8 M647.5999999999999,57.8 H654.0 M647.5999999999999,77.8 H654.0" stroke="#111" stroke-width="1.1" fill="none"/>
<circle cx="650.8" cy="68.2" r="3.3" fill="#0a0a0a"/>
<path d="M644.8,25.3 V40.9 M641.5999999999999,25.3 H648.0 M641.5999999999999,40.9 H648.0" stroke="#111" stroke-width="1.1" fill="none"/>
<circle cx="644.8" cy="33.2" r="3.3" fill="#0a0a0a"/>
<text x="436.8" y="200.2" font-size="11.8" text-anchor="start" fill="#ff1010" textLength="16.0" lengthAdjust="spacingAndGlyphs" >0 L</text>
<text x="508.9" y="158.5" font-size="11.8" text-anchor="start" fill="#ff1010" textLength="15.0" lengthAdjust="spacingAndGlyphs" >1 L</text>
<text x="518.5" y="84.5" font-size="11.8" text-anchor="start" fill="#ff1010" textLength="17.0" lengthAdjust="spacingAndGlyphs" >3 L</text>
<text x="547.7" y="137.1" font-size="13.1" text-anchor="start" fill="#111" textLength="37.4" lengthAdjust="spacingAndGlyphs" >0.5 μm</text>
<text x="596.1" y="119.6" font-size="13.1" text-anchor="start" fill="#111" textLength="26.4" lengthAdjust="spacingAndGlyphs" >1 μm</text>
<text x="608.6" y="72.3" font-size="13.1" text-anchor="start" fill="#111" textLength="26.5" lengthAdjust="spacingAndGlyphs" >3 μm</text>
<text x="656.0" y="75.9" font-size="13.1" text-anchor="start" fill="#111" textLength="27.5" lengthAdjust="spacingAndGlyphs" >2 μm</text>
<text x="654.4" y="39.7" font-size="13.1" text-anchor="start" fill="#111" textLength="27.5" lengthAdjust="spacingAndGlyphs" >4 μm</text>
<text x="15.6" y="280.6" font-size="13.6" text-anchor="start" fill="#000" font-weight="bold" >c</text>
<text x="92.0" y="274.0" font-size="13.6" text-anchor="start" fill="#111" textLength="64.6" lengthAdjust="spacingAndGlyphs" >1 μm-thick</text>
<text x="305.8" y="274.0" font-size="13.6" text-anchor="start" fill="#111" textLength="65.2" lengthAdjust="spacingAndGlyphs" >2 μm-thick</text>
<text x="212.6" y="274.5" font-size="14" text-anchor="start" fill="#111" textLength="31.4" lengthAdjust="spacingAndGlyphs" >[100]</text>
<text x="429.7" y="274.5" font-size="14" text-anchor="start" fill="#111" textLength="30.3" lengthAdjust="spacingAndGlyphs" >[100]</text>
<text x="215.8" y="471.7" font-size="14" text-anchor="start" fill="#111" textLength="30.8" lengthAdjust="spacingAndGlyphs" >[110]</text>
<text x="431.8" y="471.7" font-size="14" text-anchor="start" fill="#111" textLength="30.3" lengthAdjust="spacingAndGlyphs" >[110]</text>
<text x="-0.5" y="415.0" font-size="14" text-anchor="start" fill="#111" textLength="30.9" lengthAdjust="spacingAndGlyphs" >[001]</text>
<path d="M20.6,450.8 V424" stroke="#000" stroke-width="2.6"/>
<path d="M20.6,416.6 L15.8,428 L25.4,428 Z" fill="#000"/>
<defs>
<linearGradient id="cb1" x1="0" y1="0" x2="0" y2="1">
<stop offset="0" stop-color="#f3c1a4"/><stop offset="0.25" stop-color="#f6d8c8"/><stop offset="0.5" stop-color="#f4f1f0"/><stop offset="0.62" stop-color="#dfe5ee"/><stop offset="0.78" stop-color="#9db4d8"/><stop offset="1" stop-color="#1b4aa4"/>
</linearGradient>
<linearGradient id="cb2" x1="0" y1="0" x2="0" y2="1">
<stop offset="0" stop-color="#c55a1a"/><stop offset="0.3" stop-color="#e2a884"/><stop offset="0.55" stop-color="#efebe9"/><stop offset="0.62" stop-color="#eef1f4"/><stop offset="0.8" stop-color="#a8c4e2"/><stop offset="1" stop-color="#2e70bb"/>
</linearGradient>
<filter id="tex" x="0" y="0" width="100%" height="100%" color-interpolation-filters="sRGB">
<feTurbulence type="fractalNoise" baseFrequency="0.13 0.06" numOctaves="4" seed="3" result="n"/>
<feColorMatrix in="n" type="matrix" values="1 0 0 0 0  1 0 0 0 0  1 0 0 0 0  0 0 0 0 1" result="g"/>
<feComponentTransfer in="g">
<feFuncR type="table" tableValues="0.16 0.18 0.21 0.26 0.33 0.43 0.57 0.76 0.89 0.94"/>
<feFuncG type="table" tableValues="0.46 0.51 0.57 0.63 0.70 0.77 0.85 0.92 0.96 0.97"/>
<feFuncB type="table" tableValues="0.80 0.82 0.85 0.88 0.91 0.93 0.96 0.98 0.99 0.99"/>
</feComponentTransfer>
</filter>
<filter id="blobs" x="0" y="0" width="100%" height="100%">
<feTurbulence type="fractalNoise" baseFrequency="0.06 0.03" numOctaves="3" seed="17"/>
<feColorMatrix type="matrix" values="0 0 0 0 0.78  0 0 0 0 0.91  0 0 0 0 0.98  5 0 0 0 -2.75"/>
</filter>
<filter id="grain" x="0" y="0" width="100%" height="100%">
<feTurbulence type="fractalNoise" baseFrequency="0.8" numOctaves="1" seed="5"/>
<feColorMatrix type="matrix" values="0 0 0 0 1  0 0 0 0 1  0 0 0 0 1  2.2 0 0 0 -0.95"/>
</filter>
<filter id="grain2" x="0" y="0" width="100%" height="100%">
<feTurbulence type="fractalNoise" baseFrequency="0.6" numOctaves="1" seed="9"/>
<feColorMatrix type="matrix" values="0 0 0 0 1  0 0 0 0 1  0 0 0 0 1  1.6 0 0 0 -0.75"/>
</filter>
<filter id="speckW" x="0" y="0" width="100%" height="100%">
<feTurbulence type="fractalNoise" baseFrequency="0.22 0.15" numOctaves="3" seed="21"/>
<feColorMatrix type="matrix" values="0 0 0 0 1  0 0 0 0 1  0 0 0 0 1  2.5 0 0 0 -1.15"/>
</filter>
<filter id="speckD" x="0" y="0" width="100%" height="100%">
<feTurbulence type="fractalNoise" baseFrequency="0.2 0.12" numOctaves="3" seed="33"/>
<feColorMatrix type="matrix" values="0 0 0 0 0.5  0 0 0 0 0.3  0 0 0 0 0.3  -2.5 0 0 0 1.35"/>
</filter>
<clipPath id="clL"><rect x="31" y="279" width="185" height="173.5"/></clipPath>
<linearGradient id="redG" gradientUnits="userSpaceOnUse" x1="267" y1="0" x2="292" y2="0"><stop offset="0" stop-color="#f2cabd"/><stop offset="0.35" stop-color="#eeae9c"/><stop offset="0.7" stop-color="#e2806e"/><stop offset="0.88" stop-color="#e48a78"/><stop offset="1" stop-color="#f0c4b6"/></linearGradient>
<linearGradient id="navyG" gradientUnits="userSpaceOnUse" x1="0" y1="346" x2="0" y2="366"><stop offset="0" stop-color="#0b3b7a" stop-opacity="0"/><stop offset="0.45" stop-color="#124a8c" stop-opacity="0.8"/><stop offset="1" stop-color="#0b3b7a"/></linearGradient>
<clipPath id="clR"><rect x="245.5" y="279" width="185.5" height="173.5"/></clipPath>
</defs>
<rect x="219.2" y="279.6" width="9.9" height="172.1" fill="url(#cb1)"/>
<rect x="434.7" y="279.6" width="10.1" height="172.2" fill="url(#cb2)"/>
<g clip-path="url(#clL)">
<rect x="31" y="279" width="185" height="173.5" fill="#62ade3" filter="url(#tex)"/>
<rect x="31" y="279" width="185" height="173.5" filter="url(#blobs)" opacity="0.75"/>
<g filter="url(#b1)">
<path d="M108.00,274.00 C110.83,270.50 122.33,271.33 125.00,274.00 C127.67,276.67 124.50,283.17 124.00,290.00 C123.50,296.83 122.42,307.50 122.00,315.00 C121.58,322.50 122.17,329.17 121.50,335.00 C120.83,340.83 118.83,345.50 118.00,350.00 C117.17,354.50 117.00,355.33 116.50,362.00 C116.00,368.67 114.92,381.17 115.00,390.00 C115.08,398.83 115.50,408.00 117.00,415.00 C118.50,422.00 122.33,425.17 124.00,432.00 C125.67,438.83 131.50,452.00 127.00,456.00 C122.50,460.00 101.83,460.33 97.00,456.00 C92.17,451.67 97.00,437.67 98.00,430.00 C99.00,422.33 102.00,416.67 103.00,410.00 C104.00,403.33 103.58,398.00 104.00,390.00 C104.42,382.00 105.42,368.67 105.50,362.00 C105.58,355.33 104.83,354.50 104.50,350.00 C104.17,345.50 103.25,340.83 103.50,335.00 C103.75,329.17 105.25,321.67 106.00,315.00 C106.75,308.33 107.67,301.83 108.00,295.00 C108.33,288.17 105.17,277.50 108.00,274.00 Z" fill="#1e69c0" />
<path d="M53.50,274.00 C55.75,271.33 65.58,270.33 68.00,274.00 C70.42,277.67 68.17,286.17 68.00,296.00 C67.83,305.83 67.08,321.33 67.00,333.00 C66.92,344.67 67.67,355.67 67.50,366.00 C67.33,376.33 66.75,387.67 66.00,395.00 C65.25,402.33 63.00,405.00 63.00,410.00 C63.00,415.00 64.83,420.33 66.00,425.00 C67.17,429.67 69.00,432.83 70.00,438.00 C71.00,443.17 77.33,453.00 72.00,456.00 C66.67,459.00 43.33,458.67 38.00,456.00 C32.67,453.33 38.33,444.33 40.00,440.00 C41.67,435.67 45.83,433.67 48.00,430.00 C50.17,426.33 51.67,423.00 53.00,418.00 C54.33,413.00 55.00,406.33 56.00,400.00 C57.00,393.67 58.50,385.67 59.00,380.00 C59.50,374.33 59.00,373.83 59.00,366.00 C59.00,358.17 59.33,343.17 59.00,333.00 C58.67,322.83 57.75,312.17 57.00,305.00 C56.25,297.83 55.08,295.17 54.50,290.00 C53.92,284.83 51.25,276.67 53.50,274.00 Z" fill="#1d66bd" />
<path d="M62.00,406.00 C63.50,402.00 72.67,405.33 75.00,410.00 C77.33,414.67 77.50,430.00 76.00,434.00 C74.50,438.00 68.33,438.67 66.00,434.00 C63.67,429.33 60.50,410.00 62.00,406.00 Z" fill="#3a88d2" opacity="0.7"/>
<path d="M207.00,300.00 C207.67,291.00 208.00,289.33 210.00,286.00 C212.00,282.67 217.50,251.67 219.00,280.00 C220.50,308.33 221.17,426.67 219.00,456.00 C216.83,485.33 208.00,462.00 206.00,456.00 C204.00,450.00 206.67,432.67 207.00,420.00 C207.33,407.33 208.17,393.33 208.00,380.00 C207.83,366.67 206.17,353.33 206.00,340.00 C205.83,326.67 206.33,309.00 207.00,300.00 Z" fill="#2c78c8" />
<path d="M210.00,282.00 C211.17,275.67 217.50,273.67 219.00,280.00 C220.50,286.33 220.17,313.67 219.00,320.00 C217.83,326.33 213.50,324.33 212.00,318.00 C210.50,311.67 208.83,288.33 210.00,282.00 Z" fill="#1d66bd" />
<path d="M181.00,285.00 C182.33,280.00 186.00,277.83 187.00,282.00 C188.00,286.17 187.00,302.00 187.00,310.00 C187.00,318.00 187.33,324.00 187.00,330.00 C186.67,336.00 186.00,342.67 185.00,346.00 C184.00,349.33 182.67,351.00 181.00,350.00 C179.33,349.00 176.17,344.67 175.00,340.00 C173.83,335.33 173.33,326.67 174.00,322.00 C174.67,317.33 177.83,318.17 179.00,312.00 C180.17,305.83 179.67,290.00 181.00,285.00 Z" fill="#1d66bd" />
<path d="M177.00,367.00 C178.83,365.00 184.33,363.83 186.00,366.00 C187.67,368.17 187.50,375.00 187.00,380.00 C186.50,385.00 184.50,394.00 183.00,396.00 C181.50,398.00 179.33,395.00 178.00,392.00 C176.67,389.00 175.17,382.17 175.00,378.00 C174.83,373.83 175.17,369.00 177.00,367.00 Z" fill="#1d66bd" />
<path d="M145.00,398.00 C146.00,392.67 149.08,392.67 151.00,393.00 C152.92,393.33 155.50,394.67 156.50,400.00 C157.50,405.33 157.08,418.33 157.00,425.00 C156.92,431.67 157.17,437.17 156.00,440.00 C154.83,442.83 151.83,444.50 150.00,442.00 C148.17,439.50 145.83,432.33 145.00,425.00 C144.17,417.67 144.00,403.33 145.00,398.00 Z" fill="#1d66bd" />
<path d="M146.00,380.00 C147.00,377.33 151.00,377.33 152.00,380.00 C153.00,382.67 153.00,393.33 152.00,396.00 C151.00,398.67 147.00,398.67 146.00,396.00 C145.00,393.33 145.00,382.67 146.00,380.00 Z" fill="#3a88d2" opacity="0.7"/>
<path d="M149.00,438.00 C150.33,435.50 155.67,435.50 157.00,438.00 C158.33,440.50 158.33,450.50 157.00,453.00 C155.67,455.50 150.33,455.50 149.00,453.00 C147.67,450.50 147.67,440.50 149.00,438.00 Z" fill="#3a88d2" opacity="0.7"/>
<path d="M135.00,398.00 C136.50,393.00 142.50,393.00 144.00,398.00 C145.50,403.00 145.50,423.00 144.00,428.00 C142.50,433.00 136.50,433.00 135.00,428.00 C133.50,423.00 133.50,403.00 135.00,398.00 Z" fill="#e0f0fa" opacity="0.5"/>
<path d="M157.00,400.00 C158.17,393.33 162.83,393.33 164.00,400.00 C165.17,406.67 165.17,433.33 164.00,440.00 C162.83,446.67 158.17,446.67 157.00,440.00 C155.83,433.33 155.83,406.67 157.00,400.00 Z" fill="#e0f0fa" opacity="0.4"/>
<path d="M141.00,348.00 C142.17,346.00 146.67,347.67 148.00,350.00 C149.33,352.33 149.33,358.50 149.00,362.00 C148.67,365.50 147.33,371.00 146.00,371.00 C144.67,371.00 141.83,365.83 141.00,362.00 C140.17,358.17 139.83,350.00 141.00,348.00 Z" fill="#1d66bd" />
<path d="M126.00,399.00 C127.00,396.17 130.83,397.17 132.00,399.00 C133.17,400.83 133.17,406.50 133.00,410.00 C132.83,413.50 132.17,419.00 131.00,420.00 C129.83,421.00 126.83,419.50 126.00,416.00 C125.17,412.50 125.00,401.83 126.00,399.00 Z" fill="#1d66bd" />
<path d="M74.00,314.00 C75.17,311.67 79.67,310.67 81.00,312.00 C82.33,313.33 82.50,319.00 82.00,322.00 C81.50,325.00 79.33,329.33 78.00,330.00 C76.67,330.67 74.67,328.67 74.00,326.00 C73.33,323.33 72.83,316.33 74.00,314.00 Z" fill="#1d66bd" />
<path d="M121.00,418.00 C122.33,412.33 127.50,414.00 129.00,420.00 C130.50,426.00 131.33,448.33 130.00,454.00 C128.67,459.67 122.50,460.00 121.00,454.00 C119.50,448.00 119.67,423.67 121.00,418.00 Z" fill="#1d66bd" />
<path d="M142.00,299.00 C144.50,291.67 153.00,295.83 158.00,296.00 C163.00,296.17 169.33,291.83 172.00,300.00 C174.67,308.17 176.00,337.17 174.00,345.00 C172.00,352.83 165.17,347.83 160.00,347.00 C154.83,346.17 146.00,348.00 143.00,340.00 C140.00,332.00 139.50,306.33 142.00,299.00 Z" fill="#eaf5fc" opacity="0.45"/>
<path d="M84.00,282.00 C86.33,276.00 97.17,276.00 100.00,282.00 C102.83,288.00 103.33,312.00 101.00,318.00 C98.67,324.00 88.83,324.00 86.00,318.00 C83.17,312.00 81.67,288.00 84.00,282.00 Z" fill="#eaf5fc" opacity="0.4"/>
<path d="M29.00,302.00 C30.33,298.67 35.67,298.67 37.00,302.00 C38.33,305.33 38.33,318.67 37.00,322.00 C35.67,325.33 30.33,325.33 29.00,322.00 C27.67,318.67 27.67,305.33 29.00,302.00 Z" fill="#3a88d2" opacity="0.7"/>
<path d="M109.00,428.00 C110.00,424.33 113.83,424.33 115.00,428.00 C116.17,431.67 117.00,446.33 116.00,450.00 C115.00,453.67 110.17,453.67 109.00,450.00 C107.83,446.33 108.00,431.67 109.00,428.00 Z" fill="#3a88d2" opacity="0.8"/>
<path d="M30.00,352.00 C31.67,340.83 38.17,340.83 40.00,352.00 C41.83,363.17 42.67,407.83 41.00,419.00 C39.33,430.17 31.83,430.17 30.00,419.00 C28.17,407.83 28.33,363.17 30.00,352.00 Z" fill="#3a88d2" opacity="0.55"/>
<path d="M84.00,402.00 C86.17,393.00 94.67,391.33 97.00,400.00 C99.33,408.67 100.17,445.00 98.00,454.00 C95.83,463.00 86.33,462.67 84.00,454.00 C81.67,445.33 81.83,411.00 84.00,402.00 Z" fill="#3a88d2" opacity="0.55"/>
<path d="M125.00,279.00 C127.50,275.83 137.50,275.83 140.00,279.00 C142.50,282.17 142.50,294.83 140.00,298.00 C137.50,301.17 127.50,301.17 125.00,298.00 C122.50,294.83 122.50,282.17 125.00,279.00 Z" fill="#3a88d2" opacity="0.55"/>
<path d="M164.00,315.00 C165.83,309.17 173.17,309.17 175.00,315.00 C176.83,320.83 176.83,344.17 175.00,350.00 C173.17,355.83 165.83,355.83 164.00,350.00 C162.17,344.17 162.17,320.83 164.00,315.00 Z" fill="#3a88d2" opacity="0.5"/>
<path d="M90.00,279.00 C91.67,275.50 98.33,275.50 100.00,279.00 C101.67,282.50 101.67,296.50 100.00,300.00 C98.33,303.50 91.67,303.50 90.00,300.00 C88.33,296.50 88.33,282.50 90.00,279.00 Z" fill="#3a88d2" opacity="0.35"/>
<path d="M79.60,320.40 C80.48,321.52 81.50,326.00 82.00,329.00 C82.50,332.00 82.85,335.27 82.60,338.40 C82.35,341.53 81.30,344.65 80.50,347.80 C79.70,350.95 78.68,354.15 77.80,357.30 C76.92,360.45 75.93,363.55 75.20,366.70 C74.47,369.85 74.00,373.05 73.40,376.20 C72.80,379.35 72.03,383.08 71.60,385.60 C71.17,388.12 71.17,390.03 70.80,391.30 C70.43,392.57 69.90,394.15 69.40,393.20 C68.90,392.25 68.20,389.07 67.80,385.60 C67.40,382.13 66.83,376.50 67.00,372.40 C67.17,368.30 68.07,364.47 68.80,361.00 C69.53,357.53 70.97,354.43 71.40,351.60 C71.83,348.77 71.83,346.52 71.40,344.00 C70.97,341.48 69.53,339.00 68.80,336.50 C68.07,334.00 66.90,330.90 67.00,329.00 C67.10,327.10 68.25,325.43 69.40,325.10 C70.55,324.77 72.68,327.47 73.90,327.00 C75.12,326.53 75.75,323.40 76.70,322.30 C77.65,321.20 78.72,319.28 79.60,320.40 Z" fill="#eef5fa" />
<path d="M195.00,341.00 C196.00,335.67 198.50,338.00 200.00,338.00 C201.50,338.00 203.17,335.67 204.00,341.00 C204.83,346.33 205.17,360.17 205.00,370.00 C204.83,379.83 204.33,394.83 203.00,400.00 C201.67,405.17 198.50,406.00 197.00,401.00 C195.50,396.00 194.33,380.00 194.00,370.00 C193.67,360.00 194.00,346.33 195.00,341.00 Z" fill="#e2f0fa" opacity="0.85"/>
<path d="M188.00,311.00 C189.83,308.50 197.17,308.50 199.00,311.00 C200.83,313.50 200.83,323.50 199.00,326.00 C197.17,328.50 189.83,328.50 188.00,326.00 C186.17,323.50 186.17,313.50 188.00,311.00 Z" fill="#dcf0fb" opacity="0.6"/>
</g>
<g filter="url(#b1)">
<path d="M79.00,328.00 C80.00,328.67 81.83,332.33 82.00,336.00 C82.17,339.67 81.00,345.33 80.00,350.00 C79.00,354.67 77.17,359.33 76.00,364.00 C74.83,368.67 74.00,374.33 73.00,378.00 C72.00,381.67 70.83,385.67 70.00,386.00 C69.17,386.33 68.25,383.33 68.00,380.00 C67.75,376.67 68.00,370.67 68.50,366.00 C69.00,361.33 70.08,356.33 71.00,352.00 C71.92,347.67 73.17,343.33 74.00,340.00 C74.83,336.67 75.17,334.00 76.00,332.00 C76.83,330.00 78.00,327.33 79.00,328.00 Z" fill="#f6e2da" />
<path d="M78.50,332.00 C79.00,332.00 80.25,334.67 80.00,338.00 C79.75,341.33 78.17,347.33 77.00,352.00 C75.83,356.67 74.17,361.67 73.00,366.00 C71.83,370.33 70.75,376.67 70.00,378.00 C69.25,379.33 68.50,376.67 68.50,374.00 C68.50,371.33 69.08,366.33 70.00,362.00 C70.92,357.67 72.83,352.00 74.00,348.00 C75.17,344.00 76.25,340.67 77.00,338.00 C77.75,335.33 78.00,332.00 78.50,332.00 Z" fill="#f2c4b2" opacity="0.8"/>
<circle cx="73.9" cy="356.3" r="1.6" fill="#e48068"/><circle cx="69.4" cy="370.5" r="1.8" fill="#e07058"/><circle cx="77.5" cy="340" r="1.2" fill="#eea08a"/>
<path d="M198.00,360.00 C198.50,357.00 200.50,357.00 201.00,360.00 C201.50,363.00 201.50,375.00 201.00,378.00 C200.50,381.00 198.50,381.00 198.00,378.00 C197.50,375.00 197.50,363.00 198.00,360.00 Z" fill="#f0c0aa" />
</g>
<rect x="31" y="312.5" width="185" height="0.9" fill="#e8f4fc" opacity="0.18"/>
<rect x="31" y="331.5" width="185" height="0.9" fill="#e8f4fc" opacity="0.18"/>
<rect x="31" y="363.5" width="185" height="0.9" fill="#e8f4fc" opacity="0.18"/>
<rect x="31" y="381" width="185" height="0.9" fill="#e8f4fc" opacity="0.18"/>
<rect x="31" y="418.5" width="185" height="0.9" fill="#e8f4fc" opacity="0.18"/>
<rect x="31" y="279" width="185" height="173.5" filter="url(#grain)" opacity="0.2"/>
</g>
<g fill="none" stroke="#f8f018" stroke-width="2.6" stroke-linecap="square" stroke-dasharray="0.01 4.1">
<path d="M67.00,288.20 C68.23,286.97 71.37,286.53 72.60,287.30 C73.83,288.07 74.17,291.12 74.40,292.80 C74.63,294.48 74.23,295.92 74.00,297.40 C73.77,298.88 73.70,300.77 73.00,301.70 C72.30,302.63 70.95,303.40 69.80,303.00 C68.65,302.60 66.87,300.68 66.10,299.30 C65.33,297.92 65.05,296.55 65.20,294.70 C65.35,292.85 65.77,289.43 67.00,288.20 Z"/>
<path d="M67.00,305.80 C68.85,304.87 73.00,305.62 74.40,306.70 C75.80,307.78 75.70,310.60 75.40,312.30 C75.10,314.00 73.83,315.37 72.60,316.90 C71.37,318.43 69.38,321.35 68.00,321.50 C66.62,321.65 65.08,319.33 64.30,317.80 C63.52,316.27 62.85,314.30 63.30,312.30 C63.75,310.30 65.15,306.73 67.00,305.80 Z"/>
<path d="M49.00,342.00 C50.67,342.00 53.67,342.50 55.00,344.00 C56.33,345.50 56.43,348.17 57.00,351.00 C57.57,353.83 58.17,357.00 58.40,361.00 C58.63,365.00 58.47,370.67 58.40,375.00 C58.33,379.33 58.23,383.67 58.00,387.00 C57.77,390.33 57.50,392.33 57.00,395.00 C56.50,397.67 55.67,401.17 55.00,403.00 C54.33,404.83 53.83,406.17 53.00,406.00 C52.17,405.83 51.17,402.67 50.00,402.00 C48.83,401.33 46.83,400.83 46.00,402.00 C45.17,403.17 45.33,406.50 45.00,409.00 C44.67,411.50 44.83,414.83 44.00,417.00 C43.17,419.17 41.17,422.00 40.00,422.00 C38.83,422.00 37.67,419.17 37.00,417.00 C36.33,414.83 35.83,412.00 36.00,409.00 C36.17,406.00 37.33,402.33 38.00,399.00 C38.67,395.67 39.33,393.00 40.00,389.00 C40.67,385.00 41.67,379.67 42.00,375.00 C42.33,370.33 42.00,365.00 42.00,361.00 C42.00,357.00 41.50,353.83 42.00,351.00 C42.50,348.17 43.83,345.50 45.00,344.00 C46.17,342.50 47.33,342.00 49.00,342.00 Z"/>
<path d="M84.60,365.00 C85.20,365.67 86.43,369.67 87.00,373.00 C87.57,376.33 87.67,381.00 88.00,385.00 C88.33,389.00 89.33,393.50 89.00,397.00 C88.67,400.50 87.07,404.67 86.00,406.00 C84.93,407.33 83.27,407.17 82.60,405.00 C81.93,402.83 81.93,397.33 82.00,393.00 C82.07,388.67 82.77,383.00 83.00,379.00 C83.23,375.00 83.13,371.33 83.40,369.00 C83.67,366.67 84.00,364.33 84.60,365.00 Z"/>
<path d="M129.00,396.00 C129.98,396.00 131.15,396.95 131.94,398.39 C132.73,399.83 133.45,402.31 133.76,404.64 C134.06,406.97 134.06,410.03 133.76,412.36 C133.45,414.69 132.73,417.17 131.94,418.61 C131.15,420.05 129.98,421.00 129.00,421.00 C128.02,421.00 126.85,420.05 126.06,418.61 C125.27,417.17 124.55,414.69 124.24,412.36 C123.94,410.03 123.94,406.97 124.24,404.64 C124.55,402.31 125.27,399.83 126.06,398.39 C126.85,396.95 128.02,396.00 129.00,396.00 Z"/>
<path d="M111.00,429.50 C111.69,429.50 112.50,430.30 113.06,431.51 C113.61,432.71 114.12,434.80 114.33,436.76 C114.54,438.71 114.54,441.29 114.33,443.24 C114.12,445.20 113.61,447.29 113.06,448.49 C112.50,449.70 111.69,450.50 111.00,450.50 C110.31,450.50 109.50,449.70 108.94,448.49 C108.39,447.29 107.88,445.20 107.67,443.24 C107.46,441.29 107.46,438.71 107.67,436.76 C107.88,434.80 108.39,432.71 108.94,431.51 C109.50,430.30 110.31,429.50 111.00,429.50 Z"/>
<path d="M142.20,347.20 C143.60,346.80 146.92,347.60 148.20,349.60 C149.48,351.60 150.02,355.60 149.90,359.20 C149.78,362.80 148.58,369.60 147.50,371.20 C146.42,372.80 144.68,370.60 143.40,368.80 C142.12,367.00 140.40,363.20 139.80,360.40 C139.20,357.60 139.40,354.20 139.80,352.00 C140.20,349.80 140.80,347.60 142.20,347.20 Z"/>
<path d="M154.30,294.90 C154.88,294.90 155.78,296.68 156.60,297.90 C157.42,299.12 157.90,301.13 159.20,302.20 C160.50,303.27 163.60,302.28 164.40,304.30 C165.20,306.32 164.30,311.20 164.00,314.30 C163.70,317.40 163.17,320.37 162.60,322.90 C162.03,325.43 161.60,328.48 160.60,329.50 C159.60,330.52 158.13,329.52 156.60,329.00 C155.07,328.48 152.42,328.28 151.40,326.40 C150.38,324.52 150.93,320.43 150.50,317.70 C150.07,314.97 148.73,312.58 148.80,310.00 C148.87,307.42 150.18,304.22 150.90,302.20 C151.62,300.18 152.53,299.12 153.10,297.90 C153.67,296.68 153.72,294.90 154.30,294.90 Z"/>
<path d="M157.80,354.40 C158.80,354.00 161.28,354.40 162.60,356.80 C163.92,359.20 165.30,364.40 165.70,368.80 C166.10,373.20 165.72,378.60 165.00,383.20 C164.28,387.80 162.60,394.80 161.40,396.40 C160.20,398.00 159.08,395.00 157.80,392.80 C156.52,390.60 154.10,387.20 153.70,383.20 C153.30,379.20 154.92,372.80 155.40,368.80 C155.88,364.80 156.20,361.60 156.60,359.20 C157.00,356.80 156.80,354.80 157.80,354.40 Z"/>
<path d="M186.50,283.20 C187.28,283.50 187.57,286.38 187.70,288.40 C187.83,290.42 187.58,292.72 187.30,295.30 C187.02,297.88 186.32,301.03 186.00,303.90 C185.68,306.77 185.40,309.33 185.40,312.50 C185.40,315.67 185.62,319.73 186.00,322.90 C186.38,326.07 187.70,328.77 187.70,331.50 C187.70,334.23 186.58,337.13 186.00,339.30 C185.42,341.47 184.78,342.92 184.20,344.50 C183.62,346.08 183.37,348.80 182.50,348.80 C181.63,348.80 180.00,346.37 179.00,344.50 C178.00,342.63 177.27,340.05 176.50,337.60 C175.73,335.15 174.75,332.53 174.40,329.80 C174.05,327.07 173.77,323.07 174.40,321.20 C175.03,319.33 177.23,320.05 178.20,318.60 C179.17,317.15 179.87,314.67 180.20,312.50 C180.53,310.33 180.20,307.75 180.20,305.60 C180.20,303.45 180.10,301.90 180.20,299.60 C180.30,297.30 180.33,293.97 180.80,291.80 C181.27,289.63 182.05,288.03 183.00,286.60 C183.95,285.17 185.72,282.90 186.50,283.20 Z"/>
<path d="M178.20,366.40 C180.08,365.72 185.08,364.30 186.60,365.90 C188.12,367.50 187.70,372.32 187.30,376.00 C186.90,379.68 185.32,384.20 184.20,388.00 C183.08,391.80 181.80,398.40 180.60,398.80 C179.40,399.20 178.00,393.80 177.00,390.40 C176.00,387.00 174.88,381.80 174.60,378.40 C174.32,375.00 174.70,372.00 175.30,370.00 C175.90,368.00 176.32,367.08 178.20,366.40 Z"/>
<path d="M185.40,401.20 C186.20,402.32 187.33,405.32 187.80,409.50 C188.27,413.68 188.40,421.10 188.20,426.30 C188.00,431.50 187.67,437.30 186.60,440.70 C185.53,444.10 183.28,446.70 181.80,446.70 C180.32,446.70 178.10,444.10 177.70,440.70 C177.30,437.30 179.00,431.08 179.40,426.30 C179.80,421.52 179.50,415.92 180.10,412.00 C180.70,408.08 182.12,404.60 183.00,402.80 C183.88,401.00 184.60,400.08 185.40,401.20 Z"/>
<path d="M202.10,384.40 C203.57,383.80 206.57,383.00 208.10,384.40 C209.63,385.80 210.37,389.62 211.30,392.80 C212.23,395.98 213.95,401.30 213.70,403.50 C213.45,405.70 210.93,406.98 209.80,406.00 C208.67,405.02 207.78,396.82 206.90,397.60 C206.02,398.38 205.37,408.72 204.50,410.70 C203.63,412.68 202.57,411.68 201.70,409.50 C200.83,407.32 199.70,401.18 199.30,397.60 C198.90,394.02 198.83,390.20 199.30,388.00 C199.77,385.80 200.63,385.00 202.10,384.40 Z"/>
</g>
<text x="169.6" y="437.0" font-size="13.8" text-anchor="start" fill="#000" textLength="46.3" lengthAdjust="spacingAndGlyphs" >100 nm</text>
<rect x="184.6" y="442.7" width="19.3" height="5.8" fill="#000"/>
<g clip-path="url(#clR)">
<rect x="245.5" y="279" width="185.5" height="173.5" fill="#f3ebe9"/>
<g filter="url(#b2)">
<polygon points="290,272 290,362 288.5,366 288.5,460 299,460 299,366 300,362 303,272" fill="#f1eff2" />
<polygon points="288.5,364 299,364 299,460 288.5,460" fill="#cfe0f0" />
<polygon points="303,272 304,320 303,360 299,366 299,460 312,460 312,366 313,360 314,320 313,272" fill="#eeab98" />
<polygon points="313,272 313,360 312,366 312,460 323.5,460 323.5,366 326,360 326,272" fill="#d4e2f0" />
<polygon points="312.5,364 323,364 323,460 312.5,460" fill="#abcbe7" />
<polygon points="326,272 324,460 352,460 353,272" fill="#f2bfae" />
<polygon points="347,272 347,460 354,460 355,272" fill="#f4e4e0" opacity="0.7"/>
<polygon points="331,272 330,460 347,460 347,272" fill="#eeb09c" opacity="0.45"/>
<polygon points="354,272 355,340 358,460 376,460 376,272" fill="#a4c6e4" />
<polygon points="360,272 360,340 362,460 372,460 372,272" fill="#88b4dc" opacity="0.8"/>
<polygon points="376,272 376,460 395,460 391,360 390,272" fill="#f2c8ba" />
<polygon points="390,272 391,360 395,460 435,460 414,370 414,272" fill="#bcd6ec" />
<polygon points="397,272 400,460 425,460 409,272" fill="#a8c8e6" opacity="0.7"/>
<polygon points="414,272 414,370 414,460 414,460 423,370 423,272" fill="#eea890" />
<polygon points="423,272 423,460 435,460 435,272" fill="#e3ecf4" />
<polygon points="267,272 268,300 268.5,340 265,360 264.5,460 289,460 289.5,360 291,340 291,300 292,272" fill="url(#redG)" />
<polygon points="280,306 287,306 290,326 290,360 286,370 279,360 279,326" fill="#d4584c" />
<polygon points="280,320 288,320 289,360 281,363" fill="#c03434" />
<polygon points="281,332 288,332 288.5,358 282,360" fill="#b0222c" />
<polygon points="272,368 286,366 286,394 273,394" fill="#e07e6c" />
<polygon points="276,372 284,372 284,388 276,388" fill="#d86858" />
<polygon points="280,279 290,279 290,300 281,300" fill="#e28676" />
<polygon points="244,401 252.5,402 252.5,426 244,426" fill="#cc4a48" />
<polygon points="244,428 252,428 252,460 244,460" fill="#b3cde5" />
<polygon points="244,279 254,279 254,400 244,400" fill="#f5ece9" opacity="0.6"/>
</g>
<g filter="url(#b1)">
<circle cx="378" cy="405" r="1.8" fill="#1a4a90"/>
<circle cx="380" cy="411" r="1.6" fill="#1a4a90"/>
<circle cx="379" cy="418" r="2.0" fill="#1a4a90"/>
<circle cx="384" cy="420" r="1.6" fill="#1a4a90"/>
<circle cx="414" cy="408" r="1.5" fill="#2a5aa0"/>
<circle cx="381" cy="394" r="1.2" fill="#1a4a90"/>
<circle cx="381" cy="282" r="2.2" fill="#e48a78"/>
<circle cx="384" cy="288" r="2.0" fill="#e07868"/>
<circle cx="381" cy="296" r="2.4" fill="#e89888"/>
<circle cx="385" cy="304" r="2.0" fill="#e89080"/>
<circle cx="380" cy="312" r="2.2" fill="#eca090"/>
<circle cx="383" cy="322" r="1.6" fill="#d86050"/>
<circle cx="386" cy="330" r="2.0" fill="#e89888"/>
<circle cx="380" cy="340" r="1.6" fill="#d05048"/>
<circle cx="384" cy="348" r="2.0" fill="#e08070"/>
<circle cx="381" cy="356" r="2.2" fill="#eaa090"/>
<circle cx="386" cy="365" r="2.0" fill="#e89484"/>
<circle cx="380" cy="372" r="2.0" fill="#eca898"/>
<circle cx="384" cy="380" r="1.8" fill="#e89080"/>
<circle cx="383" cy="432" r="2.0" fill="#eca090"/>
<circle cx="386" cy="442" r="1.8" fill="#e89888"/>
<circle cx="380" cy="385" r="1.4" fill="#c84038"/>
</g>
<rect x="245.5" y="279" width="185.5" height="173.5" filter="url(#speckW)" opacity="0.3"/>
<rect x="245.5" y="279" width="185.5" height="173.5" filter="url(#speckD)" opacity="0.22"/>
<g filter="url(#b1)">
<polygon points="254.5,272 256,300 256.5,330 255.5,358 267,358 268,330 268.5,300 268.5,272" fill="#4a8bc6" />
<polygon points="259,272 260,300 260,330 259,345 265,345 265.5,330 266,300 266,272" fill="#3f80c0" opacity="0.6"/>
<polygon points="256,346 254,356 251.5,364 251,400 251.5,460 266,460 265,400 265.5,364 266,356 266.5,346" fill="url(#navyG)" />
<polygon points="355,392 357.5,392 359.5,420 360,460 349,460 350.5,430" fill="#0c3e7e" />
</g>
</g>
<rect x="338.5" y="298.6" width="11.4" height="18.6" fill="#16a84e"/>
<text x="344.2" y="313.4" font-size="14" text-anchor="middle" fill="#fff" font-weight="bold" >1</text>
<rect x="360.2" y="294.3" width="11.2" height="18.6" fill="#16a84e"/>
<text x="365.8" y="309.1" font-size="14" text-anchor="middle" fill="#fff" font-weight="bold" >2</text>
<text x="380.5" y="437.0" font-size="13.8" text-anchor="start" fill="#000" textLength="48.0" lengthAdjust="spacingAndGlyphs" >200 nm</text>
<rect x="400" y="442.7" width="19" height="6.2" fill="#000"/>
<text x="465.5" y="279.8" font-size="13.3" text-anchor="start" fill="#000" font-weight="bold" >d</text>
<defs>
<clipPath id="cd1"><rect x="481.4" y="278.2" width="90.4" height="93.5"/></clipPath>
<clipPath id="cd2"><rect x="582.1" y="278.1" width="90.6" height="94.5"/></clipPath>
<radialGradient id="bg1" cx="0.5" cy="0.5" r="0.75"><stop offset="0" stop-color="#f9dcd4"/><stop offset="0.5" stop-color="#f9ebe8"/><stop offset="0.8" stop-color="#eef0f4"/><stop offset="1" stop-color="#d0e1ef"/></radialGradient>
<radialGradient id="bg2" cx="0.5" cy="0.5" r="0.75"><stop offset="0" stop-color="#f9dcd4"/><stop offset="0.5" stop-color="#f9ebe8"/><stop offset="0.8" stop-color="#eef0f4"/><stop offset="1" stop-color="#d0e1ef"/></radialGradient>
</defs>
<filter id="bd" x="-50%" y="-50%" width="200%" height="200%"><feGaussianBlur stdDeviation="0.9"/></filter>
<g clip-path="url(#cd1)">
<rect x="481.4" y="278.2" width="90.4" height="93.5" fill="url(#bg1)"/>
<g filter="url(#bd)">
<rect x="477.25" y="272.40" width="6.0" height="6.0" rx="1.6" fill="#f5c2b1"/>
<rect x="486.27" y="273.00" width="4.8" height="4.8" rx="1" fill="#f9ddd3" opacity="0.6"/>
<rect x="494.10" y="272.40" width="6.0" height="6.0" rx="1.6" fill="#f5bdab"/>
<rect x="503.12" y="273.00" width="4.8" height="4.8" rx="1" fill="#f9dbd1" opacity="0.6"/>
<rect x="510.95" y="272.40" width="6.0" height="6.0" rx="1.6" fill="#f3b7a4"/>
<rect x="519.97" y="273.00" width="4.8" height="4.8" rx="1" fill="#f9dacf" opacity="0.6"/>
<rect x="527.80" y="272.40" width="6.0" height="6.0" rx="1.6" fill="#f3b5a2"/>
<rect x="536.82" y="273.00" width="4.8" height="4.8" rx="1" fill="#f9dad0" opacity="0.6"/>
<rect x="544.65" y="272.40" width="6.0" height="6.0" rx="1.6" fill="#f4b9a7"/>
<rect x="553.67" y="273.00" width="4.8" height="4.8" rx="1" fill="#f9dcd2" opacity="0.6"/>
<rect x="561.50" y="272.40" width="6.0" height="6.0" rx="1.6" fill="#f5c0ae"/>
<rect x="570.52" y="273.00" width="4.8" height="4.8" rx="1" fill="#f9ddd4" opacity="0.6"/>
<rect x="477.87" y="281.40" width="4.8" height="4.8" rx="1" fill="#f9ddd3" opacity="0.6"/>
<rect x="485.70" y="280.80" width="6.0" height="6.0" rx="1.6" fill="#f4bcaa"/>
<rect x="494.72" y="281.40" width="4.8" height="4.8" rx="1" fill="#f9dad0" opacity="0.6"/>
<rect x="502.55" y="280.80" width="6.0" height="6.0" rx="1.6" fill="#f1af9c"/>
<rect x="511.57" y="281.40" width="4.8" height="4.8" rx="1" fill="#f8d7cc" opacity="0.6"/>
<rect x="519.40" y="280.80" width="6.0" height="6.0" rx="1.6" fill="#efa592"/>
<rect x="528.42" y="281.40" width="4.8" height="4.8" rx="1" fill="#f8d6ca" opacity="0.6"/>
<rect x="536.25" y="280.80" width="6.0" height="6.0" rx="1.6" fill="#f0a996"/>
<rect x="545.27" y="281.40" width="4.8" height="4.8" rx="1" fill="#f9d8cd" opacity="0.6"/>
<rect x="553.10" y="280.80" width="6.0" height="6.0" rx="1.6" fill="#f3b5a3"/>
<rect x="562.12" y="281.40" width="4.8" height="4.8" rx="1" fill="#f9dbd2" opacity="0.6"/>
<rect x="569.95" y="280.80" width="6.0" height="6.0" rx="1.6" fill="#f5bfae"/>
<rect x="477.25" y="289.20" width="6.0" height="6.0" rx="1.6" fill="#f5bcaa"/>
<rect x="486.27" y="289.80" width="4.8" height="4.8" rx="1" fill="#f9dacf" opacity="0.6"/>
<rect x="494.10" y="289.20" width="6.0" height="6.0" rx="1.6" fill="#f0ab98"/>
<rect x="503.12" y="289.80" width="4.8" height="4.8" rx="1" fill="#f8d4c8" opacity="0.6"/>
<rect x="510.95" y="289.20" width="6.0" height="6.0" rx="1.6" fill="#eb9582"/>
<rect x="519.97" y="289.80" width="4.8" height="4.8" rx="1" fill="#f7d0c3" opacity="0.6"/>
<rect x="527.80" y="289.20" width="6.0" height="6.0" rx="1.6" fill="#e98e7b"/>
<rect x="536.82" y="289.80" width="4.8" height="4.8" rx="1" fill="#f8d1c5" opacity="0.6"/>
<rect x="544.65" y="289.20" width="6.0" height="6.0" rx="1.6" fill="#ed9e8b"/>
<rect x="553.67" y="289.80" width="4.8" height="4.8" rx="1" fill="#f8d7cc" opacity="0.6"/>
<rect x="561.50" y="289.20" width="6.0" height="6.0" rx="1.6" fill="#f2b4a1"/>
<rect x="570.52" y="289.80" width="4.8" height="4.8" rx="1" fill="#f9dcd2" opacity="0.6"/>
<rect x="477.87" y="298.20" width="4.8" height="4.8" rx="1" fill="#f9dad0" opacity="0.6"/>
<rect x="485.70" y="297.60" width="6.0" height="6.0" rx="1.6" fill="#f0ac99"/>
<rect x="494.72" y="298.20" width="4.8" height="4.8" rx="1" fill="#f8d4c7" opacity="0.6"/>
<rect x="502.55" y="297.60" width="6.0" height="6.0" rx="1.6" fill="#e88b78"/>
<rect x="511.57" y="298.20" width="4.8" height="4.8" rx="1" fill="#f7cbbd" opacity="0.6"/>
<rect x="519.40" y="297.60" width="6.0" height="6.0" rx="1.6" fill="#de7062"/>
<rect x="528.42" y="298.20" width="4.8" height="4.8" rx="1" fill="#f6c9ba" opacity="0.6"/>
<rect x="536.25" y="297.60" width="6.0" height="6.0" rx="1.6" fill="#e27968"/>
<rect x="545.27" y="298.20" width="4.8" height="4.8" rx="1" fill="#f7cfc1" opacity="0.6"/>
<rect x="553.10" y="297.60" width="6.0" height="6.0" rx="1.6" fill="#ec9b88"/>
<rect x="562.12" y="298.20" width="4.8" height="4.8" rx="1" fill="#f8d7cc" opacity="0.6"/>
<rect x="569.95" y="297.60" width="6.0" height="6.0" rx="1.6" fill="#f3b6a4"/>
<rect x="477.25" y="306.00" width="6.0" height="6.0" rx="1.6" fill="#f2b2a0"/>
<rect x="486.27" y="306.60" width="4.8" height="4.8" rx="1" fill="#f8d5ca" opacity="0.6"/>
<rect x="494.10" y="306.00" width="6.0" height="6.0" rx="1.6" fill="#e98e7b"/>
<rect x="503.12" y="306.60" width="4.8" height="4.8" rx="1" fill="#f7cabb" opacity="0.6"/>
<rect x="510.95" y="306.00" width="6.0" height="6.0" rx="1.6" fill="#d65c55"/>
<rect x="519.97" y="306.60" width="4.8" height="4.8" rx="1" fill="#f5c1b0" opacity="0.6"/>
<rect x="527.80" y="306.00" width="6.0" height="6.0" rx="1.6" fill="#d04c4a"/>
<rect x="536.82" y="306.60" width="4.8" height="4.8" rx="1" fill="#f6c4b4" opacity="0.6"/>
<rect x="544.65" y="306.00" width="6.0" height="6.0" rx="1.6" fill="#df7263"/>
<rect x="553.67" y="306.60" width="4.8" height="4.8" rx="1" fill="#f7cfc2" opacity="0.6"/>
<rect x="561.50" y="306.00" width="6.0" height="6.0" rx="1.6" fill="#eea18e"/>
<rect x="570.52" y="306.60" width="4.8" height="4.8" rx="1" fill="#f9d9ce" opacity="0.6"/>
<rect x="477.87" y="315.00" width="4.8" height="4.8" rx="1" fill="#f9d8cd" opacity="0.6"/>
<rect x="485.70" y="314.40" width="6.0" height="6.0" rx="1.6" fill="#ec9b88"/>
<rect x="494.72" y="315.00" width="4.8" height="4.8" rx="1" fill="#f7cdbf" opacity="0.6"/>
<rect x="502.55" y="314.40" width="6.0" height="6.0" rx="1.6" fill="#d86158"/>
<rect x="511.57" y="315.00" width="4.8" height="4.8" rx="1" fill="#f5bfae" opacity="0.6"/>
<rect x="519.40" y="314.40" width="6.0" height="6.0" rx="1.6" fill="#bf2f38"/>
<rect x="528.42" y="315.00" width="4.8" height="4.8" rx="1" fill="#f4baa8" opacity="0.6"/>
<rect x="536.25" y="314.40" width="6.0" height="6.0" rx="1.6" fill="#ca4143"/>
<rect x="545.27" y="315.00" width="4.8" height="4.8" rx="1" fill="#f6c5b5" opacity="0.6"/>
<rect x="553.10" y="314.40" width="6.0" height="6.0" rx="1.6" fill="#e5806d"/>
<rect x="562.12" y="315.00" width="4.8" height="4.8" rx="1" fill="#f8d3c6" opacity="0.6"/>
<rect x="569.95" y="314.40" width="6.0" height="6.0" rx="1.6" fill="#f1ad9a"/>
<rect x="477.25" y="322.80" width="6.0" height="6.0" rx="1.6" fill="#f1ac9a"/>
<rect x="486.27" y="323.40" width="4.8" height="4.8" rx="1" fill="#f8d3c6" opacity="0.6"/>
<rect x="494.10" y="322.80" width="6.0" height="6.0" rx="1.6" fill="#e47d6b"/>
<rect x="503.12" y="323.40" width="4.8" height="4.8" rx="1" fill="#f6c4b4" opacity="0.6"/>
<rect x="510.95" y="322.80" width="6.0" height="6.0" rx="1.6" fill="#c4373d"/>
<rect x="519.97" y="323.40" width="4.8" height="4.8" rx="1" fill="#f3b7a5" opacity="0.6"/>
<rect x="527.80" y="322.80" width="6.0" height="6.0" rx="1.6" fill="#b6202f"/>
<rect x="536.82" y="323.40" width="4.8" height="4.8" rx="1" fill="#f4bcaa" opacity="0.6"/>
<rect x="544.65" y="322.80" width="6.0" height="6.0" rx="1.6" fill="#d35550"/>
<rect x="553.67" y="323.40" width="4.8" height="4.8" rx="1" fill="#f7cbbc" opacity="0.6"/>
<rect x="561.50" y="322.80" width="6.0" height="6.0" rx="1.6" fill="#eb9683"/>
<rect x="570.52" y="323.40" width="4.8" height="4.8" rx="1" fill="#f8d7cc" opacity="0.6"/>
<rect x="477.87" y="331.80" width="4.8" height="4.8" rx="1" fill="#f9d8cd" opacity="0.6"/>
<rect x="485.70" y="331.20" width="6.0" height="6.0" rx="1.6" fill="#ec9a87"/>
<rect x="494.72" y="331.80" width="4.8" height="4.8" rx="1" fill="#f7ccbe" opacity="0.6"/>
<rect x="502.55" y="331.20" width="6.0" height="6.0" rx="1.6" fill="#d75e56"/>
<rect x="511.57" y="331.80" width="4.8" height="4.8" rx="1" fill="#f5beac" opacity="0.6"/>
<rect x="519.40" y="331.20" width="6.0" height="6.0" rx="1.6" fill="#bb2934"/>
<rect x="528.42" y="331.80" width="4.8" height="4.8" rx="1" fill="#f4b9a7" opacity="0.6"/>
<rect x="536.25" y="331.20" width="6.0" height="6.0" rx="1.6" fill="#c63b3f"/>
<rect x="545.27" y="331.80" width="4.8" height="4.8" rx="1" fill="#f6c4b4" opacity="0.6"/>
<rect x="553.10" y="331.20" width="6.0" height="6.0" rx="1.6" fill="#e47d6b"/>
<rect x="562.12" y="331.80" width="4.8" height="4.8" rx="1" fill="#f8d2c6" opacity="0.6"/>
<rect x="569.95" y="331.20" width="6.0" height="6.0" rx="1.6" fill="#f0ac99"/>
<rect x="477.25" y="339.60" width="6.0" height="6.0" rx="1.6" fill="#f2b19e"/>
<rect x="486.27" y="340.20" width="4.8" height="4.8" rx="1" fill="#f8d5c9" opacity="0.6"/>
<rect x="494.10" y="339.60" width="6.0" height="6.0" rx="1.6" fill="#e88a77"/>
<rect x="503.12" y="340.20" width="4.8" height="4.8" rx="1" fill="#f6c9b9" opacity="0.6"/>
<rect x="510.95" y="339.60" width="6.0" height="6.0" rx="1.6" fill="#d3544f"/>
<rect x="519.97" y="340.20" width="4.8" height="4.8" rx="1" fill="#f5bfae" opacity="0.6"/>
<rect x="527.80" y="339.60" width="6.0" height="6.0" rx="1.6" fill="#cb4344"/>
<rect x="536.82" y="340.20" width="4.8" height="4.8" rx="1" fill="#f6c2b2" opacity="0.6"/>
<rect x="544.65" y="339.60" width="6.0" height="6.0" rx="1.6" fill="#dd6c5f"/>
<rect x="553.67" y="340.20" width="4.8" height="4.8" rx="1" fill="#f7cec1" opacity="0.6"/>
<rect x="561.50" y="339.60" width="6.0" height="6.0" rx="1.6" fill="#ed9e8b"/>
<rect x="570.52" y="340.20" width="4.8" height="4.8" rx="1" fill="#f9d8ce" opacity="0.6"/>
<rect x="477.87" y="348.60" width="4.8" height="4.8" rx="1" fill="#f9dad0" opacity="0.6"/>
<rect x="485.70" y="348.00" width="6.0" height="6.0" rx="1.6" fill="#f0a996"/>
<rect x="494.72" y="348.60" width="4.8" height="4.8" rx="1" fill="#f8d2c6" opacity="0.6"/>
<rect x="502.55" y="348.00" width="6.0" height="6.0" rx="1.6" fill="#e78572"/>
<rect x="511.57" y="348.60" width="4.8" height="4.8" rx="1" fill="#f7c9ba" opacity="0.6"/>
<rect x="519.40" y="348.00" width="6.0" height="6.0" rx="1.6" fill="#da655b"/>
<rect x="528.42" y="348.60" width="4.8" height="4.8" rx="1" fill="#f6c6b7" opacity="0.6"/>
<rect x="536.25" y="348.00" width="6.0" height="6.0" rx="1.6" fill="#df7062"/>
<rect x="545.27" y="348.60" width="4.8" height="4.8" rx="1" fill="#f7cdbf" opacity="0.6"/>
<rect x="553.10" y="348.00" width="6.0" height="6.0" rx="1.6" fill="#eb9783"/>
<rect x="562.12" y="348.60" width="4.8" height="4.8" rx="1" fill="#f8d6cb" opacity="0.6"/>
<rect x="569.95" y="348.00" width="6.0" height="6.0" rx="1.6" fill="#f3b5a2"/>
<rect x="477.25" y="356.40" width="6.0" height="6.0" rx="1.6" fill="#f4bba9"/>
<rect x="486.27" y="357.00" width="4.8" height="4.8" rx="1" fill="#f9d9cf" opacity="0.6"/>
<rect x="494.10" y="356.40" width="6.0" height="6.0" rx="1.6" fill="#efa794"/>
<rect x="503.12" y="357.00" width="4.8" height="4.8" rx="1" fill="#f8d3c7" opacity="0.6"/>
<rect x="510.95" y="356.40" width="6.0" height="6.0" rx="1.6" fill="#e98e7b"/>
<rect x="519.97" y="357.00" width="4.8" height="4.8" rx="1" fill="#f7cec0" opacity="0.6"/>
<rect x="527.80" y="356.40" width="6.0" height="6.0" rx="1.6" fill="#e78773"/>
<rect x="536.82" y="357.00" width="4.8" height="4.8" rx="1" fill="#f7d0c2" opacity="0.6"/>
<rect x="544.65" y="356.40" width="6.0" height="6.0" rx="1.6" fill="#ec9985"/>
<rect x="553.67" y="357.00" width="4.8" height="4.8" rx="1" fill="#f8d6ca" opacity="0.6"/>
<rect x="561.50" y="356.40" width="6.0" height="6.0" rx="1.6" fill="#f2b19f"/>
<rect x="570.52" y="357.00" width="4.8" height="4.8" rx="1" fill="#f9dbd1" opacity="0.6"/>
<rect x="477.87" y="365.40" width="4.8" height="4.8" rx="1" fill="#f9ddd3" opacity="0.6"/>
<rect x="485.70" y="364.80" width="6.0" height="6.0" rx="1.6" fill="#f4baa8"/>
<rect x="494.72" y="365.40" width="4.8" height="4.8" rx="1" fill="#f9d9cf" opacity="0.6"/>
<rect x="502.55" y="364.80" width="6.0" height="6.0" rx="1.6" fill="#f0ab98"/>
<rect x="511.57" y="365.40" width="4.8" height="4.8" rx="1" fill="#f8d5ca" opacity="0.6"/>
<rect x="519.40" y="364.80" width="6.0" height="6.0" rx="1.6" fill="#eda08d"/>
<rect x="528.42" y="365.40" width="4.8" height="4.8" rx="1" fill="#f8d4c8" opacity="0.6"/>
<rect x="536.25" y="364.80" width="6.0" height="6.0" rx="1.6" fill="#eea390"/>
<rect x="545.27" y="365.40" width="4.8" height="4.8" rx="1" fill="#f8d7cc" opacity="0.6"/>
<rect x="553.10" y="364.80" width="6.0" height="6.0" rx="1.6" fill="#f2b2a0"/>
<rect x="562.12" y="365.40" width="4.8" height="4.8" rx="1" fill="#f9dbd1" opacity="0.6"/>
<rect x="569.95" y="364.80" width="6.0" height="6.0" rx="1.6" fill="#f5bfad"/>
<rect x="477.25" y="373.20" width="6.0" height="6.0" rx="1.6" fill="#f5c1b0"/>
<rect x="486.27" y="373.80" width="4.8" height="4.8" rx="1" fill="#f9ddd3" opacity="0.6"/>
<rect x="494.10" y="373.20" width="6.0" height="6.0" rx="1.6" fill="#f4bca9"/>
<rect x="503.12" y="373.80" width="4.8" height="4.8" rx="1" fill="#f9dad0" opacity="0.6"/>
<rect x="510.95" y="373.20" width="6.0" height="6.0" rx="1.6" fill="#f2b3a1"/>
<rect x="519.97" y="373.80" width="4.8" height="4.8" rx="1" fill="#f9d9ce" opacity="0.6"/>
<rect x="527.80" y="373.20" width="6.0" height="6.0" rx="1.6" fill="#f2b19e"/>
<rect x="536.82" y="373.80" width="4.8" height="4.8" rx="1" fill="#f9d9cf" opacity="0.6"/>
<rect x="544.65" y="373.20" width="6.0" height="6.0" rx="1.6" fill="#f3b7a5"/>
<rect x="553.67" y="373.80" width="4.8" height="4.8" rx="1" fill="#f9dbd2" opacity="0.6"/>
<rect x="561.50" y="373.20" width="6.0" height="6.0" rx="1.6" fill="#f5bfad"/>
<rect x="570.52" y="373.80" width="4.8" height="4.8" rx="1" fill="#f9ddd4" opacity="0.6"/>
</g></g>
<g clip-path="url(#cd2)">
<rect x="582.1" y="278.1" width="90.6" height="94.5" fill="url(#bg2)"/>
<g filter="url(#bd)">
<rect x="580.07" y="273.15" width="4.4" height="4.4" fill="#f9ded5" opacity="0.5"/>
<rect x="572.92" y="278.05" width="4.6" height="4.0" fill="#f9ded5" opacity="0.6"/>
<rect x="572.02" y="272.35" width="6.4" height="6.0" rx="1.2" fill="#f5c2b0"/>
<rect x="594.17" y="273.15" width="4.4" height="4.4" fill="#f9dcd2" opacity="0.5"/>
<rect x="587.02" y="278.05" width="4.6" height="4.0" fill="#f9dcd2" opacity="0.6"/>
<rect x="586.12" y="272.35" width="6.4" height="6.0" rx="1.2" fill="#f4baa8"/>
<rect x="608.27" y="273.15" width="4.4" height="4.4" fill="#f9d9ce" opacity="0.5"/>
<rect x="601.12" y="278.05" width="4.6" height="4.0" fill="#f9d9ce" opacity="0.6"/>
<rect x="600.22" y="272.35" width="6.4" height="6.0" rx="1.2" fill="#f1ae9b"/>
<rect x="622.37" y="273.15" width="4.4" height="4.4" fill="#f8d6cb" opacity="0.5"/>
<rect x="615.22" y="278.05" width="4.6" height="4.0" fill="#f8d6cb" opacity="0.6"/>
<rect x="614.32" y="272.35" width="6.4" height="6.0" rx="1.2" fill="#efa491"/>
<rect x="636.47" y="273.15" width="4.4" height="4.4" fill="#f8d6ca" opacity="0.5"/>
<rect x="629.32" y="278.05" width="4.6" height="4.0" fill="#f8d6ca" opacity="0.6"/>
<rect x="628.42" y="272.35" width="6.4" height="6.0" rx="1.2" fill="#eea390"/>
<rect x="650.57" y="273.15" width="4.4" height="4.4" fill="#f9d8cd" opacity="0.5"/>
<rect x="643.42" y="278.05" width="4.6" height="4.0" fill="#f9d8cd" opacity="0.6"/>
<rect x="642.52" y="272.35" width="6.4" height="6.0" rx="1.2" fill="#f0aa97"/>
<rect x="664.67" y="273.15" width="4.4" height="4.4" fill="#f9dbd1" opacity="0.5"/>
<rect x="657.52" y="278.05" width="4.6" height="4.0" fill="#f9dbd1" opacity="0.6"/>
<rect x="656.62" y="272.35" width="6.4" height="6.0" rx="1.2" fill="#f3b6a4"/>
<rect x="678.77" y="273.15" width="4.4" height="4.4" fill="#f9ddd4" opacity="0.5"/>
<rect x="671.62" y="278.05" width="4.6" height="4.0" fill="#f9ddd4" opacity="0.6"/>
<rect x="670.72" y="272.35" width="6.4" height="6.0" rx="1.2" fill="#f5c0ae"/>
<rect x="580.54" y="282.60" width="4.4" height="4.4" fill="#f9ddd3" opacity="0.5"/>
<rect x="573.39" y="287.50" width="4.6" height="4.0" fill="#f9ddd3" opacity="0.6"/>
<rect x="572.49" y="281.80" width="6.4" height="6.0" rx="1.2" fill="#f5beac"/>
<rect x="594.64" y="282.60" width="4.4" height="4.4" fill="#f9d9cf" opacity="0.5"/>
<rect x="587.49" y="287.50" width="4.6" height="4.0" fill="#f9d9cf" opacity="0.6"/>
<rect x="586.59" y="281.80" width="6.4" height="6.0" rx="1.2" fill="#f1b09d"/>
<rect x="608.74" y="282.60" width="4.4" height="4.4" fill="#f8d4c9" opacity="0.5"/>
<rect x="601.59" y="287.50" width="4.6" height="4.0" fill="#f8d4c9" opacity="0.6"/>
<rect x="600.69" y="281.80" width="6.4" height="6.0" rx="1.2" fill="#ed9d8a"/>
<rect x="622.84" y="282.60" width="4.4" height="4.4" fill="#f8d1c4" opacity="0.5"/>
<rect x="615.69" y="287.50" width="4.6" height="4.0" fill="#f8d1c4" opacity="0.6"/>
<rect x="614.79" y="281.80" width="6.4" height="6.0" rx="1.2" fill="#e98e7a"/>
<rect x="636.94" y="282.60" width="4.4" height="4.4" fill="#f7d0c3" opacity="0.5"/>
<rect x="629.79" y="287.50" width="4.6" height="4.0" fill="#f7d0c3" opacity="0.6"/>
<rect x="628.89" y="281.80" width="6.4" height="6.0" rx="1.2" fill="#e88c78"/>
<rect x="651.04" y="282.60" width="4.4" height="4.4" fill="#f8d3c7" opacity="0.5"/>
<rect x="643.89" y="287.50" width="4.6" height="4.0" fill="#f8d3c7" opacity="0.6"/>
<rect x="642.99" y="281.80" width="6.4" height="6.0" rx="1.2" fill="#eb9885"/>
<rect x="665.14" y="282.60" width="4.4" height="4.4" fill="#f9d8cd" opacity="0.5"/>
<rect x="657.99" y="287.50" width="4.6" height="4.0" fill="#f9d8cd" opacity="0.6"/>
<rect x="657.09" y="281.80" width="6.4" height="6.0" rx="1.2" fill="#f0ab98"/>
<rect x="679.24" y="282.60" width="4.4" height="4.4" fill="#f9dcd2" opacity="0.5"/>
<rect x="672.09" y="287.50" width="4.6" height="4.0" fill="#f9dcd2" opacity="0.6"/>
<rect x="671.19" y="281.80" width="6.4" height="6.0" rx="1.2" fill="#f4bba9"/>
<rect x="581.01" y="292.05" width="4.4" height="4.4" fill="#f9dbd1" opacity="0.5"/>
<rect x="573.86" y="296.95" width="4.6" height="4.0" fill="#f9dbd1" opacity="0.6"/>
<rect x="572.96" y="291.25" width="6.4" height="6.0" rx="1.2" fill="#f4b8a6"/>
<rect x="595.11" y="292.05" width="4.4" height="4.4" fill="#f8d6cb" opacity="0.5"/>
<rect x="587.96" y="296.95" width="4.6" height="4.0" fill="#f8d6cb" opacity="0.6"/>
<rect x="587.06" y="291.25" width="6.4" height="6.0" rx="1.2" fill="#eea491"/>
<rect x="609.21" y="292.05" width="4.4" height="4.4" fill="#f7cfc2" opacity="0.5"/>
<rect x="602.06" y="296.95" width="4.6" height="4.0" fill="#f7cfc2" opacity="0.6"/>
<rect x="601.16" y="291.25" width="6.4" height="6.0" rx="1.2" fill="#e88875"/>
<rect x="623.31" y="292.05" width="4.4" height="4.4" fill="#f7cabb" opacity="0.5"/>
<rect x="616.16" y="296.95" width="4.6" height="4.0" fill="#f7cabb" opacity="0.6"/>
<rect x="615.26" y="291.25" width="6.4" height="6.0" rx="1.2" fill="#df7062"/>
<rect x="637.41" y="292.05" width="4.4" height="4.4" fill="#f7c9ba" opacity="0.5"/>
<rect x="630.26" y="296.95" width="4.6" height="4.0" fill="#f7c9ba" opacity="0.6"/>
<rect x="629.36" y="291.25" width="6.4" height="6.0" rx="1.2" fill="#dd6d60"/>
<rect x="651.51" y="292.05" width="4.4" height="4.4" fill="#f7cec0" opacity="0.5"/>
<rect x="644.36" y="296.95" width="4.6" height="4.0" fill="#f7cec0" opacity="0.6"/>
<rect x="643.46" y="291.25" width="6.4" height="6.0" rx="1.2" fill="#e6836f"/>
<rect x="665.61" y="292.05" width="4.4" height="4.4" fill="#f8d5c9" opacity="0.5"/>
<rect x="658.46" y="296.95" width="4.6" height="4.0" fill="#f8d5c9" opacity="0.6"/>
<rect x="657.56" y="291.25" width="6.4" height="6.0" rx="1.2" fill="#ed9e8b"/>
<rect x="679.71" y="292.05" width="4.4" height="4.4" fill="#f9dad0" opacity="0.5"/>
<rect x="672.56" y="296.95" width="4.6" height="4.0" fill="#f9dad0" opacity="0.6"/>
<rect x="671.66" y="291.25" width="6.4" height="6.0" rx="1.2" fill="#f3b5a3"/>
<rect x="581.48" y="301.50" width="4.4" height="4.4" fill="#f9dacf" opacity="0.5"/>
<rect x="574.33" y="306.40" width="4.6" height="4.0" fill="#f9dacf" opacity="0.6"/>
<rect x="573.43" y="300.70" width="6.4" height="6.0" rx="1.2" fill="#f2b2a0"/>
<rect x="595.58" y="301.50" width="4.4" height="4.4" fill="#f8d3c7" opacity="0.5"/>
<rect x="588.43" y="306.40" width="4.6" height="4.0" fill="#f8d3c7" opacity="0.6"/>
<rect x="587.53" y="300.70" width="6.4" height="6.0" rx="1.2" fill="#eb9783"/>
<rect x="609.68" y="301.50" width="4.4" height="4.4" fill="#f7cabb" opacity="0.5"/>
<rect x="602.53" y="306.40" width="4.6" height="4.0" fill="#f7cabb" opacity="0.6"/>
<rect x="601.63" y="300.70" width="6.4" height="6.0" rx="1.2" fill="#df7062"/>
<rect x="623.78" y="301.50" width="4.4" height="4.4" fill="#f6c3b3" opacity="0.5"/>
<rect x="616.63" y="306.40" width="4.6" height="4.0" fill="#f6c3b3" opacity="0.6"/>
<rect x="615.73" y="300.70" width="6.4" height="6.0" rx="1.2" fill="#d1504c"/>
<rect x="637.88" y="301.50" width="4.4" height="4.4" fill="#f6c3b2" opacity="0.5"/>
<rect x="630.73" y="306.40" width="4.6" height="4.0" fill="#f6c3b2" opacity="0.6"/>
<rect x="629.83" y="300.70" width="6.4" height="6.0" rx="1.2" fill="#d04d4b"/>
<rect x="651.98" y="301.50" width="4.4" height="4.4" fill="#f6c9ba" opacity="0.5"/>
<rect x="644.83" y="306.40" width="4.6" height="4.0" fill="#f6c9ba" opacity="0.6"/>
<rect x="643.93" y="300.70" width="6.4" height="6.0" rx="1.2" fill="#dc6a5e"/>
<rect x="666.08" y="301.50" width="4.4" height="4.4" fill="#f8d2c5" opacity="0.5"/>
<rect x="658.93" y="306.40" width="4.6" height="4.0" fill="#f8d2c5" opacity="0.6"/>
<rect x="658.03" y="300.70" width="6.4" height="6.0" rx="1.2" fill="#ea927e"/>
<rect x="680.18" y="301.50" width="4.4" height="4.4" fill="#f9d9ce" opacity="0.5"/>
<rect x="673.03" y="306.40" width="4.6" height="4.0" fill="#f9d9ce" opacity="0.6"/>
<rect x="672.13" y="300.70" width="6.4" height="6.0" rx="1.2" fill="#f1af9d"/>
<rect x="581.96" y="310.95" width="4.4" height="4.4" fill="#f9d9ce" opacity="0.5"/>
<rect x="574.81" y="315.85" width="4.6" height="4.0" fill="#f9d9ce" opacity="0.6"/>
<rect x="573.91" y="310.15" width="6.4" height="6.0" rx="1.2" fill="#f1ad9b"/>
<rect x="596.06" y="310.95" width="4.4" height="4.4" fill="#f7d0c3" opacity="0.5"/>
<rect x="588.91" y="315.85" width="4.6" height="4.0" fill="#f7d0c3" opacity="0.6"/>
<rect x="588.01" y="310.15" width="6.4" height="6.0" rx="1.2" fill="#e88c78"/>
<rect x="610.16" y="310.95" width="4.4" height="4.4" fill="#f6c6b6" opacity="0.5"/>
<rect x="603.01" y="315.85" width="4.6" height="4.0" fill="#f6c6b6" opacity="0.6"/>
<rect x="602.11" y="310.15" width="6.4" height="6.0" rx="1.2" fill="#d65b54"/>
<rect x="624.26" y="310.95" width="4.4" height="4.4" fill="#f5beac" opacity="0.5"/>
<rect x="617.11" y="315.85" width="4.6" height="4.0" fill="#f5beac" opacity="0.6"/>
<rect x="616.21" y="310.15" width="6.4" height="6.0" rx="1.2" fill="#c2343b"/>
<rect x="638.36" y="310.95" width="4.4" height="4.4" fill="#f5bdab" opacity="0.5"/>
<rect x="631.21" y="315.85" width="4.6" height="4.0" fill="#f5bdab" opacity="0.6"/>
<rect x="630.31" y="310.15" width="6.4" height="6.0" rx="1.2" fill="#c03239"/>
<rect x="652.46" y="310.95" width="4.4" height="4.4" fill="#f6c5b5" opacity="0.5"/>
<rect x="645.31" y="315.85" width="4.6" height="4.0" fill="#f6c5b5" opacity="0.6"/>
<rect x="644.41" y="310.15" width="6.4" height="6.0" rx="1.2" fill="#d45752"/>
<rect x="666.56" y="310.95" width="4.4" height="4.4" fill="#f7cfc2" opacity="0.5"/>
<rect x="659.41" y="315.85" width="4.6" height="4.0" fill="#f7cfc2" opacity="0.6"/>
<rect x="658.51" y="310.15" width="6.4" height="6.0" rx="1.2" fill="#e88975"/>
<rect x="680.66" y="310.95" width="4.4" height="4.4" fill="#f9d8cd" opacity="0.5"/>
<rect x="673.51" y="315.85" width="4.6" height="4.0" fill="#f9d8cd" opacity="0.6"/>
<rect x="672.61" y="310.15" width="6.4" height="6.0" rx="1.2" fill="#f0ab99"/>
<rect x="582.43" y="320.40" width="4.4" height="4.4" fill="#f9d8cd" opacity="0.5"/>
<rect x="575.28" y="325.30" width="4.6" height="4.0" fill="#f9d8cd" opacity="0.6"/>
<rect x="574.38" y="319.60" width="6.4" height="6.0" rx="1.2" fill="#f0aa97"/>
<rect x="596.53" y="320.40" width="4.4" height="4.4" fill="#f7cfc1" opacity="0.5"/>
<rect x="589.38" y="325.30" width="4.6" height="4.0" fill="#f7cfc1" opacity="0.6"/>
<rect x="588.48" y="319.60" width="6.4" height="6.0" rx="1.2" fill="#e78672"/>
<rect x="610.63" y="320.40" width="4.4" height="4.4" fill="#f6c3b3" opacity="0.5"/>
<rect x="603.48" y="325.30" width="4.6" height="4.0" fill="#f6c3b3" opacity="0.6"/>
<rect x="602.58" y="319.60" width="6.4" height="6.0" rx="1.2" fill="#d1504d"/>
<rect x="624.73" y="320.40" width="4.4" height="4.4" fill="#f4baa8" opacity="0.5"/>
<rect x="617.58" y="325.30" width="4.6" height="4.0" fill="#f4baa8" opacity="0.6"/>
<rect x="616.68" y="319.60" width="6.4" height="6.0" rx="1.2" fill="#b82531"/>
<rect x="638.83" y="320.40" width="4.4" height="4.4" fill="#f4baa8" opacity="0.5"/>
<rect x="631.68" y="325.30" width="4.6" height="4.0" fill="#f4baa8" opacity="0.6"/>
<rect x="630.78" y="319.60" width="6.4" height="6.0" rx="1.2" fill="#b82531"/>
<rect x="652.93" y="320.40" width="4.4" height="4.4" fill="#f6c3b2" opacity="0.5"/>
<rect x="645.78" y="325.30" width="4.6" height="4.0" fill="#f6c3b2" opacity="0.6"/>
<rect x="644.88" y="319.60" width="6.4" height="6.0" rx="1.2" fill="#d14f4c"/>
<rect x="667.03" y="320.40" width="4.4" height="4.4" fill="#f7cec1" opacity="0.5"/>
<rect x="659.88" y="325.30" width="4.6" height="4.0" fill="#f7cec1" opacity="0.6"/>
<rect x="658.98" y="319.60" width="6.4" height="6.0" rx="1.2" fill="#e78571"/>
<rect x="681.13" y="320.40" width="4.4" height="4.4" fill="#f8d8cd" opacity="0.5"/>
<rect x="673.98" y="325.30" width="4.6" height="4.0" fill="#f8d8cd" opacity="0.6"/>
<rect x="673.08" y="319.60" width="6.4" height="6.0" rx="1.2" fill="#f0aa97"/>
<rect x="582.90" y="329.85" width="4.4" height="4.4" fill="#f9d8cd" opacity="0.5"/>
<rect x="575.75" y="334.75" width="4.6" height="4.0" fill="#f9d8cd" opacity="0.6"/>
<rect x="574.85" y="329.05" width="6.4" height="6.0" rx="1.2" fill="#f0aa97"/>
<rect x="597.00" y="329.85" width="4.4" height="4.4" fill="#f7cfc1" opacity="0.5"/>
<rect x="589.85" y="334.75" width="4.6" height="4.0" fill="#f7cfc1" opacity="0.6"/>
<rect x="588.95" y="329.05" width="6.4" height="6.0" rx="1.2" fill="#e78672"/>
<rect x="611.10" y="329.85" width="4.4" height="4.4" fill="#f6c4b3" opacity="0.5"/>
<rect x="603.95" y="334.75" width="4.6" height="4.0" fill="#f6c4b3" opacity="0.6"/>
<rect x="603.05" y="329.05" width="6.4" height="6.0" rx="1.2" fill="#d2514e"/>
<rect x="625.20" y="329.85" width="4.4" height="4.4" fill="#f4bba9" opacity="0.5"/>
<rect x="618.05" y="334.75" width="4.6" height="4.0" fill="#f4bba9" opacity="0.6"/>
<rect x="617.15" y="329.05" width="6.4" height="6.0" rx="1.2" fill="#bb2934"/>
<rect x="639.30" y="329.85" width="4.4" height="4.4" fill="#f4bba9" opacity="0.5"/>
<rect x="632.15" y="334.75" width="4.6" height="4.0" fill="#f4bba9" opacity="0.6"/>
<rect x="631.25" y="329.05" width="6.4" height="6.0" rx="1.2" fill="#bc2a35"/>
<rect x="653.40" y="329.85" width="4.4" height="4.4" fill="#f6c4b4" opacity="0.5"/>
<rect x="646.25" y="334.75" width="4.6" height="4.0" fill="#f6c4b4" opacity="0.6"/>
<rect x="645.35" y="329.05" width="6.4" height="6.0" rx="1.2" fill="#d35450"/>
<rect x="667.50" y="329.85" width="4.4" height="4.4" fill="#f7cfc2" opacity="0.5"/>
<rect x="660.35" y="334.75" width="4.6" height="4.0" fill="#f7cfc2" opacity="0.6"/>
<rect x="659.45" y="329.05" width="6.4" height="6.0" rx="1.2" fill="#e88874"/>
<rect x="681.60" y="329.85" width="4.4" height="4.4" fill="#f9d8cd" opacity="0.5"/>
<rect x="674.45" y="334.75" width="4.6" height="4.0" fill="#f9d8cd" opacity="0.6"/>
<rect x="673.55" y="329.05" width="6.4" height="6.0" rx="1.2" fill="#f0ab99"/>
<rect x="583.37" y="339.30" width="4.4" height="4.4" fill="#f9d8ce" opacity="0.5"/>
<rect x="576.23" y="344.20" width="4.6" height="4.0" fill="#f9d8ce" opacity="0.6"/>
<rect x="575.32" y="338.50" width="6.4" height="6.0" rx="1.2" fill="#f1ad9a"/>
<rect x="597.47" y="339.30" width="4.4" height="4.4" fill="#f7d0c3" opacity="0.5"/>
<rect x="590.33" y="344.20" width="4.6" height="4.0" fill="#f7d0c3" opacity="0.6"/>
<rect x="589.42" y="338.50" width="6.4" height="6.0" rx="1.2" fill="#e98c79"/>
<rect x="611.57" y="339.30" width="4.4" height="4.4" fill="#f6c6b7" opacity="0.5"/>
<rect x="604.43" y="344.20" width="4.6" height="4.0" fill="#f6c6b7" opacity="0.6"/>
<rect x="603.52" y="338.50" width="6.4" height="6.0" rx="1.2" fill="#d85f57"/>
<rect x="625.67" y="339.30" width="4.4" height="4.4" fill="#f5c0ae" opacity="0.5"/>
<rect x="618.53" y="344.20" width="4.6" height="4.0" fill="#f5c0ae" opacity="0.6"/>
<rect x="617.62" y="338.50" width="6.4" height="6.0" rx="1.2" fill="#c83e41"/>
<rect x="639.77" y="339.30" width="4.4" height="4.4" fill="#f5c0af" opacity="0.5"/>
<rect x="632.62" y="344.20" width="4.6" height="4.0" fill="#f5c0af" opacity="0.6"/>
<rect x="631.72" y="338.50" width="6.4" height="6.0" rx="1.2" fill="#ca4143"/>
<rect x="653.87" y="339.30" width="4.4" height="4.4" fill="#f6c8b8" opacity="0.5"/>
<rect x="646.73" y="344.20" width="4.6" height="4.0" fill="#f6c8b8" opacity="0.6"/>
<rect x="645.82" y="338.50" width="6.4" height="6.0" rx="1.2" fill="#da655b"/>
<rect x="667.97" y="339.30" width="4.4" height="4.4" fill="#f8d1c5" opacity="0.5"/>
<rect x="660.83" y="344.20" width="4.6" height="4.0" fill="#f8d1c5" opacity="0.6"/>
<rect x="659.92" y="338.50" width="6.4" height="6.0" rx="1.2" fill="#ea917d"/>
<rect x="682.07" y="339.30" width="4.4" height="4.4" fill="#f9d9cf" opacity="0.5"/>
<rect x="674.93" y="344.20" width="4.6" height="4.0" fill="#f9d9cf" opacity="0.6"/>
<rect x="674.02" y="338.50" width="6.4" height="6.0" rx="1.2" fill="#f1b09d"/>
<rect x="583.85" y="348.75" width="4.4" height="4.4" fill="#f9dacf" opacity="0.5"/>
<rect x="576.70" y="353.65" width="4.6" height="4.0" fill="#f9dacf" opacity="0.6"/>
<rect x="575.80" y="347.95" width="6.4" height="6.0" rx="1.2" fill="#f2b29f"/>
<rect x="597.95" y="348.75" width="4.4" height="4.4" fill="#f8d3c7" opacity="0.5"/>
<rect x="590.80" y="353.65" width="4.6" height="4.0" fill="#f8d3c7" opacity="0.6"/>
<rect x="589.90" y="347.95" width="6.4" height="6.0" rx="1.2" fill="#eb9784"/>
<rect x="612.05" y="348.75" width="4.4" height="4.4" fill="#f7cbbd" opacity="0.5"/>
<rect x="604.90" y="353.65" width="4.6" height="4.0" fill="#f7cbbd" opacity="0.6"/>
<rect x="604.00" y="347.95" width="6.4" height="6.0" rx="1.2" fill="#e17666"/>
<rect x="626.15" y="348.75" width="4.4" height="4.4" fill="#f6c6b6" opacity="0.5"/>
<rect x="619.00" y="353.65" width="4.6" height="4.0" fill="#f6c6b6" opacity="0.6"/>
<rect x="618.10" y="347.95" width="6.4" height="6.0" rx="1.2" fill="#d65c55"/>
<rect x="640.25" y="348.75" width="4.4" height="4.4" fill="#f6c6b7" opacity="0.5"/>
<rect x="633.10" y="353.65" width="4.6" height="4.0" fill="#f6c6b7" opacity="0.6"/>
<rect x="632.20" y="347.95" width="6.4" height="6.0" rx="1.2" fill="#d85f57"/>
<rect x="654.35" y="348.75" width="4.4" height="4.4" fill="#f7cdbf" opacity="0.5"/>
<rect x="647.20" y="353.65" width="4.6" height="4.0" fill="#f7cdbf" opacity="0.6"/>
<rect x="646.30" y="347.95" width="6.4" height="6.0" rx="1.2" fill="#e47d6a"/>
<rect x="668.45" y="348.75" width="4.4" height="4.4" fill="#f8d4c9" opacity="0.5"/>
<rect x="661.30" y="353.65" width="4.6" height="4.0" fill="#f8d4c9" opacity="0.6"/>
<rect x="660.40" y="347.95" width="6.4" height="6.0" rx="1.2" fill="#ed9d8a"/>
<rect x="682.55" y="348.75" width="4.4" height="4.4" fill="#f9dbd0" opacity="0.5"/>
<rect x="675.40" y="353.65" width="4.6" height="4.0" fill="#f9dbd0" opacity="0.6"/>
<rect x="674.50" y="347.95" width="6.4" height="6.0" rx="1.2" fill="#f3b6a3"/>
<rect x="584.32" y="358.20" width="4.4" height="4.4" fill="#f9dbd1" opacity="0.5"/>
<rect x="577.17" y="363.10" width="4.6" height="4.0" fill="#f9dbd1" opacity="0.6"/>
<rect x="576.27" y="357.40" width="6.4" height="6.0" rx="1.2" fill="#f3b8a6"/>
<rect x="598.42" y="358.20" width="4.4" height="4.4" fill="#f8d6cb" opacity="0.5"/>
<rect x="591.27" y="363.10" width="4.6" height="4.0" fill="#f8d6cb" opacity="0.6"/>
<rect x="590.37" y="357.40" width="6.4" height="6.0" rx="1.2" fill="#efa491"/>
<rect x="612.52" y="358.20" width="4.4" height="4.4" fill="#f8d1c4" opacity="0.5"/>
<rect x="605.37" y="363.10" width="4.6" height="4.0" fill="#f8d1c4" opacity="0.6"/>
<rect x="604.47" y="357.40" width="6.4" height="6.0" rx="1.2" fill="#e98d7a"/>
<rect x="626.62" y="358.20" width="4.4" height="4.4" fill="#f7cdbf" opacity="0.5"/>
<rect x="619.47" y="363.10" width="4.6" height="4.0" fill="#f7cdbf" opacity="0.6"/>
<rect x="618.57" y="357.40" width="6.4" height="6.0" rx="1.2" fill="#e47e6b"/>
<rect x="640.72" y="358.20" width="4.4" height="4.4" fill="#f7cdc0" opacity="0.5"/>
<rect x="633.57" y="363.10" width="4.6" height="4.0" fill="#f7cdc0" opacity="0.6"/>
<rect x="632.67" y="357.40" width="6.4" height="6.0" rx="1.2" fill="#e5806d"/>
<rect x="654.82" y="358.20" width="4.4" height="4.4" fill="#f8d2c5" opacity="0.5"/>
<rect x="647.67" y="363.10" width="4.6" height="4.0" fill="#f8d2c5" opacity="0.6"/>
<rect x="646.77" y="357.40" width="6.4" height="6.0" rx="1.2" fill="#ea9380"/>
<rect x="668.92" y="358.20" width="4.4" height="4.4" fill="#f9d8cd" opacity="0.5"/>
<rect x="661.77" y="363.10" width="4.6" height="4.0" fill="#f9d8cd" opacity="0.6"/>
<rect x="660.87" y="357.40" width="6.4" height="6.0" rx="1.2" fill="#f0aa97"/>
<rect x="683.02" y="358.20" width="4.4" height="4.4" fill="#f9dcd2" opacity="0.5"/>
<rect x="675.87" y="363.10" width="4.6" height="4.0" fill="#f9dcd2" opacity="0.6"/>
<rect x="674.97" y="357.40" width="6.4" height="6.0" rx="1.2" fill="#f4bba9"/>
<rect x="584.79" y="367.65" width="4.4" height="4.4" fill="#f9ddd3" opacity="0.5"/>
<rect x="577.64" y="372.55" width="4.6" height="4.0" fill="#f9ddd3" opacity="0.6"/>
<rect x="576.74" y="366.85" width="6.4" height="6.0" rx="1.2" fill="#f5beac"/>
<rect x="598.89" y="367.65" width="4.4" height="4.4" fill="#f9d9cf" opacity="0.5"/>
<rect x="591.74" y="372.55" width="4.6" height="4.0" fill="#f9d9cf" opacity="0.6"/>
<rect x="590.84" y="366.85" width="6.4" height="6.0" rx="1.2" fill="#f2b09e"/>
<rect x="612.99" y="367.65" width="4.4" height="4.4" fill="#f8d6ca" opacity="0.5"/>
<rect x="605.84" y="372.55" width="4.6" height="4.0" fill="#f8d6ca" opacity="0.6"/>
<rect x="604.94" y="366.85" width="6.4" height="6.0" rx="1.2" fill="#eea18e"/>
<rect x="627.09" y="367.65" width="4.4" height="4.4" fill="#f8d3c7" opacity="0.5"/>
<rect x="619.94" y="372.55" width="4.6" height="4.0" fill="#f8d3c7" opacity="0.6"/>
<rect x="619.04" y="366.85" width="6.4" height="6.0" rx="1.2" fill="#eb9884"/>
<rect x="641.19" y="367.65" width="4.4" height="4.4" fill="#f8d4c8" opacity="0.5"/>
<rect x="634.04" y="372.55" width="4.6" height="4.0" fill="#f8d4c8" opacity="0.6"/>
<rect x="633.14" y="366.85" width="6.4" height="6.0" rx="1.2" fill="#ec9a86"/>
<rect x="655.29" y="367.65" width="4.4" height="4.4" fill="#f8d7cb" opacity="0.5"/>
<rect x="648.14" y="372.55" width="4.6" height="4.0" fill="#f8d7cb" opacity="0.6"/>
<rect x="647.24" y="366.85" width="6.4" height="6.0" rx="1.2" fill="#efa693"/>
<rect x="669.39" y="367.65" width="4.4" height="4.4" fill="#f9dbd0" opacity="0.5"/>
<rect x="662.24" y="372.55" width="4.6" height="4.0" fill="#f9dbd0" opacity="0.6"/>
<rect x="661.34" y="366.85" width="6.4" height="6.0" rx="1.2" fill="#f3b5a3"/>
<rect x="683.49" y="367.65" width="4.4" height="4.4" fill="#f9ddd4" opacity="0.5"/>
<rect x="676.34" y="372.55" width="4.6" height="4.0" fill="#f9ddd4" opacity="0.6"/>
<rect x="675.44" y="366.85" width="6.4" height="6.0" rx="1.2" fill="#f5c0ae"/>
<rect x="585.26" y="377.10" width="4.4" height="4.4" fill="#f9ded4" opacity="0.5"/>
<rect x="578.12" y="382.00" width="4.6" height="4.0" fill="#f9ded4" opacity="0.6"/>
<rect x="577.21" y="376.30" width="6.4" height="6.0" rx="1.2" fill="#f5c1b0"/>
<rect x="599.36" y="377.10" width="4.4" height="4.4" fill="#f9dcd2" opacity="0.5"/>
<rect x="592.22" y="382.00" width="4.6" height="4.0" fill="#f9dcd2" opacity="0.6"/>
<rect x="591.31" y="376.30" width="6.4" height="6.0" rx="1.2" fill="#f4baa8"/>
<rect x="613.46" y="377.10" width="4.4" height="4.4" fill="#f9dacf" opacity="0.5"/>
<rect x="606.32" y="382.00" width="4.6" height="4.0" fill="#f9dacf" opacity="0.6"/>
<rect x="605.41" y="376.30" width="6.4" height="6.0" rx="1.2" fill="#f2b19f"/>
<rect x="627.56" y="377.10" width="4.4" height="4.4" fill="#f9d8cd" opacity="0.5"/>
<rect x="620.42" y="382.00" width="4.6" height="4.0" fill="#f9d8cd" opacity="0.6"/>
<rect x="619.51" y="376.30" width="6.4" height="6.0" rx="1.2" fill="#f0ac99"/>
<rect x="641.66" y="377.10" width="4.4" height="4.4" fill="#f9d8ce" opacity="0.5"/>
<rect x="634.51" y="382.00" width="4.6" height="4.0" fill="#f9d8ce" opacity="0.6"/>
<rect x="633.61" y="376.30" width="6.4" height="6.0" rx="1.2" fill="#f1ad9b"/>
<rect x="655.76" y="377.10" width="4.4" height="4.4" fill="#f9dad0" opacity="0.5"/>
<rect x="648.62" y="382.00" width="4.6" height="4.0" fill="#f9dad0" opacity="0.6"/>
<rect x="647.71" y="376.30" width="6.4" height="6.0" rx="1.2" fill="#f3b5a2"/>
<rect x="669.86" y="377.10" width="4.4" height="4.4" fill="#f9ddd3" opacity="0.5"/>
<rect x="662.72" y="382.00" width="4.6" height="4.0" fill="#f9ddd3" opacity="0.6"/>
<rect x="661.81" y="376.30" width="6.4" height="6.0" rx="1.2" fill="#f5beac"/>
<rect x="683.96" y="377.10" width="4.4" height="4.4" fill="#f9ded5" opacity="0.5"/>
<rect x="676.82" y="382.00" width="4.6" height="4.0" fill="#f9ded5" opacity="0.6"/>
<rect x="675.91" y="376.30" width="6.4" height="6.0" rx="1.2" fill="#f6c3b2"/>
</g></g>
<rect x="481.4" y="278.2" width="10.8" height="18" fill="#16a84e"/>
<text x="486.8" y="292.6" font-size="14.5" text-anchor="middle" fill="#fff" font-weight="bold" >1</text>
<rect x="582.1" y="278.1" width="10.9" height="18.3" fill="#16a84e"/>
<text x="587.6" y="292.6" font-size="14.5" text-anchor="middle" fill="#fff" font-weight="bold" >2</text>
<text x="515.5" y="303.5" font-size="14" text-anchor="start" fill="#000" >0.51 Å<tspan font-size="9.6" dy="-5.2">-1</tspan></text>
<text x="530.9" y="348.7" font-size="14" text-anchor="start" fill="#000" >0.49 Å<tspan font-size="9.6" dy="-5.2">-1</tspan></text>
<text x="606.3" y="298.5" font-size="14" text-anchor="start" fill="#000" >0.52 Å<tspan font-size="9.6" dy="-5.2">-1</tspan></text>
<text x="637.2" y="341.4" font-size="14" text-anchor="start" fill="#000" >0.35 Å<tspan font-size="9.6" dy="-5.2">-1</tspan></text>
<text x="486.2" y="369.6" font-size="13.8" text-anchor="start" fill="#111" textLength="31.3" lengthAdjust="spacingAndGlyphs" >[100]</text>
<text x="586.0" y="371.2" font-size="13.8" text-anchor="start" fill="#111" textLength="31.8" lengthAdjust="spacingAndGlyphs" >[110]</text>
<path d="M531.7,326.6 V315.5 M530.8000000000001,326.6 H542.0" stroke="#000" stroke-width="1.9" fill="none"/>
<path d="M531.7,309.0 L527.9000000000001,316.0 L535.5,316.0 Z M548.5,326.6 L541.5,323.0 L541.5,330.20000000000005 Z" fill="#000"/>
<path d="M634.0,321.0 V308.9 M633.1,321.0 H643.8" stroke="#000" stroke-width="1.9" fill="none"/>
<path d="M634.0,302.4 L630.2,309.4 L637.8,309.4 Z M650.3,321.0 L643.3,317.4 L643.3,324.6 Z" fill="#000"/>
<rect x="529.2" y="386.9" width="142.5" height="64.6" fill="#fff" stroke="#8e8e8e" stroke-width="1.6"/>
<defs>
<radialGradient id="gPb" cx="0.45" cy="0.42" r="0.6"><stop offset="0" stop-color="#ffd0ec"/><stop offset="0.35" stop-color="#f040a0"/><stop offset="1" stop-color="#c0106a"/></radialGradient>
<radialGradient id="gPb2" cx="0.5" cy="0.5" r="0.5"><stop offset="0" stop-color="#e82020"/><stop offset="0.3" stop-color="#d81870"/><stop offset="0.8" stop-color="#d8186e"/><stop offset="1" stop-color="#a8105a"/></radialGradient>
<radialGradient id="gB" cx="0.45" cy="0.42" r="0.6"><stop offset="0" stop-color="#a0a0ff"/><stop offset="0.4" stop-color="#2020f0"/><stop offset="1" stop-color="#1010b0"/></radialGradient>
<radialGradient id="gO" cx="0.45" cy="0.42" r="0.6"><stop offset="0" stop-color="#ff8080"/><stop offset="0.5" stop-color="#e82020"/><stop offset="1" stop-color="#c01010"/></radialGradient>
</defs>
<circle cx="484.9" cy="402.6" r="4.6" fill="url(#gPb)"/>
<circle cx="485.2" cy="420.6" r="4.0" fill="url(#gB)"/>
<circle cx="484.9" cy="438.3" r="2.8" fill="url(#gO)"/>
<text x="496.3" y="410.5" font-size="13.8" text-anchor="start" fill="#111" textLength="17.2" lengthAdjust="spacingAndGlyphs" >Pb</text>
<text x="495.9" y="428.1" font-size="13.8" text-anchor="start" fill="#111" textLength="29.7" lengthAdjust="spacingAndGlyphs" >Ti/Zr</text>
<text x="496.8" y="446.2" font-size="13.8" text-anchor="start" fill="#111" textLength="10.5" lengthAdjust="spacingAndGlyphs" >O</text>
<text x="515.0" y="471.3" font-size="14.1" text-anchor="start" fill="#111" textLength="155.5" lengthAdjust="spacingAndGlyphs" >Continuous grain growth</text>
<circle cx="532.9" cy="392.4" r="1.9" fill="url(#gB)"/>
<circle cx="532.9" cy="394.0" r="1.1" fill="#e82020"/>
<circle cx="532.9" cy="411.5" r="1.9" fill="url(#gB)"/>
<circle cx="532.9" cy="413.1" r="1.1" fill="#e82020"/>
<circle cx="532.9" cy="431.2" r="1.9" fill="url(#gB)"/>
<circle cx="532.9" cy="432.8" r="1.1" fill="#e82020"/>
<circle cx="532.9" cy="403.9" r="1.2" fill="#e82020"/>
<circle cx="532.9" cy="423.2" r="1.2" fill="#e82020"/>
<circle cx="532.9" cy="442.4" r="1.2" fill="#e82020"/>
<circle cx="552.3" cy="392.4" r="1.9" fill="url(#gB)"/>
<circle cx="552.3" cy="394.0" r="1.1" fill="#e82020"/>
<circle cx="552.3" cy="411.5" r="1.9" fill="url(#gB)"/>
<circle cx="552.3" cy="413.1" r="1.1" fill="#e82020"/>
<circle cx="552.3" cy="431.2" r="1.9" fill="url(#gB)"/>
<circle cx="552.3" cy="432.8" r="1.1" fill="#e82020"/>
<circle cx="552.3" cy="403.9" r="1.2" fill="#e82020"/>
<circle cx="552.3" cy="423.2" r="1.2" fill="#e82020"/>
<circle cx="552.3" cy="442.4" r="1.2" fill="#e82020"/>
<circle cx="571.7" cy="392.4" r="1.9" fill="url(#gB)"/>
<circle cx="571.7" cy="394.0" r="1.1" fill="#e82020"/>
<circle cx="571.7" cy="411.5" r="1.9" fill="url(#gB)"/>
<circle cx="571.7" cy="413.1" r="1.1" fill="#e82020"/>
<circle cx="571.7" cy="431.2" r="1.9" fill="url(#gB)"/>
<circle cx="571.7" cy="432.8" r="1.1" fill="#e82020"/>
<circle cx="571.7" cy="403.9" r="1.2" fill="#e82020"/>
<circle cx="571.7" cy="423.2" r="1.2" fill="#e82020"/>
<circle cx="571.7" cy="442.4" r="1.2" fill="#e82020"/>
<circle cx="591.2" cy="392.4" r="1.9" fill="url(#gB)"/>
<circle cx="591.2" cy="394.0" r="1.1" fill="#e82020"/>
<circle cx="591.2" cy="411.5" r="1.9" fill="url(#gB)"/>
<circle cx="591.2" cy="413.1" r="1.1" fill="#e82020"/>
<circle cx="591.2" cy="431.2" r="1.9" fill="url(#gB)"/>
<circle cx="591.2" cy="432.8" r="1.1" fill="#e82020"/>
<circle cx="591.2" cy="403.9" r="1.2" fill="#e82020"/>
<circle cx="591.2" cy="423.2" r="1.2" fill="#e82020"/>
<circle cx="591.2" cy="442.4" r="1.2" fill="#e82020"/>
<circle cx="542.9" cy="393.9" r="1.2" fill="#e82020"/>
<circle cx="542.9" cy="413.3" r="1.2" fill="#e82020"/>
<circle cx="542.9" cy="433.0" r="1.2" fill="#e82020"/>
<circle cx="542.9" cy="403.9" r="3.9" fill="url(#gPb)"/>
<circle cx="542.9" cy="423.2" r="3.9" fill="url(#gPb)"/>
<circle cx="542.9" cy="442.4" r="3.9" fill="url(#gPb)"/>
<circle cx="562.1" cy="393.9" r="1.2" fill="#e82020"/>
<circle cx="562.1" cy="413.3" r="1.2" fill="#e82020"/>
<circle cx="562.1" cy="433.0" r="1.2" fill="#e82020"/>
<circle cx="562.1" cy="403.9" r="3.9" fill="url(#gPb)"/>
<circle cx="562.1" cy="423.2" r="3.9" fill="url(#gPb)"/>
<circle cx="562.1" cy="442.4" r="3.9" fill="url(#gPb)"/>
<circle cx="581.4" cy="393.9" r="1.2" fill="#e82020"/>
<circle cx="581.4" cy="413.3" r="1.2" fill="#e82020"/>
<circle cx="581.4" cy="433.0" r="1.2" fill="#e82020"/>
<circle cx="581.4" cy="403.9" r="3.9" fill="url(#gPb)"/>
<circle cx="581.4" cy="423.2" r="3.9" fill="url(#gPb)"/>
<circle cx="581.4" cy="442.4" r="3.9" fill="url(#gPb)"/>
<circle cx="600.8" cy="403.9" r="4.1" fill="url(#gPb2)"/>
<circle cx="600.8" cy="423.2" r="4.1" fill="url(#gPb2)"/>
<circle cx="600.8" cy="442.4" r="4.1" fill="url(#gPb2)"/>
<circle cx="614.7" cy="403.9" r="4.1" fill="url(#gPb2)"/>
<circle cx="614.7" cy="423.2" r="4.1" fill="url(#gPb2)"/>
<circle cx="614.7" cy="442.4" r="4.1" fill="url(#gPb2)"/>
<circle cx="628.6" cy="403.9" r="4.1" fill="url(#gPb2)"/>
<circle cx="628.6" cy="423.2" r="4.1" fill="url(#gPb2)"/>
<circle cx="628.6" cy="442.4" r="4.1" fill="url(#gPb2)"/>
<circle cx="642.3" cy="403.9" r="4.1" fill="url(#gPb2)"/>
<circle cx="642.3" cy="423.2" r="4.1" fill="url(#gPb2)"/>
<circle cx="642.3" cy="442.4" r="4.1" fill="url(#gPb2)"/>
<circle cx="656.1" cy="403.9" r="4.1" fill="url(#gPb2)"/>
<circle cx="656.1" cy="423.2" r="4.1" fill="url(#gPb2)"/>
<circle cx="656.1" cy="442.4" r="4.1" fill="url(#gPb2)"/>
<circle cx="614.7" cy="392.4" r="1.9" fill="url(#gB)"/>
<circle cx="614.7" cy="411.5" r="1.9" fill="url(#gB)"/>
<circle cx="614.7" cy="431.2" r="1.9" fill="url(#gB)"/>
<circle cx="628.6" cy="392.4" r="1.9" fill="url(#gB)"/>
<circle cx="628.6" cy="411.5" r="1.9" fill="url(#gB)"/>
<circle cx="628.6" cy="431.2" r="1.9" fill="url(#gB)"/>
<circle cx="642.3" cy="392.4" r="1.9" fill="url(#gB)"/>
<circle cx="642.3" cy="411.5" r="1.9" fill="url(#gB)"/>
<circle cx="642.3" cy="431.2" r="1.9" fill="url(#gB)"/>
<circle cx="656.1" cy="392.4" r="1.9" fill="url(#gB)"/>
<circle cx="656.1" cy="411.5" r="1.9" fill="url(#gB)"/>
<circle cx="656.1" cy="431.2" r="1.9" fill="url(#gB)"/>
<circle cx="607.9" cy="394.4" r="1.2" fill="#e82020"/>
<circle cx="607.9" cy="414.0" r="1.2" fill="#e82020"/>
<circle cx="607.9" cy="433.0" r="1.2" fill="#e82020"/>
<circle cx="621.5" cy="394.4" r="1.2" fill="#e82020"/>
<circle cx="621.5" cy="414.0" r="1.2" fill="#e82020"/>
<circle cx="621.5" cy="433.0" r="1.2" fill="#e82020"/>
<circle cx="635.5" cy="394.4" r="1.2" fill="#e82020"/>
<circle cx="635.5" cy="414.0" r="1.2" fill="#e82020"/>
<circle cx="635.5" cy="433.0" r="1.2" fill="#e82020"/>
<circle cx="649.1" cy="394.4" r="1.2" fill="#e82020"/>
<circle cx="649.1" cy="414.0" r="1.2" fill="#e82020"/>
<circle cx="649.1" cy="433.0" r="1.2" fill="#e82020"/>
<circle cx="662.9" cy="394.4" r="1.2" fill="#e82020"/>
<circle cx="662.9" cy="414.0" r="1.2" fill="#e82020"/>
<circle cx="662.9" cy="433.0" r="1.2" fill="#e82020"/>
<g fill="none" stroke="#000" stroke-width="2">
<rect x="571.7" y="392.0" width="19.5" height="39.4"/><line x1="571.7" y1="411.5" x2="591.2" y2="411.5"/>
<rect x="614.7" y="391.2" width="13.9" height="40.2"/><line x1="614.7" y1="411.5" x2="628.6" y2="411.5"/>
</g>
<line x1="592.5" y1="390.9" x2="614" y2="390.9" stroke="#000" stroke-width="1.6" stroke-dasharray="1.6 1.6"/>
<path d="M599.3,403.4 L603.2,410.4 L595.4,410.4 Z" fill="#000"/>
</svg></body></html>
